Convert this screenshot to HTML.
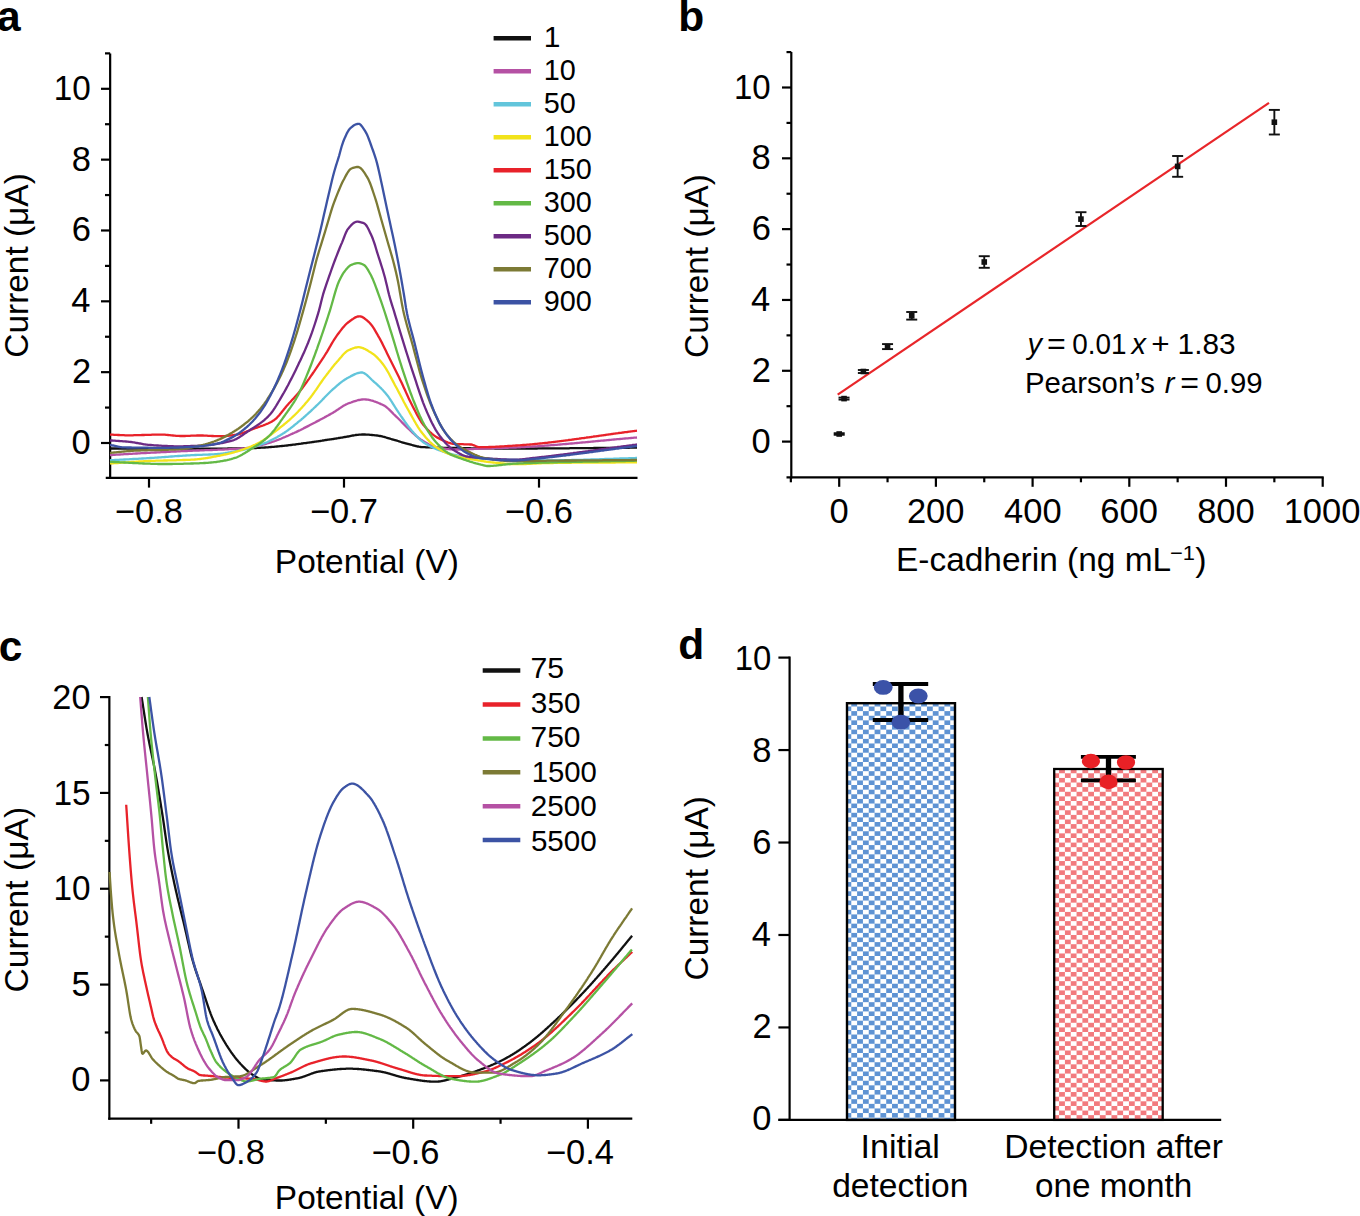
<!DOCTYPE html><html><head><meta charset="utf-8"><style>html,body{margin:0;padding:0;background:#fff;}svg{display:block;}text{font-family:"Liberation Sans", sans-serif;fill:#000;}</style></head><body>
<svg width="1360" height="1216" viewBox="0 0 1360 1216">
<rect width="1360" height="1216" fill="#fff"/>
<text x="-3.01" y="30.80" font-size="42.50" font-weight="bold" font-style="normal">a</text>
<line x1="101.00" y1="443.00" x2="110.15" y2="443.00" stroke="#000" stroke-width="2.20" stroke-linecap="butt"/>
<text x="71.56" y="454.00" font-size="34.50" font-weight="normal" font-style="normal">0</text>
<line x1="101.00" y1="372.16" x2="110.15" y2="372.16" stroke="#000" stroke-width="2.20" stroke-linecap="butt"/>
<text x="71.95" y="383.16" font-size="34.50" font-weight="normal" font-style="normal">2</text>
<line x1="101.00" y1="301.32" x2="110.15" y2="301.32" stroke="#000" stroke-width="2.20" stroke-linecap="butt"/>
<text x="71.22" y="312.32" font-size="34.50" font-weight="normal" font-style="normal">4</text>
<line x1="101.00" y1="230.48" x2="110.15" y2="230.48" stroke="#000" stroke-width="2.20" stroke-linecap="butt"/>
<text x="71.73" y="241.48" font-size="34.50" font-weight="normal" font-style="normal">6</text>
<line x1="101.00" y1="159.64" x2="110.15" y2="159.64" stroke="#000" stroke-width="2.20" stroke-linecap="butt"/>
<text x="71.71" y="170.64" font-size="34.50" font-weight="normal" font-style="normal">8</text>
<line x1="101.00" y1="88.80" x2="110.15" y2="88.80" stroke="#000" stroke-width="2.20" stroke-linecap="butt"/>
<text x="53.66" y="99.80" font-size="34.50" font-weight="normal" font-style="normal" textLength="37.04" lengthAdjust="spacingAndGlyphs">10</text>
<line x1="105.00" y1="407.58" x2="110.15" y2="407.58" stroke="#000" stroke-width="2.20" stroke-linecap="butt"/>
<line x1="105.00" y1="336.74" x2="110.15" y2="336.74" stroke="#000" stroke-width="2.20" stroke-linecap="butt"/>
<line x1="105.00" y1="265.90" x2="110.15" y2="265.90" stroke="#000" stroke-width="2.20" stroke-linecap="butt"/>
<line x1="105.00" y1="195.06" x2="110.15" y2="195.06" stroke="#000" stroke-width="2.20" stroke-linecap="butt"/>
<line x1="105.00" y1="124.22" x2="110.15" y2="124.22" stroke="#000" stroke-width="2.20" stroke-linecap="butt"/>
<line x1="105.00" y1="53.38" x2="110.15" y2="53.38" stroke="#000" stroke-width="2.20" stroke-linecap="butt"/>
<line x1="110.15" y1="53.38" x2="110.15" y2="479.00" stroke="#000" stroke-width="2.20" stroke-linecap="butt"/>
<line x1="105.75" y1="477.90" x2="637.50" y2="477.90" stroke="#000" stroke-width="2.20" stroke-linecap="butt"/>
<line x1="149.00" y1="477.90" x2="149.00" y2="487.60" stroke="#000" stroke-width="2.20" stroke-linecap="butt"/>
<text x="114.85" y="523.30" font-size="34.50" font-weight="normal" font-style="normal">−0.8</text>
<line x1="344.00" y1="477.90" x2="344.00" y2="487.60" stroke="#000" stroke-width="2.20" stroke-linecap="butt"/>
<text x="309.96" y="523.30" font-size="34.50" font-weight="normal" font-style="normal">−0.7</text>
<line x1="539.00" y1="477.90" x2="539.00" y2="487.60" stroke="#000" stroke-width="2.20" stroke-linecap="butt"/>
<text x="504.85" y="523.30" font-size="34.50" font-weight="normal" font-style="normal">−0.6</text>
<text x="274.86" y="572.60" font-size="34.00" font-weight="normal" font-style="normal" textLength="184.02" lengthAdjust="spacingAndGlyphs">Potential (V)</text>
<text transform="translate(27.80 356.00) rotate(-90)" x="-1.70" y="0" font-size="34" textLength="184.47" lengthAdjust="spacingAndGlyphs">Current (μA)</text>
<g fill="none" stroke-width="2.3" stroke-linejoin="round">
<path d="M110.0 448.5 L111.0 448.5 L112.0 448.5 L113.0 448.5 L114.0 448.5 L115.0 448.5 L116.0 448.5 L117.0 448.5 L118.0 448.5 L119.0 448.5 L120.0 448.5 L121.0 448.5 L122.0 448.5 L123.0 448.5 L124.0 448.5 L125.0 448.5 L126.0 448.6 L127.0 448.6 L128.0 448.6 L129.0 448.6 L130.0 448.6 L131.0 448.6 L132.0 448.6 L133.0 448.6 L134.0 448.6 L135.0 448.6 L136.0 448.6 L137.0 448.6 L138.0 448.6 L139.0 448.6 L140.0 448.6 L141.0 448.6 L142.0 448.6 L143.0 448.6 L144.0 448.6 L145.0 448.6 L146.0 448.6 L147.0 448.6 L148.0 448.6 L149.0 448.6 L150.0 448.6 L151.0 448.6 L152.0 448.6 L153.0 448.6 L154.0 448.7 L155.0 448.7 L156.0 448.7 L157.0 448.7 L158.0 448.7 L159.0 448.7 L160.0 448.7 L161.0 448.7 L162.0 448.7 L163.0 448.7 L164.0 448.7 L165.0 448.7 L166.0 448.7 L167.0 448.7 L168.0 448.7 L169.0 448.7 L170.0 448.7 L171.0 448.7 L172.0 448.7 L173.0 448.7 L174.0 448.7 L175.0 448.7 L176.0 448.7 L177.0 448.7 L178.0 448.7 L179.0 448.7 L180.0 448.7 L181.0 448.7 L182.0 448.7 L183.0 448.7 L184.0 448.7 L185.0 448.7 L186.0 448.7 L187.0 448.7 L188.0 448.7 L189.0 448.7 L190.0 448.7 L191.0 448.7 L192.0 448.7 L193.0 448.7 L194.0 448.7 L195.0 448.7 L196.0 448.7 L197.0 448.7 L198.0 448.7 L199.0 448.7 L200.0 448.8 L201.0 448.7 L202.0 448.7 L203.0 448.7 L204.0 448.7 L205.0 448.7 L206.0 448.7 L207.0 448.7 L208.0 448.7 L209.0 448.7 L210.0 448.7 L211.0 448.7 L212.0 448.7 L213.0 448.7 L214.0 448.7 L215.0 448.7 L216.0 448.7 L217.0 448.7 L218.0 448.7 L219.0 448.6 L220.0 448.6 L221.0 448.6 L222.0 448.6 L223.0 448.6 L224.0 448.6 L225.0 448.6 L226.0 448.6 L227.0 448.6 L228.0 448.5 L229.0 448.5 L230.0 448.5 L231.0 448.5 L232.0 448.5 L233.0 448.5 L234.0 448.4 L235.0 448.4 L236.0 448.4 L237.0 448.4 L238.0 448.4 L239.0 448.3 L240.0 448.3 L241.0 448.3 L242.0 448.3 L243.0 448.3 L244.0 448.2 L245.0 448.2 L246.0 448.2 L247.0 448.2 L248.0 448.2 L249.0 448.1 L250.0 448.1 L251.0 448.1 L252.0 448.1 L253.0 448.0 L254.0 448.0 L255.0 448.0 L256.0 448.0 L257.0 447.9 L258.0 447.9 L259.0 447.8 L260.0 447.8 L261.0 447.7 L262.0 447.7 L263.0 447.6 L264.0 447.6 L265.0 447.5 L266.0 447.4 L267.0 447.3 L268.0 447.3 L269.0 447.2 L270.0 447.1 L271.0 447.0 L272.0 446.9 L273.0 446.8 L274.0 446.8 L275.0 446.7 L276.0 446.6 L277.0 446.5 L278.0 446.4 L279.0 446.3 L280.0 446.2 L281.0 446.1 L282.0 446.0 L283.0 445.9 L284.0 445.8 L285.0 445.7 L286.0 445.6 L287.0 445.5 L288.0 445.4 L289.0 445.2 L290.0 445.1 L291.0 445.0 L292.0 444.9 L293.0 444.7 L294.0 444.6 L295.0 444.5 L296.0 444.3 L297.0 444.2 L298.0 444.1 L299.0 443.9 L300.0 443.8 L301.0 443.7 L302.0 443.5 L303.0 443.4 L304.0 443.2 L305.0 443.1 L306.0 443.0 L307.0 442.8 L308.0 442.7 L309.0 442.6 L310.0 442.4 L311.0 442.3 L312.0 442.1 L313.0 442.0 L314.0 441.9 L315.0 441.7 L316.0 441.6 L317.0 441.4 L318.0 441.3 L319.0 441.1 L320.0 441.0 L321.0 440.8 L322.0 440.7 L323.0 440.5 L324.0 440.4 L325.0 440.2 L326.0 440.0 L327.0 439.9 L328.0 439.7 L329.0 439.6 L330.0 439.4 L331.0 439.3 L332.0 439.1 L333.0 439.0 L334.0 438.8 L335.0 438.6 L336.0 438.5 L337.0 438.3 L338.0 438.2 L339.0 438.0 L340.0 437.9 L341.0 437.7 L342.0 437.6 L343.0 437.4 L344.0 437.2 L345.0 437.0 L346.0 436.9 L347.0 436.7 L348.0 436.5 L349.0 436.3 L350.0 436.1 L351.0 435.9 L352.0 435.7 L353.0 435.5 L354.0 435.3 L355.0 435.2 L356.0 435.0 L357.0 434.9 L358.0 434.8 L359.0 434.7 L360.0 434.6 L361.0 434.6 L362.0 434.5 L363.0 434.5 L364.0 434.5 L365.0 434.5 L366.0 434.6 L367.0 434.6 L368.0 434.7 L369.0 434.7 L370.0 434.8 L371.0 434.9 L372.0 435.0 L373.0 435.1 L374.0 435.2 L375.0 435.3 L376.0 435.4 L377.0 435.5 L378.0 435.6 L379.0 435.8 L380.0 436.0 L381.0 436.2 L382.0 436.4 L383.0 436.7 L384.0 436.9 L385.0 437.2 L386.0 437.5 L387.0 437.8 L388.0 438.1 L389.0 438.4 L390.0 438.7 L391.0 439.0 L392.0 439.3 L393.0 439.5 L394.0 439.8 L395.0 440.1 L396.0 440.4 L397.0 440.7 L398.0 441.0 L399.0 441.3 L400.0 441.7 L401.0 442.0 L402.0 442.3 L403.0 442.6 L404.0 442.9 L405.0 443.2 L406.0 443.5 L407.0 443.7 L408.0 444.0 L409.0 444.2 L410.0 444.5 L411.0 444.7 L412.0 445.0 L413.0 445.3 L414.0 445.5 L415.0 445.8 L416.0 446.0 L417.0 446.3 L418.0 446.5 L419.0 446.7 L420.0 446.8 L421.0 447.0 L422.0 447.1 L423.0 447.2 L424.0 447.2 L425.0 447.2 L426.0 447.3 L427.0 447.3 L428.0 447.3 L429.0 447.4 L430.0 447.4 L431.0 447.4 L432.0 447.5 L433.0 447.5 L434.0 447.5 L435.0 447.5 L436.0 447.6 L437.0 447.6 L438.0 447.6 L439.0 447.7 L440.0 447.7 L441.0 447.7 L442.0 447.7 L443.0 447.8 L444.0 447.8 L445.0 447.8 L446.0 447.8 L447.0 447.8 L448.0 447.9 L449.0 447.9 L450.0 447.9 L451.0 447.9 L452.0 447.9 L453.0 448.0 L454.0 448.0 L455.0 448.0 L456.0 448.0 L457.0 448.0 L458.0 448.1 L459.0 448.1 L460.0 448.1 L461.0 448.1 L462.0 448.1 L463.0 448.1 L464.0 448.2 L465.0 448.2 L466.0 448.2 L467.0 448.2 L468.0 448.2 L469.0 448.2 L470.0 448.2 L471.0 448.3 L472.0 448.3 L473.0 448.3 L474.0 448.3 L475.0 448.3 L476.0 448.3 L477.0 448.3 L478.0 448.3 L479.0 448.3 L480.0 448.4 L481.0 448.4 L482.0 448.4 L483.0 448.4 L484.0 448.4 L485.0 448.4 L486.0 448.4 L487.0 448.4 L488.0 448.4 L489.0 448.4 L490.0 448.4 L491.0 448.4 L492.0 448.4 L493.0 448.4 L494.0 448.4 L495.0 448.5 L496.0 448.5 L497.0 448.5 L498.0 448.5 L499.0 448.5 L500.0 448.5 L501.0 448.5 L502.0 448.5 L503.0 448.5 L504.0 448.5 L505.0 448.5 L506.0 448.5 L507.0 448.5 L508.0 448.5 L509.0 448.5 L510.0 448.5 L511.0 448.5 L512.0 448.5 L513.0 448.5 L514.0 448.5 L515.0 448.5 L516.0 448.5 L517.0 448.5 L518.0 448.5 L519.0 448.5 L520.0 448.5 L521.0 448.5 L522.0 448.5 L523.0 448.5 L524.0 448.5 L525.0 448.5 L526.0 448.5 L527.0 448.5 L528.0 448.5 L529.0 448.5 L530.0 448.5 L531.0 448.5 L532.0 448.5 L533.0 448.5 L534.0 448.5 L535.0 448.5 L536.0 448.5 L537.0 448.5 L538.0 448.4 L539.0 448.4 L540.0 448.4 L541.0 448.4 L542.0 448.4 L543.0 448.4 L544.0 448.4 L545.0 448.4 L546.0 448.4 L547.0 448.4 L548.0 448.4 L549.0 448.4 L550.0 448.4 L551.0 448.4 L552.0 448.4 L553.0 448.4 L554.0 448.4 L555.0 448.4 L556.0 448.3 L557.0 448.3 L558.0 448.3 L559.0 448.3 L560.0 448.3 L561.0 448.3 L562.0 448.3 L563.0 448.3 L564.0 448.3 L565.0 448.3 L566.0 448.3 L567.0 448.3 L568.0 448.3 L569.0 448.3 L570.0 448.2 L571.0 448.2 L572.0 448.2 L573.0 448.2 L574.0 448.2 L575.0 448.2 L576.0 448.2 L577.0 448.2 L578.0 448.2 L579.0 448.2 L580.0 448.2 L581.0 448.2 L582.0 448.1 L583.0 448.1 L584.0 448.1 L585.0 448.1 L586.0 448.1 L587.0 448.1 L588.0 448.1 L589.0 448.1 L590.0 448.1 L591.0 448.1 L592.0 448.1 L593.0 448.1 L594.0 448.0 L595.0 448.0 L596.0 448.0 L597.0 448.0 L598.0 448.0 L599.0 448.0 L600.0 448.0 L601.0 448.0 L602.0 448.0 L603.0 448.0 L604.0 448.0 L605.0 448.0 L606.0 447.9 L607.0 447.9 L608.0 447.9 L609.0 447.9 L610.0 447.9 L611.0 447.9 L612.0 447.9 L613.0 447.9 L614.0 447.9 L615.0 447.9 L616.0 447.9 L617.0 447.8 L618.0 447.8 L619.0 447.8 L620.0 447.8 L621.0 447.8 L622.0 447.8 L623.0 447.8 L624.0 447.8 L625.0 447.8 L626.0 447.8 L627.0 447.8 L628.0 447.8 L629.0 447.8 L630.0 447.7 L631.0 447.7 L632.0 447.7 L633.0 447.7 L634.0 447.7 L635.0 447.7 L636.0 447.7 L637.0 447.7" stroke="#111111"/>
<path d="M110.0 455.1 L111.0 455.0 L112.0 455.0 L113.0 454.9 L114.0 454.9 L115.0 454.8 L116.0 454.7 L117.0 454.7 L118.0 454.6 L119.0 454.6 L120.0 454.5 L121.0 454.4 L122.0 454.4 L123.0 454.3 L124.0 454.2 L125.0 454.2 L126.0 454.1 L127.0 454.1 L128.0 454.0 L129.0 453.9 L130.0 453.9 L131.0 453.8 L132.0 453.8 L133.0 453.7 L134.0 453.6 L135.0 453.6 L136.0 453.5 L137.0 453.5 L138.0 453.4 L139.0 453.4 L140.0 453.3 L141.0 453.2 L142.0 453.2 L143.0 453.1 L144.0 453.1 L145.0 453.0 L146.0 453.0 L147.0 452.9 L148.0 452.9 L149.0 452.8 L150.0 452.8 L151.0 452.7 L152.0 452.7 L153.0 452.6 L154.0 452.6 L155.0 452.5 L156.0 452.5 L157.0 452.4 L158.0 452.4 L159.0 452.3 L160.0 452.3 L161.0 452.2 L162.0 452.2 L163.0 452.1 L164.0 452.1 L165.0 452.0 L166.0 452.0 L167.0 451.9 L168.0 451.9 L169.0 451.8 L170.0 451.8 L171.0 451.7 L172.0 451.7 L173.0 451.6 L174.0 451.6 L175.0 451.5 L176.0 451.5 L177.0 451.4 L178.0 451.4 L179.0 451.3 L180.0 451.3 L181.0 451.2 L182.0 451.2 L183.0 451.2 L184.0 451.1 L185.0 451.1 L186.0 451.0 L187.0 451.0 L188.0 450.9 L189.0 450.9 L190.0 450.8 L191.0 450.8 L192.0 450.8 L193.0 450.7 L194.0 450.7 L195.0 450.6 L196.0 450.6 L197.0 450.5 L198.0 450.5 L199.0 450.5 L200.0 450.4 L201.0 450.4 L202.0 450.4 L203.0 450.3 L204.0 450.3 L205.0 450.2 L206.0 450.2 L207.0 450.2 L208.0 450.1 L209.0 450.1 L210.0 450.1 L211.0 450.0 L212.0 450.0 L213.0 449.9 L214.0 449.9 L215.0 449.9 L216.0 449.8 L217.0 449.8 L218.0 449.7 L219.0 449.7 L220.0 449.7 L221.0 449.6 L222.0 449.6 L223.0 449.5 L224.0 449.5 L225.0 449.4 L226.0 449.4 L227.0 449.3 L228.0 449.3 L229.0 449.2 L230.0 449.2 L231.0 449.1 L232.0 449.1 L233.0 449.0 L234.0 449.0 L235.0 448.9 L236.0 448.8 L237.0 448.8 L238.0 448.7 L239.0 448.7 L240.0 448.6 L241.0 448.5 L242.0 448.4 L243.0 448.4 L244.0 448.3 L245.0 448.2 L246.0 448.1 L247.0 448.0 L248.0 447.9 L249.0 447.8 L250.0 447.6 L251.0 447.4 L252.0 447.3 L253.0 447.1 L254.0 446.9 L255.0 446.7 L256.0 446.5 L257.0 446.2 L258.0 446.0 L259.0 445.7 L260.0 445.5 L261.0 445.2 L262.0 444.9 L263.0 444.6 L264.0 444.4 L265.0 444.1 L266.0 443.8 L267.0 443.5 L268.0 443.2 L269.0 442.9 L270.0 442.6 L271.0 442.3 L272.0 442.0 L273.0 441.7 L274.0 441.3 L275.0 441.0 L276.0 440.6 L277.0 440.2 L278.0 439.9 L279.0 439.5 L280.0 439.1 L281.0 438.7 L282.0 438.2 L283.0 437.8 L284.0 437.4 L285.0 437.0 L286.0 436.5 L287.0 436.1 L288.0 435.7 L289.0 435.2 L290.0 434.8 L291.0 434.3 L292.0 433.9 L293.0 433.4 L294.0 433.0 L295.0 432.5 L296.0 432.1 L297.0 431.6 L298.0 431.1 L299.0 430.6 L300.0 430.2 L301.0 429.7 L302.0 429.2 L303.0 428.7 L304.0 428.1 L305.0 427.6 L306.0 427.1 L307.0 426.6 L308.0 426.1 L309.0 425.6 L310.0 425.0 L311.0 424.5 L312.0 424.0 L313.0 423.5 L314.0 423.0 L315.0 422.5 L316.0 421.9 L317.0 421.4 L318.0 420.9 L319.0 420.4 L320.0 419.8 L321.0 419.3 L322.0 418.8 L323.0 418.2 L324.0 417.7 L325.0 417.1 L326.0 416.6 L327.0 416.0 L328.0 415.5 L329.0 414.9 L330.0 414.4 L331.0 413.8 L332.0 413.3 L333.0 412.7 L334.0 412.1 L335.0 411.5 L336.0 410.8 L337.0 410.1 L338.0 409.5 L339.0 408.8 L340.0 408.1 L341.0 407.4 L342.0 406.8 L343.0 406.1 L344.0 405.5 L345.0 405.0 L346.0 404.4 L347.0 404.0 L348.0 403.5 L349.0 403.2 L350.0 402.8 L351.0 402.5 L352.0 402.1 L353.0 401.7 L354.0 401.4 L355.0 401.1 L356.0 400.8 L357.0 400.5 L358.0 400.2 L359.0 400.0 L360.0 399.8 L361.0 399.6 L362.0 399.5 L363.0 399.4 L364.0 399.4 L365.0 399.4 L366.0 399.5 L367.0 399.6 L368.0 399.7 L369.0 399.9 L370.0 400.1 L371.0 400.4 L372.0 400.6 L373.0 400.9 L374.0 401.3 L375.0 401.6 L376.0 402.0 L377.0 402.4 L378.0 402.8 L379.0 403.2 L380.0 403.6 L381.0 404.1 L382.0 404.5 L383.0 405.0 L384.0 405.5 L385.0 406.1 L386.0 406.8 L387.0 407.6 L388.0 408.5 L389.0 409.4 L390.0 410.4 L391.0 411.4 L392.0 412.4 L393.0 413.4 L394.0 414.5 L395.0 415.4 L396.0 416.4 L397.0 417.3 L398.0 418.3 L399.0 419.3 L400.0 420.3 L401.0 421.3 L402.0 422.4 L403.0 423.4 L404.0 424.4 L405.0 425.4 L406.0 426.4 L407.0 427.4 L408.0 428.3 L409.0 429.2 L410.0 430.2 L411.0 431.2 L412.0 432.1 L413.0 433.1 L414.0 434.0 L415.0 434.9 L416.0 435.8 L417.0 436.7 L418.0 437.5 L419.0 438.3 L420.0 439.0 L421.0 439.7 L422.0 440.3 L423.0 440.9 L424.0 441.6 L425.0 442.2 L426.0 442.8 L427.0 443.4 L428.0 443.9 L429.0 444.5 L430.0 445.0 L431.0 445.4 L432.0 445.9 L433.0 446.3 L434.0 446.6 L435.0 446.9 L436.0 447.1 L437.0 447.3 L438.0 447.5 L439.0 447.7 L440.0 447.9 L441.0 448.1 L442.0 448.3 L443.0 448.4 L444.0 448.6 L445.0 448.7 L446.0 448.9 L447.0 449.0 L448.0 449.1 L449.0 449.2 L450.0 449.3 L451.0 449.4 L452.0 449.4 L453.0 449.5 L454.0 449.5 L455.0 449.5 L456.0 449.5 L457.0 449.5 L458.0 449.5 L459.0 449.5 L460.0 449.4 L461.0 449.4 L462.0 449.4 L463.0 449.4 L464.0 449.3 L465.0 449.3 L466.0 449.3 L467.0 449.2 L468.0 449.2 L469.0 449.2 L470.0 449.1 L471.0 449.1 L472.0 449.0 L473.0 449.0 L474.0 448.9 L475.0 448.9 L476.0 448.9 L477.0 448.8 L478.0 448.8 L479.0 448.7 L480.0 448.7 L481.0 448.6 L482.0 448.6 L483.0 448.6 L484.0 448.5 L485.0 448.5 L486.0 448.5 L487.0 448.4 L488.0 448.4 L489.0 448.4 L490.0 448.3 L491.0 448.3 L492.0 448.3 L493.0 448.2 L494.0 448.2 L495.0 448.2 L496.0 448.2 L497.0 448.1 L498.0 448.1 L499.0 448.1 L500.0 448.0 L501.0 448.0 L502.0 448.0 L503.0 447.9 L504.0 447.9 L505.0 447.9 L506.0 447.8 L507.0 447.8 L508.0 447.8 L509.0 447.7 L510.0 447.7 L511.0 447.7 L512.0 447.6 L513.0 447.6 L514.0 447.5 L515.0 447.5 L516.0 447.5 L517.0 447.4 L518.0 447.4 L519.0 447.3 L520.0 447.3 L521.0 447.2 L522.0 447.2 L523.0 447.1 L524.0 447.1 L525.0 447.0 L526.0 446.9 L527.0 446.9 L528.0 446.8 L529.0 446.8 L530.0 446.7 L531.0 446.7 L532.0 446.6 L533.0 446.5 L534.0 446.5 L535.0 446.4 L536.0 446.3 L537.0 446.3 L538.0 446.2 L539.0 446.1 L540.0 446.1 L541.0 446.0 L542.0 445.9 L543.0 445.8 L544.0 445.8 L545.0 445.7 L546.0 445.6 L547.0 445.5 L548.0 445.5 L549.0 445.4 L550.0 445.3 L551.0 445.2 L552.0 445.2 L553.0 445.1 L554.0 445.0 L555.0 444.9 L556.0 444.8 L557.0 444.8 L558.0 444.7 L559.0 444.6 L560.0 444.5 L561.0 444.4 L562.0 444.3 L563.0 444.2 L564.0 444.2 L565.0 444.1 L566.0 444.0 L567.0 443.9 L568.0 443.8 L569.0 443.7 L570.0 443.6 L571.0 443.5 L572.0 443.5 L573.0 443.4 L574.0 443.3 L575.0 443.2 L576.0 443.1 L577.0 443.0 L578.0 442.9 L579.0 442.8 L580.0 442.7 L581.0 442.6 L582.0 442.5 L583.0 442.4 L584.0 442.3 L585.0 442.3 L586.0 442.2 L587.0 442.1 L588.0 442.0 L589.0 441.9 L590.0 441.8 L591.0 441.7 L592.0 441.6 L593.0 441.5 L594.0 441.4 L595.0 441.3 L596.0 441.2 L597.0 441.1 L598.0 441.0 L599.0 440.9 L600.0 440.8 L601.0 440.7 L602.0 440.6 L603.0 440.6 L604.0 440.5 L605.0 440.4 L606.0 440.3 L607.0 440.2 L608.0 440.1 L609.0 440.0 L610.0 439.9 L611.0 439.8 L612.0 439.7 L613.0 439.6 L614.0 439.5 L615.0 439.4 L616.0 439.3 L617.0 439.2 L618.0 439.2 L619.0 439.1 L620.0 439.0 L621.0 438.9 L622.0 438.8 L623.0 438.7 L624.0 438.6 L625.0 438.5 L626.0 438.4 L627.0 438.3 L628.0 438.3 L629.0 438.2 L630.0 438.1 L631.0 438.0 L632.0 437.9 L633.0 437.8 L634.0 437.7 L635.0 437.7 L636.0 437.6 L637.0 437.5" stroke="#b551a4"/>
<path d="M110.0 460.3 L111.0 460.2 L112.0 460.2 L113.0 460.1 L114.0 460.1 L115.0 460.0 L116.0 460.0 L117.0 459.9 L118.0 459.9 L119.0 459.8 L120.0 459.7 L121.0 459.7 L122.0 459.6 L123.0 459.6 L124.0 459.5 L125.0 459.5 L126.0 459.4 L127.0 459.4 L128.0 459.3 L129.0 459.3 L130.0 459.2 L131.0 459.1 L132.0 459.1 L133.0 459.0 L134.0 459.0 L135.0 458.9 L136.0 458.9 L137.0 458.8 L138.0 458.8 L139.0 458.7 L140.0 458.6 L141.0 458.6 L142.0 458.5 L143.0 458.5 L144.0 458.4 L145.0 458.3 L146.0 458.3 L147.0 458.2 L148.0 458.2 L149.0 458.1 L150.0 458.0 L151.0 458.0 L152.0 457.9 L153.0 457.8 L154.0 457.8 L155.0 457.7 L156.0 457.6 L157.0 457.6 L158.0 457.5 L159.0 457.4 L160.0 457.4 L161.0 457.3 L162.0 457.2 L163.0 457.1 L164.0 457.1 L165.0 457.0 L166.0 456.9 L167.0 456.8 L168.0 456.8 L169.0 456.7 L170.0 456.6 L171.0 456.5 L172.0 456.5 L173.0 456.4 L174.0 456.3 L175.0 456.2 L176.0 456.2 L177.0 456.1 L178.0 456.0 L179.0 456.0 L180.0 455.9 L181.0 455.8 L182.0 455.8 L183.0 455.7 L184.0 455.6 L185.0 455.6 L186.0 455.5 L187.0 455.4 L188.0 455.4 L189.0 455.3 L190.0 455.3 L191.0 455.2 L192.0 455.2 L193.0 455.1 L194.0 455.1 L195.0 455.0 L196.0 455.0 L197.0 454.9 L198.0 454.9 L199.0 454.9 L200.0 454.8 L201.0 454.8 L202.0 454.8 L203.0 454.7 L204.0 454.7 L205.0 454.7 L206.0 454.6 L207.0 454.6 L208.0 454.6 L209.0 454.5 L210.0 454.5 L211.0 454.4 L212.0 454.4 L213.0 454.3 L214.0 454.3 L215.0 454.2 L216.0 454.2 L217.0 454.1 L218.0 454.0 L219.0 453.9 L220.0 453.8 L221.0 453.7 L222.0 453.6 L223.0 453.5 L224.0 453.3 L225.0 453.2 L226.0 453.0 L227.0 452.9 L228.0 452.7 L229.0 452.5 L230.0 452.4 L231.0 452.2 L232.0 452.0 L233.0 451.8 L234.0 451.6 L235.0 451.4 L236.0 451.2 L237.0 451.0 L238.0 450.8 L239.0 450.6 L240.0 450.4 L241.0 450.2 L242.0 450.0 L243.0 449.8 L244.0 449.6 L245.0 449.3 L246.0 449.1 L247.0 448.8 L248.0 448.6 L249.0 448.3 L250.0 448.0 L251.0 447.8 L252.0 447.5 L253.0 447.2 L254.0 446.9 L255.0 446.6 L256.0 446.2 L257.0 445.9 L258.0 445.6 L259.0 445.2 L260.0 444.9 L261.0 444.5 L262.0 444.2 L263.0 443.8 L264.0 443.4 L265.0 443.0 L266.0 442.6 L267.0 442.2 L268.0 441.7 L269.0 441.3 L270.0 440.8 L271.0 440.3 L272.0 439.8 L273.0 439.3 L274.0 438.8 L275.0 438.3 L276.0 437.7 L277.0 437.2 L278.0 436.6 L279.0 436.0 L280.0 435.4 L281.0 434.8 L282.0 434.2 L283.0 433.6 L284.0 433.0 L285.0 432.3 L286.0 431.6 L287.0 430.9 L288.0 430.2 L289.0 429.4 L290.0 428.7 L291.0 427.9 L292.0 427.1 L293.0 426.3 L294.0 425.5 L295.0 424.7 L296.0 423.9 L297.0 423.1 L298.0 422.2 L299.0 421.4 L300.0 420.6 L301.0 419.8 L302.0 418.9 L303.0 418.1 L304.0 417.2 L305.0 416.3 L306.0 415.4 L307.0 414.5 L308.0 413.6 L309.0 412.7 L310.0 411.8 L311.0 410.9 L312.0 409.9 L313.0 409.0 L314.0 408.0 L315.0 407.1 L316.0 406.1 L317.0 405.2 L318.0 404.2 L319.0 403.2 L320.0 402.2 L321.0 401.2 L322.0 400.2 L323.0 399.1 L324.0 398.1 L325.0 397.0 L326.0 396.0 L327.0 395.0 L328.0 394.0 L329.0 393.0 L330.0 392.0 L331.0 391.0 L332.0 390.1 L333.0 389.2 L334.0 388.3 L335.0 387.5 L336.0 386.6 L337.0 385.7 L338.0 384.8 L339.0 384.0 L340.0 383.2 L341.0 382.4 L342.0 381.6 L343.0 380.9 L344.0 380.2 L345.0 379.5 L346.0 378.9 L347.0 378.3 L348.0 377.8 L349.0 377.2 L350.0 376.7 L351.0 376.1 L352.0 375.6 L353.0 375.1 L354.0 374.6 L355.0 374.1 L356.0 373.7 L357.0 373.3 L358.0 373.0 L359.0 372.8 L360.0 372.6 L361.0 372.5 L362.0 372.5 L363.0 372.7 L364.0 373.1 L365.0 373.7 L366.0 374.4 L367.0 375.2 L368.0 376.1 L369.0 377.0 L370.0 378.0 L371.0 379.0 L372.0 380.0 L373.0 380.9 L374.0 381.8 L375.0 382.7 L376.0 383.5 L377.0 384.4 L378.0 385.4 L379.0 386.3 L380.0 387.3 L381.0 388.2 L382.0 389.3 L383.0 390.3 L384.0 391.4 L385.0 392.5 L386.0 393.7 L387.0 394.9 L388.0 396.2 L389.0 397.7 L390.0 399.1 L391.0 400.7 L392.0 402.2 L393.0 403.8 L394.0 405.4 L395.0 407.0 L396.0 408.6 L397.0 410.2 L398.0 411.7 L399.0 413.2 L400.0 414.6 L401.0 416.1 L402.0 417.5 L403.0 419.0 L404.0 420.4 L405.0 421.8 L406.0 423.2 L407.0 424.6 L408.0 426.0 L409.0 427.3 L410.0 428.5 L411.0 429.7 L412.0 430.9 L413.0 432.0 L414.0 433.2 L415.0 434.3 L416.0 435.4 L417.0 436.5 L418.0 437.5 L419.0 438.5 L420.0 439.5 L421.0 440.4 L422.0 441.2 L423.0 442.0 L424.0 442.7 L425.0 443.3 L426.0 443.9 L427.0 444.5 L428.0 445.1 L429.0 445.7 L430.0 446.2 L431.0 446.7 L432.0 447.2 L433.0 447.7 L434.0 448.1 L435.0 448.5 L436.0 449.0 L437.0 449.4 L438.0 449.8 L439.0 450.1 L440.0 450.5 L441.0 450.9 L442.0 451.2 L443.0 451.6 L444.0 451.9 L445.0 452.3 L446.0 452.6 L447.0 452.9 L448.0 453.2 L449.0 453.5 L450.0 453.8 L451.0 454.0 L452.0 454.3 L453.0 454.5 L454.0 454.8 L455.0 455.0 L456.0 455.2 L457.0 455.4 L458.0 455.6 L459.0 455.9 L460.0 456.1 L461.0 456.3 L462.0 456.5 L463.0 456.6 L464.0 456.8 L465.0 457.0 L466.0 457.2 L467.0 457.3 L468.0 457.5 L469.0 457.6 L470.0 457.7 L471.0 457.9 L472.0 458.0 L473.0 458.0 L474.0 458.1 L475.0 458.2 L476.0 458.2 L477.0 458.3 L478.0 458.4 L479.0 458.4 L480.0 458.5 L481.0 458.5 L482.0 458.6 L483.0 458.6 L484.0 458.7 L485.0 458.7 L486.0 458.8 L487.0 458.8 L488.0 458.9 L489.0 458.9 L490.0 459.0 L491.0 459.0 L492.0 459.0 L493.0 459.1 L494.0 459.1 L495.0 459.2 L496.0 459.2 L497.0 459.2 L498.0 459.3 L499.0 459.3 L500.0 459.3 L501.0 459.3 L502.0 459.4 L503.0 459.4 L504.0 459.4 L505.0 459.5 L506.0 459.5 L507.0 459.5 L508.0 459.5 L509.0 459.6 L510.0 459.6 L511.0 459.6 L512.0 459.6 L513.0 459.7 L514.0 459.7 L515.0 459.7 L516.0 459.7 L517.0 459.7 L518.0 459.8 L519.0 459.8 L520.0 459.8 L521.0 459.8 L522.0 459.9 L523.0 459.9 L524.0 459.9 L525.0 459.9 L526.0 460.0 L527.0 460.0 L528.0 460.0 L529.0 460.0 L530.0 460.1 L531.0 460.1 L532.0 460.1 L533.0 460.1 L534.0 460.1 L535.0 460.2 L536.0 460.2 L537.0 460.2 L538.0 460.2 L539.0 460.2 L540.0 460.2 L541.0 460.2 L542.0 460.3 L543.0 460.3 L544.0 460.3 L545.0 460.3 L546.0 460.3 L547.0 460.3 L548.0 460.3 L549.0 460.3 L550.0 460.3 L551.0 460.3 L552.0 460.3 L553.0 460.3 L554.0 460.3 L555.0 460.3 L556.0 460.3 L557.0 460.3 L558.0 460.3 L559.0 460.3 L560.0 460.2 L561.0 460.2 L562.0 460.2 L563.0 460.2 L564.0 460.2 L565.0 460.2 L566.0 460.2 L567.0 460.1 L568.0 460.1 L569.0 460.1 L570.0 460.1 L571.0 460.1 L572.0 460.0 L573.0 460.0 L574.0 460.0 L575.0 460.0 L576.0 460.0 L577.0 459.9 L578.0 459.9 L579.0 459.9 L580.0 459.8 L581.0 459.8 L582.0 459.8 L583.0 459.8 L584.0 459.7 L585.0 459.7 L586.0 459.7 L587.0 459.6 L588.0 459.6 L589.0 459.6 L590.0 459.6 L591.0 459.5 L592.0 459.5 L593.0 459.5 L594.0 459.4 L595.0 459.4 L596.0 459.4 L597.0 459.3 L598.0 459.3 L599.0 459.3 L600.0 459.2 L601.0 459.2 L602.0 459.1 L603.0 459.1 L604.0 459.1 L605.0 459.0 L606.0 459.0 L607.0 459.0 L608.0 458.9 L609.0 458.9 L610.0 458.9 L611.0 458.8 L612.0 458.8 L613.0 458.8 L614.0 458.7 L615.0 458.7 L616.0 458.7 L617.0 458.6 L618.0 458.6 L619.0 458.6 L620.0 458.5 L621.0 458.5 L622.0 458.5 L623.0 458.4 L624.0 458.4 L625.0 458.4 L626.0 458.3 L627.0 458.3 L628.0 458.3 L629.0 458.2 L630.0 458.2 L631.0 458.2 L632.0 458.1 L633.0 458.1 L634.0 458.1 L635.0 458.1 L636.0 458.0 L637.0 458.0" stroke="#62c5db"/>
<path d="M110.0 463.5 L111.0 463.4 L112.0 463.4 L113.0 463.3 L114.0 463.2 L115.0 463.2 L116.0 463.1 L117.0 463.0 L118.0 463.0 L119.0 462.9 L120.0 462.8 L121.0 462.7 L122.0 462.7 L123.0 462.6 L124.0 462.5 L125.0 462.5 L126.0 462.4 L127.0 462.3 L128.0 462.3 L129.0 462.2 L130.0 462.1 L131.0 462.0 L132.0 462.0 L133.0 461.9 L134.0 461.8 L135.0 461.8 L136.0 461.7 L137.0 461.7 L138.0 461.6 L139.0 461.5 L140.0 461.5 L141.0 461.4 L142.0 461.4 L143.0 461.3 L144.0 461.2 L145.0 461.2 L146.0 461.1 L147.0 461.1 L148.0 461.0 L149.0 461.0 L150.0 461.0 L151.0 460.9 L152.0 460.9 L153.0 460.8 L154.0 460.8 L155.0 460.8 L156.0 460.7 L157.0 460.7 L158.0 460.7 L159.0 460.7 L160.0 460.6 L161.0 460.6 L162.0 460.6 L163.0 460.6 L164.0 460.5 L165.0 460.5 L166.0 460.5 L167.0 460.5 L168.0 460.4 L169.0 460.4 L170.0 460.4 L171.0 460.4 L172.0 460.3 L173.0 460.3 L174.0 460.3 L175.0 460.3 L176.0 460.3 L177.0 460.2 L178.0 460.2 L179.0 460.2 L180.0 460.1 L181.0 460.1 L182.0 460.1 L183.0 460.0 L184.0 460.0 L185.0 460.0 L186.0 459.9 L187.0 459.9 L188.0 459.9 L189.0 459.8 L190.0 459.8 L191.0 459.7 L192.0 459.7 L193.0 459.6 L194.0 459.6 L195.0 459.5 L196.0 459.4 L197.0 459.3 L198.0 459.2 L199.0 459.1 L200.0 459.0 L201.0 458.9 L202.0 458.7 L203.0 458.6 L204.0 458.4 L205.0 458.3 L206.0 458.1 L207.0 458.0 L208.0 457.8 L209.0 457.6 L210.0 457.5 L211.0 457.3 L212.0 457.1 L213.0 456.9 L214.0 456.7 L215.0 456.5 L216.0 456.3 L217.0 456.1 L218.0 455.9 L219.0 455.8 L220.0 455.6 L221.0 455.4 L222.0 455.2 L223.0 455.0 L224.0 454.7 L225.0 454.5 L226.0 454.3 L227.0 454.1 L228.0 453.8 L229.0 453.6 L230.0 453.3 L231.0 453.1 L232.0 452.8 L233.0 452.5 L234.0 452.3 L235.0 452.0 L236.0 451.7 L237.0 451.4 L238.0 451.1 L239.0 450.8 L240.0 450.5 L241.0 450.2 L242.0 449.8 L243.0 449.5 L244.0 449.2 L245.0 448.8 L246.0 448.4 L247.0 448.1 L248.0 447.7 L249.0 447.3 L250.0 446.9 L251.0 446.5 L252.0 446.0 L253.0 445.6 L254.0 445.1 L255.0 444.7 L256.0 444.2 L257.0 443.7 L258.0 443.2 L259.0 442.7 L260.0 442.2 L261.0 441.6 L262.0 441.0 L263.0 440.4 L264.0 439.7 L265.0 439.1 L266.0 438.4 L267.0 437.7 L268.0 436.9 L269.0 436.2 L270.0 435.4 L271.0 434.7 L272.0 433.9 L273.0 433.1 L274.0 432.4 L275.0 431.6 L276.0 430.8 L277.0 430.1 L278.0 429.3 L279.0 428.5 L280.0 427.7 L281.0 426.9 L282.0 426.1 L283.0 425.3 L284.0 424.5 L285.0 423.7 L286.0 422.8 L287.0 422.0 L288.0 421.1 L289.0 420.3 L290.0 419.4 L291.0 418.5 L292.0 417.5 L293.0 416.6 L294.0 415.7 L295.0 414.7 L296.0 413.7 L297.0 412.7 L298.0 411.7 L299.0 410.6 L300.0 409.6 L301.0 408.5 L302.0 407.4 L303.0 406.3 L304.0 405.2 L305.0 404.0 L306.0 402.8 L307.0 401.7 L308.0 400.5 L309.0 399.2 L310.0 398.0 L311.0 396.7 L312.0 395.4 L313.0 394.0 L314.0 392.6 L315.0 391.2 L316.0 389.8 L317.0 388.3 L318.0 386.8 L319.0 385.4 L320.0 383.9 L321.0 382.5 L322.0 381.0 L323.0 379.6 L324.0 378.2 L325.0 376.9 L326.0 375.6 L327.0 374.3 L328.0 373.0 L329.0 371.6 L330.0 370.4 L331.0 369.1 L332.0 367.8 L333.0 366.6 L334.0 365.3 L335.0 364.1 L336.0 363.0 L337.0 361.8 L338.0 360.7 L339.0 359.5 L340.0 358.3 L341.0 357.2 L342.0 356.0 L343.0 354.8 L344.0 353.8 L345.0 352.8 L346.0 351.9 L347.0 351.1 L348.0 350.5 L349.0 350.0 L350.0 349.6 L351.0 349.1 L352.0 348.7 L353.0 348.3 L354.0 348.0 L355.0 347.7 L356.0 347.5 L357.0 347.3 L358.0 347.2 L359.0 347.2 L360.0 347.3 L361.0 347.5 L362.0 347.8 L363.0 348.1 L364.0 348.6 L365.0 349.0 L366.0 349.6 L367.0 350.1 L368.0 350.7 L369.0 351.4 L370.0 352.0 L371.0 352.6 L372.0 353.3 L373.0 353.9 L374.0 354.7 L375.0 355.5 L376.0 356.4 L377.0 357.4 L378.0 358.4 L379.0 359.5 L380.0 360.6 L381.0 361.8 L382.0 363.0 L383.0 364.3 L384.0 365.6 L385.0 367.1 L386.0 368.6 L387.0 370.3 L388.0 372.0 L389.0 373.8 L390.0 375.7 L391.0 377.6 L392.0 379.5 L393.0 381.4 L394.0 383.3 L395.0 385.2 L396.0 387.0 L397.0 388.8 L398.0 390.7 L399.0 392.6 L400.0 394.5 L401.0 396.4 L402.0 398.3 L403.0 400.3 L404.0 402.2 L405.0 404.0 L406.0 405.9 L407.0 407.7 L408.0 409.5 L409.0 411.3 L410.0 413.1 L411.0 414.9 L412.0 416.7 L413.0 418.5 L414.0 420.3 L415.0 422.0 L416.0 423.8 L417.0 425.4 L418.0 427.1 L419.0 428.6 L420.0 430.1 L421.0 431.5 L422.0 432.8 L423.0 434.1 L424.0 435.3 L425.0 436.5 L426.0 437.7 L427.0 438.8 L428.0 439.9 L429.0 440.9 L430.0 442.0 L431.0 442.9 L432.0 443.8 L433.0 444.7 L434.0 445.5 L435.0 446.3 L436.0 447.0 L437.0 447.7 L438.0 448.3 L439.0 449.0 L440.0 449.6 L441.0 450.2 L442.0 450.7 L443.0 451.3 L444.0 451.8 L445.0 452.3 L446.0 452.7 L447.0 453.2 L448.0 453.6 L449.0 454.0 L450.0 454.4 L451.0 454.7 L452.0 455.0 L453.0 455.3 L454.0 455.6 L455.0 455.9 L456.0 456.2 L457.0 456.4 L458.0 456.7 L459.0 456.9 L460.0 457.1 L461.0 457.3 L462.0 457.6 L463.0 457.8 L464.0 458.0 L465.0 458.2 L466.0 458.3 L467.0 458.5 L468.0 458.7 L469.0 458.9 L470.0 459.1 L471.0 459.2 L472.0 459.4 L473.0 459.6 L474.0 459.7 L475.0 459.9 L476.0 460.1 L477.0 460.2 L478.0 460.4 L479.0 460.6 L480.0 460.7 L481.0 460.9 L482.0 461.1 L483.0 461.2 L484.0 461.4 L485.0 461.5 L486.0 461.6 L487.0 461.8 L488.0 461.9 L489.0 462.1 L490.0 462.2 L491.0 462.3 L492.0 462.4 L493.0 462.5 L494.0 462.6 L495.0 462.7 L496.0 462.8 L497.0 462.9 L498.0 463.0 L499.0 463.1 L500.0 463.2 L501.0 463.3 L502.0 463.4 L503.0 463.5 L504.0 463.6 L505.0 463.7 L506.0 463.8 L507.0 463.9 L508.0 463.9 L509.0 464.0 L510.0 464.1 L511.0 464.1 L512.0 464.1 L513.0 464.2 L514.0 464.2 L515.0 464.2 L516.0 464.2 L517.0 464.2 L518.0 464.2 L519.0 464.2 L520.0 464.1 L521.0 464.1 L522.0 464.1 L523.0 464.1 L524.0 464.0 L525.0 464.0 L526.0 464.0 L527.0 463.9 L528.0 463.9 L529.0 463.8 L530.0 463.8 L531.0 463.7 L532.0 463.7 L533.0 463.6 L534.0 463.6 L535.0 463.5 L536.0 463.5 L537.0 463.4 L538.0 463.4 L539.0 463.4 L540.0 463.3 L541.0 463.3 L542.0 463.2 L543.0 463.2 L544.0 463.2 L545.0 463.1 L546.0 463.1 L547.0 463.1 L548.0 463.0 L549.0 463.0 L550.0 463.0 L551.0 463.0 L552.0 463.0 L553.0 463.0 L554.0 462.9 L555.0 462.9 L556.0 462.9 L557.0 462.9 L558.0 462.9 L559.0 462.9 L560.0 462.9 L561.0 462.9 L562.0 462.8 L563.0 462.8 L564.0 462.8 L565.0 462.8 L566.0 462.8 L567.0 462.8 L568.0 462.8 L569.0 462.8 L570.0 462.8 L571.0 462.8 L572.0 462.7 L573.0 462.7 L574.0 462.7 L575.0 462.7 L576.0 462.7 L577.0 462.7 L578.0 462.7 L579.0 462.7 L580.0 462.7 L581.0 462.7 L582.0 462.7 L583.0 462.7 L584.0 462.6 L585.0 462.6 L586.0 462.6 L587.0 462.6 L588.0 462.6 L589.0 462.6 L590.0 462.6 L591.0 462.6 L592.0 462.6 L593.0 462.6 L594.0 462.6 L595.0 462.6 L596.0 462.6 L597.0 462.6 L598.0 462.6 L599.0 462.5 L600.0 462.5 L601.0 462.5 L602.0 462.5 L603.0 462.5 L604.0 462.5 L605.0 462.5 L606.0 462.5 L607.0 462.5 L608.0 462.5 L609.0 462.5 L610.0 462.5 L611.0 462.5 L612.0 462.5 L613.0 462.5 L614.0 462.5 L615.0 462.5 L616.0 462.4 L617.0 462.4 L618.0 462.4 L619.0 462.4 L620.0 462.4 L621.0 462.4 L622.0 462.4 L623.0 462.4 L624.0 462.4 L625.0 462.4 L626.0 462.4 L627.0 462.4 L628.0 462.4 L629.0 462.4 L630.0 462.4 L631.0 462.3 L632.0 462.3 L633.0 462.3 L634.0 462.3 L635.0 462.3 L636.0 462.3 L637.0 462.3" stroke="#f2e31b"/>
<path d="M110.0 434.6 L111.0 434.6 L112.0 434.7 L113.0 434.7 L114.0 434.8 L115.0 434.8 L116.0 434.9 L117.0 434.9 L118.0 435.0 L119.0 435.0 L120.0 435.1 L121.0 435.1 L122.0 435.2 L123.0 435.2 L124.0 435.2 L125.0 435.3 L126.0 435.3 L127.0 435.3 L128.0 435.3 L129.0 435.3 L130.0 435.3 L131.0 435.3 L132.0 435.3 L133.0 435.3 L134.0 435.2 L135.0 435.2 L136.0 435.2 L137.0 435.2 L138.0 435.2 L139.0 435.1 L140.0 435.1 L141.0 435.1 L142.0 435.0 L143.0 435.0 L144.0 435.0 L145.0 434.9 L146.0 434.9 L147.0 434.9 L148.0 434.8 L149.0 434.8 L150.0 434.8 L151.0 434.8 L152.0 434.7 L153.0 434.7 L154.0 434.7 L155.0 434.7 L156.0 434.6 L157.0 434.6 L158.0 434.6 L159.0 434.6 L160.0 434.6 L161.0 434.6 L162.0 434.6 L163.0 434.6 L164.0 434.7 L165.0 434.7 L166.0 434.8 L167.0 434.9 L168.0 435.0 L169.0 435.1 L170.0 435.2 L171.0 435.3 L172.0 435.4 L173.0 435.5 L174.0 435.6 L175.0 435.7 L176.0 435.8 L177.0 435.8 L178.0 435.9 L179.0 435.9 L180.0 436.0 L181.0 436.0 L182.0 436.0 L183.0 436.0 L184.0 436.0 L185.0 436.0 L186.0 435.9 L187.0 435.9 L188.0 435.9 L189.0 435.8 L190.0 435.8 L191.0 435.7 L192.0 435.7 L193.0 435.7 L194.0 435.6 L195.0 435.6 L196.0 435.6 L197.0 435.5 L198.0 435.5 L199.0 435.5 L200.0 435.5 L201.0 435.5 L202.0 435.5 L203.0 435.5 L204.0 435.6 L205.0 435.6 L206.0 435.7 L207.0 435.7 L208.0 435.8 L209.0 435.8 L210.0 435.9 L211.0 435.9 L212.0 436.0 L213.0 436.0 L214.0 436.1 L215.0 436.1 L216.0 436.2 L217.0 436.2 L218.0 436.2 L219.0 436.2 L220.0 436.2 L221.0 436.2 L222.0 436.2 L223.0 436.2 L224.0 436.1 L225.0 436.1 L226.0 436.0 L227.0 435.9 L228.0 435.8 L229.0 435.7 L230.0 435.5 L231.0 435.4 L232.0 435.3 L233.0 435.1 L234.0 435.0 L235.0 434.8 L236.0 434.7 L237.0 434.5 L238.0 434.3 L239.0 434.1 L240.0 433.8 L241.0 433.5 L242.0 433.2 L243.0 432.9 L244.0 432.5 L245.0 432.2 L246.0 431.8 L247.0 431.4 L248.0 431.0 L249.0 430.6 L250.0 430.2 L251.0 429.8 L252.0 429.4 L253.0 429.0 L254.0 428.7 L255.0 428.3 L256.0 427.9 L257.0 427.6 L258.0 427.2 L259.0 426.9 L260.0 426.5 L261.0 426.2 L262.0 425.8 L263.0 425.5 L264.0 425.1 L265.0 424.7 L266.0 424.3 L267.0 423.9 L268.0 423.5 L269.0 423.0 L270.0 422.5 L271.0 422.0 L272.0 421.4 L273.0 420.8 L274.0 420.2 L275.0 419.4 L276.0 418.6 L277.0 417.6 L278.0 416.5 L279.0 415.4 L280.0 414.2 L281.0 413.0 L282.0 411.7 L283.0 410.5 L284.0 409.2 L285.0 408.0 L286.0 406.7 L287.0 405.6 L288.0 404.4 L289.0 403.3 L290.0 402.3 L291.0 401.2 L292.0 400.1 L293.0 399.0 L294.0 397.9 L295.0 396.8 L296.0 395.7 L297.0 394.6 L298.0 393.4 L299.0 392.2 L300.0 391.0 L301.0 389.7 L302.0 388.5 L303.0 387.1 L304.0 385.8 L305.0 384.4 L306.0 383.0 L307.0 381.6 L308.0 380.2 L309.0 378.8 L310.0 377.3 L311.0 375.9 L312.0 374.5 L313.0 373.0 L314.0 371.6 L315.0 370.1 L316.0 368.7 L317.0 367.2 L318.0 365.7 L319.0 364.2 L320.0 362.7 L321.0 361.2 L322.0 359.6 L323.0 358.1 L324.0 356.6 L325.0 355.0 L326.0 353.4 L327.0 351.8 L328.0 350.1 L329.0 348.4 L330.0 346.7 L331.0 344.9 L332.0 343.2 L333.0 341.5 L334.0 339.9 L335.0 338.3 L336.0 336.8 L337.0 335.4 L338.0 334.0 L339.0 332.7 L340.0 331.4 L341.0 330.1 L342.0 328.8 L343.0 327.6 L344.0 326.4 L345.0 325.3 L346.0 324.3 L347.0 323.3 L348.0 322.5 L349.0 321.8 L350.0 321.0 L351.0 320.3 L352.0 319.5 L353.0 318.9 L354.0 318.2 L355.0 317.6 L356.0 317.1 L357.0 316.7 L358.0 316.5 L359.0 316.3 L360.0 316.3 L361.0 316.5 L362.0 316.9 L363.0 317.4 L364.0 318.0 L365.0 318.8 L366.0 319.6 L367.0 320.4 L368.0 321.3 L369.0 322.2 L370.0 323.2 L371.0 324.4 L372.0 325.7 L373.0 327.2 L374.0 328.7 L375.0 330.4 L376.0 332.1 L377.0 333.8 L378.0 335.6 L379.0 337.3 L380.0 339.1 L381.0 341.0 L382.0 342.9 L383.0 344.9 L384.0 347.0 L385.0 349.0 L386.0 351.1 L387.0 353.2 L388.0 355.3 L389.0 357.3 L390.0 359.3 L391.0 361.3 L392.0 363.3 L393.0 365.3 L394.0 367.3 L395.0 369.3 L396.0 371.3 L397.0 373.3 L398.0 375.3 L399.0 377.3 L400.0 379.4 L401.0 381.5 L402.0 383.6 L403.0 385.8 L404.0 387.9 L405.0 390.1 L406.0 392.4 L407.0 394.6 L408.0 396.7 L409.0 398.9 L410.0 401.0 L411.0 403.1 L412.0 405.1 L413.0 407.0 L414.0 408.9 L415.0 410.8 L416.0 412.7 L417.0 414.6 L418.0 416.4 L419.0 418.2 L420.0 419.9 L421.0 421.5 L422.0 423.0 L423.0 424.4 L424.0 425.6 L425.0 426.8 L426.0 427.9 L427.0 429.0 L428.0 430.0 L429.0 431.0 L430.0 432.0 L431.0 432.9 L432.0 433.8 L433.0 434.6 L434.0 435.4 L435.0 436.1 L436.0 436.8 L437.0 437.4 L438.0 437.9 L439.0 438.4 L440.0 438.9 L441.0 439.4 L442.0 439.9 L443.0 440.4 L444.0 440.9 L445.0 441.3 L446.0 441.7 L447.0 442.1 L448.0 442.5 L449.0 442.8 L450.0 443.1 L451.0 443.4 L452.0 443.6 L453.0 443.8 L454.0 443.9 L455.0 444.0 L456.0 444.1 L457.0 444.1 L458.0 444.1 L459.0 444.2 L460.0 444.2 L461.0 444.2 L462.0 444.2 L463.0 444.2 L464.0 444.3 L465.0 444.3 L466.0 444.3 L467.0 444.3 L468.0 444.4 L469.0 444.4 L470.0 444.5 L471.0 444.5 L472.0 444.7 L473.0 445.0 L474.0 445.4 L475.0 445.8 L476.0 446.2 L477.0 446.6 L478.0 446.9 L479.0 447.1 L480.0 447.2 L481.0 447.2 L482.0 447.2 L483.0 447.2 L484.0 447.2 L485.0 447.1 L486.0 447.1 L487.0 447.1 L488.0 447.1 L489.0 447.0 L490.0 447.0 L491.0 447.0 L492.0 446.9 L493.0 446.9 L494.0 446.8 L495.0 446.8 L496.0 446.7 L497.0 446.7 L498.0 446.6 L499.0 446.6 L500.0 446.5 L501.0 446.5 L502.0 446.4 L503.0 446.4 L504.0 446.3 L505.0 446.2 L506.0 446.2 L507.0 446.1 L508.0 446.0 L509.0 446.0 L510.0 445.9 L511.0 445.9 L512.0 445.8 L513.0 445.7 L514.0 445.7 L515.0 445.6 L516.0 445.5 L517.0 445.5 L518.0 445.4 L519.0 445.3 L520.0 445.3 L521.0 445.2 L522.0 445.1 L523.0 445.0 L524.0 445.0 L525.0 444.9 L526.0 444.8 L527.0 444.7 L528.0 444.6 L529.0 444.6 L530.0 444.5 L531.0 444.4 L532.0 444.3 L533.0 444.2 L534.0 444.1 L535.0 444.0 L536.0 443.9 L537.0 443.8 L538.0 443.7 L539.0 443.6 L540.0 443.5 L541.0 443.4 L542.0 443.3 L543.0 443.2 L544.0 443.1 L545.0 443.0 L546.0 442.9 L547.0 442.8 L548.0 442.6 L549.0 442.5 L550.0 442.4 L551.0 442.3 L552.0 442.2 L553.0 442.1 L554.0 441.9 L555.0 441.8 L556.0 441.7 L557.0 441.6 L558.0 441.4 L559.0 441.3 L560.0 441.2 L561.0 441.1 L562.0 440.9 L563.0 440.8 L564.0 440.7 L565.0 440.6 L566.0 440.4 L567.0 440.3 L568.0 440.2 L569.0 440.0 L570.0 439.9 L571.0 439.8 L572.0 439.6 L573.0 439.5 L574.0 439.4 L575.0 439.2 L576.0 439.1 L577.0 438.9 L578.0 438.8 L579.0 438.7 L580.0 438.5 L581.0 438.4 L582.0 438.2 L583.0 438.1 L584.0 438.0 L585.0 437.8 L586.0 437.7 L587.0 437.5 L588.0 437.4 L589.0 437.3 L590.0 437.1 L591.0 437.0 L592.0 436.8 L593.0 436.7 L594.0 436.5 L595.0 436.4 L596.0 436.3 L597.0 436.1 L598.0 436.0 L599.0 435.8 L600.0 435.7 L601.0 435.6 L602.0 435.4 L603.0 435.3 L604.0 435.1 L605.0 435.0 L606.0 434.8 L607.0 434.7 L608.0 434.6 L609.0 434.4 L610.0 434.3 L611.0 434.1 L612.0 434.0 L613.0 433.9 L614.0 433.7 L615.0 433.6 L616.0 433.4 L617.0 433.3 L618.0 433.2 L619.0 433.0 L620.0 432.9 L621.0 432.8 L622.0 432.6 L623.0 432.5 L624.0 432.4 L625.0 432.2 L626.0 432.1 L627.0 432.0 L628.0 431.8 L629.0 431.7 L630.0 431.6 L631.0 431.4 L632.0 431.3 L633.0 431.2 L634.0 431.1 L635.0 430.9 L636.0 430.8 L637.0 430.7" stroke="#e8222a"/>
<path d="M110.0 461.8 L111.0 461.8 L112.0 461.9 L113.0 461.9 L114.0 462.0 L115.0 462.0 L116.0 462.1 L117.0 462.1 L118.0 462.2 L119.0 462.2 L120.0 462.3 L121.0 462.3 L122.0 462.4 L123.0 462.4 L124.0 462.5 L125.0 462.5 L126.0 462.6 L127.0 462.6 L128.0 462.7 L129.0 462.8 L130.0 462.8 L131.0 462.9 L132.0 462.9 L133.0 463.0 L134.0 463.0 L135.0 463.1 L136.0 463.1 L137.0 463.2 L138.0 463.2 L139.0 463.3 L140.0 463.3 L141.0 463.4 L142.0 463.4 L143.0 463.5 L144.0 463.5 L145.0 463.6 L146.0 463.6 L147.0 463.6 L148.0 463.7 L149.0 463.7 L150.0 463.7 L151.0 463.8 L152.0 463.8 L153.0 463.8 L154.0 463.9 L155.0 463.9 L156.0 463.9 L157.0 463.9 L158.0 464.0 L159.0 464.0 L160.0 464.0 L161.0 464.0 L162.0 464.0 L163.0 464.0 L164.0 464.0 L165.0 464.0 L166.0 464.0 L167.0 464.0 L168.0 464.0 L169.0 464.0 L170.0 464.0 L171.0 464.0 L172.0 464.0 L173.0 463.9 L174.0 463.9 L175.0 463.9 L176.0 463.9 L177.0 463.9 L178.0 463.9 L179.0 463.8 L180.0 463.8 L181.0 463.8 L182.0 463.8 L183.0 463.8 L184.0 463.7 L185.0 463.7 L186.0 463.7 L187.0 463.6 L188.0 463.6 L189.0 463.6 L190.0 463.6 L191.0 463.5 L192.0 463.5 L193.0 463.5 L194.0 463.4 L195.0 463.4 L196.0 463.4 L197.0 463.3 L198.0 463.3 L199.0 463.3 L200.0 463.2 L201.0 463.2 L202.0 463.1 L203.0 463.1 L204.0 463.0 L205.0 463.0 L206.0 462.9 L207.0 462.8 L208.0 462.8 L209.0 462.7 L210.0 462.6 L211.0 462.5 L212.0 462.4 L213.0 462.3 L214.0 462.2 L215.0 462.1 L216.0 462.0 L217.0 461.8 L218.0 461.7 L219.0 461.6 L220.0 461.4 L221.0 461.2 L222.0 461.1 L223.0 460.9 L224.0 460.7 L225.0 460.5 L226.0 460.3 L227.0 460.1 L228.0 459.8 L229.0 459.6 L230.0 459.3 L231.0 459.1 L232.0 458.8 L233.0 458.5 L234.0 458.2 L235.0 457.9 L236.0 457.6 L237.0 457.2 L238.0 456.7 L239.0 456.3 L240.0 455.8 L241.0 455.2 L242.0 454.7 L243.0 454.1 L244.0 453.5 L245.0 452.9 L246.0 452.3 L247.0 451.7 L248.0 451.0 L249.0 450.4 L250.0 449.8 L251.0 449.1 L252.0 448.5 L253.0 447.9 L254.0 447.2 L255.0 446.6 L256.0 446.0 L257.0 445.3 L258.0 444.7 L259.0 444.0 L260.0 443.3 L261.0 442.6 L262.0 441.9 L263.0 441.1 L264.0 440.3 L265.0 439.5 L266.0 438.7 L267.0 437.8 L268.0 436.9 L269.0 436.0 L270.0 435.0 L271.0 433.9 L272.0 432.8 L273.0 431.6 L274.0 430.4 L275.0 429.1 L276.0 427.7 L277.0 426.4 L278.0 425.0 L279.0 423.6 L280.0 422.2 L281.0 420.7 L282.0 419.3 L283.0 417.9 L284.0 416.5 L285.0 415.1 L286.0 413.7 L287.0 412.3 L288.0 410.9 L289.0 409.5 L290.0 408.1 L291.0 406.7 L292.0 405.2 L293.0 403.7 L294.0 402.1 L295.0 400.5 L296.0 398.8 L297.0 397.0 L298.0 395.2 L299.0 393.2 L300.0 391.1 L301.0 389.0 L302.0 386.8 L303.0 384.5 L304.0 382.2 L305.0 379.8 L306.0 377.4 L307.0 374.9 L308.0 372.5 L309.0 370.0 L310.0 367.5 L311.0 365.0 L312.0 362.4 L313.0 359.7 L314.0 357.0 L315.0 354.3 L316.0 351.5 L317.0 348.8 L318.0 345.9 L319.0 343.1 L320.0 340.3 L321.0 337.4 L322.0 334.5 L323.0 331.6 L324.0 328.6 L325.0 325.6 L326.0 322.6 L327.0 319.6 L328.0 316.5 L329.0 313.4 L330.0 310.3 L331.0 307.0 L332.0 303.5 L333.0 300.0 L334.0 296.4 L335.0 292.9 L336.0 289.6 L337.0 286.5 L338.0 283.7 L339.0 281.3 L340.0 279.2 L341.0 277.2 L342.0 275.4 L343.0 273.7 L344.0 272.2 L345.0 270.9 L346.0 269.6 L347.0 268.4 L348.0 267.3 L349.0 266.4 L350.0 265.6 L351.0 265.0 L352.0 264.6 L353.0 264.2 L354.0 263.8 L355.0 263.5 L356.0 263.3 L357.0 263.2 L358.0 263.1 L359.0 263.2 L360.0 263.4 L361.0 263.7 L362.0 264.0 L363.0 264.5 L364.0 265.0 L365.0 265.7 L366.0 266.9 L367.0 268.3 L368.0 269.9 L369.0 271.7 L370.0 273.5 L371.0 275.3 L372.0 277.4 L373.0 279.6 L374.0 282.1 L375.0 284.6 L376.0 287.3 L377.0 290.0 L378.0 292.8 L379.0 295.6 L380.0 298.3 L381.0 301.1 L382.0 304.0 L383.0 307.0 L384.0 310.0 L385.0 313.0 L386.0 316.1 L387.0 319.3 L388.0 322.4 L389.0 325.6 L390.0 328.8 L391.0 331.9 L392.0 335.1 L393.0 338.4 L394.0 341.7 L395.0 345.0 L396.0 348.3 L397.0 351.7 L398.0 355.0 L399.0 358.3 L400.0 361.5 L401.0 364.7 L402.0 367.8 L403.0 370.9 L404.0 373.9 L405.0 376.9 L406.0 379.9 L407.0 382.8 L408.0 385.7 L409.0 388.5 L410.0 391.3 L411.0 394.0 L412.0 396.7 L413.0 399.3 L414.0 401.8 L415.0 404.3 L416.0 406.8 L417.0 409.2 L418.0 411.6 L419.0 413.9 L420.0 416.2 L421.0 418.3 L422.0 420.4 L423.0 422.4 L424.0 424.2 L425.0 426.0 L426.0 427.7 L427.0 429.4 L428.0 431.1 L429.0 432.7 L430.0 434.2 L431.0 435.7 L432.0 437.2 L433.0 438.5 L434.0 439.8 L435.0 441.1 L436.0 442.2 L437.0 443.3 L438.0 444.4 L439.0 445.4 L440.0 446.4 L441.0 447.4 L442.0 448.3 L443.0 449.2 L444.0 450.1 L445.0 450.9 L446.0 451.6 L447.0 452.3 L448.0 453.0 L449.0 453.5 L450.0 454.1 L451.0 454.6 L452.0 455.1 L453.0 455.5 L454.0 455.9 L455.0 456.4 L456.0 456.7 L457.0 457.1 L458.0 457.5 L459.0 457.9 L460.0 458.2 L461.0 458.5 L462.0 458.9 L463.0 459.2 L464.0 459.6 L465.0 459.9 L466.0 460.2 L467.0 460.6 L468.0 460.9 L469.0 461.2 L470.0 461.6 L471.0 461.9 L472.0 462.2 L473.0 462.5 L474.0 462.8 L475.0 463.1 L476.0 463.4 L477.0 463.6 L478.0 463.9 L479.0 464.2 L480.0 464.4 L481.0 464.7 L482.0 464.9 L483.0 465.2 L484.0 465.5 L485.0 465.7 L486.0 465.9 L487.0 466.0 L488.0 466.0 L489.0 466.0 L490.0 466.0 L491.0 465.9 L492.0 465.9 L493.0 465.8 L494.0 465.7 L495.0 465.6 L496.0 465.6 L497.0 465.4 L498.0 465.3 L499.0 465.2 L500.0 465.1 L501.0 465.0 L502.0 464.9 L503.0 464.7 L504.0 464.6 L505.0 464.5 L506.0 464.4 L507.0 464.3 L508.0 464.2 L509.0 464.1 L510.0 464.0 L511.0 463.9 L512.0 463.8 L513.0 463.7 L514.0 463.6 L515.0 463.6 L516.0 463.6 L517.0 463.5 L518.0 463.5 L519.0 463.4 L520.0 463.4 L521.0 463.4 L522.0 463.3 L523.0 463.3 L524.0 463.2 L525.0 463.2 L526.0 463.2 L527.0 463.1 L528.0 463.1 L529.0 463.1 L530.0 463.0 L531.0 463.0 L532.0 463.0 L533.0 462.9 L534.0 462.9 L535.0 462.9 L536.0 462.8 L537.0 462.8 L538.0 462.8 L539.0 462.7 L540.0 462.7 L541.0 462.7 L542.0 462.6 L543.0 462.6 L544.0 462.6 L545.0 462.6 L546.0 462.5 L547.0 462.5 L548.0 462.5 L549.0 462.5 L550.0 462.4 L551.0 462.4 L552.0 462.4 L553.0 462.4 L554.0 462.3 L555.0 462.3 L556.0 462.3 L557.0 462.3 L558.0 462.2 L559.0 462.2 L560.0 462.2 L561.0 462.2 L562.0 462.1 L563.0 462.1 L564.0 462.1 L565.0 462.1 L566.0 462.1 L567.0 462.0 L568.0 462.0 L569.0 462.0 L570.0 462.0 L571.0 462.0 L572.0 461.9 L573.0 461.9 L574.0 461.9 L575.0 461.9 L576.0 461.9 L577.0 461.8 L578.0 461.8 L579.0 461.8 L580.0 461.8 L581.0 461.8 L582.0 461.8 L583.0 461.7 L584.0 461.7 L585.0 461.7 L586.0 461.7 L587.0 461.7 L588.0 461.6 L589.0 461.6 L590.0 461.6 L591.0 461.6 L592.0 461.6 L593.0 461.6 L594.0 461.5 L595.0 461.5 L596.0 461.5 L597.0 461.5 L598.0 461.5 L599.0 461.4 L600.0 461.4 L601.0 461.4 L602.0 461.4 L603.0 461.4 L604.0 461.4 L605.0 461.3 L606.0 461.3 L607.0 461.3 L608.0 461.3 L609.0 461.3 L610.0 461.3 L611.0 461.2 L612.0 461.2 L613.0 461.2 L614.0 461.2 L615.0 461.2 L616.0 461.1 L617.0 461.1 L618.0 461.1 L619.0 461.1 L620.0 461.1 L621.0 461.0 L622.0 461.0 L623.0 461.0 L624.0 461.0 L625.0 461.0 L626.0 460.9 L627.0 460.9 L628.0 460.9 L629.0 460.9 L630.0 460.9 L631.0 460.8 L632.0 460.8 L633.0 460.8 L634.0 460.8 L635.0 460.7 L636.0 460.7 L637.0 460.7" stroke="#63b946"/>
<path d="M110.0 440.4 L111.0 440.5 L112.0 440.5 L113.0 440.6 L114.0 440.7 L115.0 440.7 L116.0 440.8 L117.0 440.9 L118.0 440.9 L119.0 441.0 L120.0 441.1 L121.0 441.2 L122.0 441.2 L123.0 441.3 L124.0 441.4 L125.0 441.4 L126.0 441.5 L127.0 441.6 L128.0 441.7 L129.0 441.8 L130.0 441.9 L131.0 442.0 L132.0 442.1 L133.0 442.3 L134.0 442.4 L135.0 442.6 L136.0 442.8 L137.0 443.0 L138.0 443.2 L139.0 443.4 L140.0 443.5 L141.0 443.7 L142.0 443.9 L143.0 444.1 L144.0 444.3 L145.0 444.4 L146.0 444.6 L147.0 444.7 L148.0 444.8 L149.0 444.9 L150.0 445.0 L151.0 445.0 L152.0 445.1 L153.0 445.2 L154.0 445.3 L155.0 445.3 L156.0 445.4 L157.0 445.5 L158.0 445.5 L159.0 445.6 L160.0 445.7 L161.0 445.7 L162.0 445.8 L163.0 445.8 L164.0 445.9 L165.0 445.9 L166.0 446.0 L167.0 446.0 L168.0 446.1 L169.0 446.1 L170.0 446.1 L171.0 446.2 L172.0 446.2 L173.0 446.2 L174.0 446.3 L175.0 446.3 L176.0 446.3 L177.0 446.3 L178.0 446.3 L179.0 446.3 L180.0 446.3 L181.0 446.3 L182.0 446.3 L183.0 446.3 L184.0 446.2 L185.0 446.2 L186.0 446.2 L187.0 446.2 L188.0 446.1 L189.0 446.1 L190.0 446.1 L191.0 446.0 L192.0 446.0 L193.0 446.0 L194.0 445.9 L195.0 445.9 L196.0 445.8 L197.0 445.8 L198.0 445.7 L199.0 445.7 L200.0 445.6 L201.0 445.6 L202.0 445.5 L203.0 445.5 L204.0 445.4 L205.0 445.3 L206.0 445.2 L207.0 445.1 L208.0 445.0 L209.0 444.9 L210.0 444.8 L211.0 444.7 L212.0 444.6 L213.0 444.5 L214.0 444.3 L215.0 444.2 L216.0 444.0 L217.0 443.9 L218.0 443.7 L219.0 443.5 L220.0 443.3 L221.0 443.2 L222.0 443.0 L223.0 442.8 L224.0 442.6 L225.0 442.4 L226.0 442.1 L227.0 441.9 L228.0 441.7 L229.0 441.5 L230.0 441.2 L231.0 441.0 L232.0 440.7 L233.0 440.4 L234.0 440.0 L235.0 439.5 L236.0 439.1 L237.0 438.6 L238.0 438.0 L239.0 437.4 L240.0 436.8 L241.0 436.1 L242.0 435.5 L243.0 434.8 L244.0 434.1 L245.0 433.4 L246.0 432.7 L247.0 432.0 L248.0 431.3 L249.0 430.7 L250.0 430.0 L251.0 429.3 L252.0 428.7 L253.0 428.1 L254.0 427.4 L255.0 426.8 L256.0 426.1 L257.0 425.4 L258.0 424.8 L259.0 424.1 L260.0 423.4 L261.0 422.6 L262.0 421.9 L263.0 421.1 L264.0 420.3 L265.0 419.4 L266.0 418.5 L267.0 417.6 L268.0 416.7 L269.0 415.6 L270.0 414.5 L271.0 413.3 L272.0 412.0 L273.0 410.6 L274.0 409.1 L275.0 407.6 L276.0 406.0 L277.0 404.3 L278.0 402.7 L279.0 401.0 L280.0 399.3 L281.0 397.6 L282.0 395.9 L283.0 394.2 L284.0 392.5 L285.0 390.7 L286.0 388.9 L287.0 387.0 L288.0 385.2 L289.0 383.3 L290.0 381.3 L291.0 379.4 L292.0 377.4 L293.0 375.4 L294.0 373.4 L295.0 371.4 L296.0 369.4 L297.0 367.3 L298.0 365.2 L299.0 363.1 L300.0 361.1 L301.0 358.9 L302.0 356.8 L303.0 354.6 L304.0 352.4 L305.0 350.1 L306.0 347.8 L307.0 345.4 L308.0 343.0 L309.0 340.4 L310.0 337.8 L311.0 335.1 L312.0 332.4 L313.0 329.5 L314.0 326.5 L315.0 323.5 L316.0 320.4 L317.0 317.1 L318.0 313.8 L319.0 310.4 L320.0 306.6 L321.0 302.5 L322.0 298.5 L323.0 294.7 L324.0 291.4 L325.0 288.3 L326.0 285.3 L327.0 282.4 L328.0 279.6 L329.0 276.7 L330.0 273.9 L331.0 271.0 L332.0 268.2 L333.0 265.4 L334.0 262.7 L335.0 260.0 L336.0 257.4 L337.0 254.8 L338.0 252.3 L339.0 249.8 L340.0 247.3 L341.0 244.9 L342.0 242.6 L343.0 240.1 L344.0 237.5 L345.0 234.9 L346.0 232.5 L347.0 230.4 L348.0 228.9 L349.0 227.7 L350.0 226.5 L351.0 225.4 L352.0 224.4 L353.0 223.5 L354.0 222.8 L355.0 222.2 L356.0 221.8 L357.0 221.7 L358.0 221.7 L359.0 221.9 L360.0 222.0 L361.0 222.3 L362.0 222.6 L363.0 222.9 L364.0 223.3 L365.0 223.9 L366.0 225.0 L367.0 226.5 L368.0 228.3 L369.0 230.3 L370.0 232.4 L371.0 234.6 L372.0 236.8 L373.0 239.3 L374.0 242.1 L375.0 245.2 L376.0 248.5 L377.0 251.8 L378.0 255.0 L379.0 258.1 L380.0 261.2 L381.0 264.3 L382.0 267.5 L383.0 270.7 L384.0 274.2 L385.0 277.8 L386.0 281.9 L387.0 286.1 L388.0 290.4 L389.0 294.5 L390.0 298.2 L391.0 301.6 L392.0 304.9 L393.0 308.0 L394.0 311.2 L395.0 314.6 L396.0 317.9 L397.0 321.2 L398.0 324.6 L399.0 328.0 L400.0 331.3 L401.0 334.6 L402.0 337.9 L403.0 341.2 L404.0 344.4 L405.0 347.6 L406.0 350.8 L407.0 354.0 L408.0 357.2 L409.0 360.3 L410.0 363.5 L411.0 366.6 L412.0 369.6 L413.0 372.7 L414.0 375.7 L415.0 378.7 L416.0 381.7 L417.0 384.8 L418.0 387.8 L419.0 390.8 L420.0 393.8 L421.0 396.7 L422.0 399.5 L423.0 402.3 L424.0 404.9 L425.0 407.4 L426.0 409.7 L427.0 412.1 L428.0 414.4 L429.0 416.6 L430.0 418.8 L431.0 420.9 L432.0 423.0 L433.0 424.9 L434.0 426.8 L435.0 428.6 L436.0 430.3 L437.0 431.9 L438.0 433.4 L439.0 434.8 L440.0 436.2 L441.0 437.5 L442.0 438.8 L443.0 440.0 L444.0 441.2 L445.0 442.4 L446.0 443.5 L447.0 444.5 L448.0 445.5 L449.0 446.4 L450.0 447.3 L451.0 448.1 L452.0 448.8 L453.0 449.5 L454.0 450.2 L455.0 450.9 L456.0 451.5 L457.0 452.1 L458.0 452.8 L459.0 453.3 L460.0 453.9 L461.0 454.4 L462.0 454.9 L463.0 455.3 L464.0 455.7 L465.0 456.0 L466.0 456.3 L467.0 456.5 L468.0 456.7 L469.0 456.8 L470.0 457.0 L471.0 457.1 L472.0 457.2 L473.0 457.3 L474.0 457.4 L475.0 457.5 L476.0 457.6 L477.0 457.7 L478.0 457.7 L479.0 457.8 L480.0 457.9 L481.0 458.0 L482.0 458.0 L483.0 458.1 L484.0 458.2 L485.0 458.2 L486.0 458.3 L487.0 458.4 L488.0 458.4 L489.0 458.5 L490.0 458.6 L491.0 458.7 L492.0 458.7 L493.0 458.8 L494.0 458.9 L495.0 458.9 L496.0 459.0 L497.0 459.0 L498.0 459.1 L499.0 459.2 L500.0 459.2 L501.0 459.3 L502.0 459.3 L503.0 459.4 L504.0 459.4 L505.0 459.5 L506.0 459.5 L507.0 459.6 L508.0 459.6 L509.0 459.6 L510.0 459.6 L511.0 459.7 L512.0 459.7 L513.0 459.7 L514.0 459.7 L515.0 459.7 L516.0 459.7 L517.0 459.7 L518.0 459.6 L519.0 459.6 L520.0 459.5 L521.0 459.4 L522.0 459.3 L523.0 459.2 L524.0 459.1 L525.0 459.0 L526.0 458.8 L527.0 458.7 L528.0 458.6 L529.0 458.5 L530.0 458.3 L531.0 458.2 L532.0 458.1 L533.0 458.0 L534.0 457.9 L535.0 457.8 L536.0 457.7 L537.0 457.6 L538.0 457.5 L539.0 457.4 L540.0 457.2 L541.0 457.1 L542.0 457.0 L543.0 456.9 L544.0 456.8 L545.0 456.7 L546.0 456.6 L547.0 456.4 L548.0 456.3 L549.0 456.2 L550.0 456.1 L551.0 456.0 L552.0 455.8 L553.0 455.7 L554.0 455.6 L555.0 455.5 L556.0 455.4 L557.0 455.2 L558.0 455.1 L559.0 455.0 L560.0 454.9 L561.0 454.7 L562.0 454.6 L563.0 454.5 L564.0 454.3 L565.0 454.2 L566.0 454.1 L567.0 454.0 L568.0 453.8 L569.0 453.7 L570.0 453.6 L571.0 453.4 L572.0 453.3 L573.0 453.2 L574.0 453.0 L575.0 452.9 L576.0 452.8 L577.0 452.6 L578.0 452.5 L579.0 452.4 L580.0 452.2 L581.0 452.1 L582.0 452.0 L583.0 451.8 L584.0 451.7 L585.0 451.6 L586.0 451.4 L587.0 451.3 L588.0 451.2 L589.0 451.0 L590.0 450.9 L591.0 450.7 L592.0 450.6 L593.0 450.5 L594.0 450.3 L595.0 450.2 L596.0 450.1 L597.0 449.9 L598.0 449.8 L599.0 449.6 L600.0 449.5 L601.0 449.4 L602.0 449.2 L603.0 449.1 L604.0 449.0 L605.0 448.8 L606.0 448.7 L607.0 448.5 L608.0 448.4 L609.0 448.3 L610.0 448.1 L611.0 448.0 L612.0 447.9 L613.0 447.7 L614.0 447.6 L615.0 447.4 L616.0 447.3 L617.0 447.2 L618.0 447.0 L619.0 446.9 L620.0 446.8 L621.0 446.6 L622.0 446.5 L623.0 446.4 L624.0 446.2 L625.0 446.1 L626.0 446.0 L627.0 445.8 L628.0 445.7 L629.0 445.6 L630.0 445.4 L631.0 445.3 L632.0 445.2 L633.0 445.0 L634.0 444.9 L635.0 444.8 L636.0 444.6 L637.0 444.5" stroke="#6c2a84"/>
<path d="M110.0 452.9 L111.0 452.8 L112.0 452.7 L113.0 452.6 L114.0 452.5 L115.0 452.4 L116.0 452.3 L117.0 452.2 L118.0 452.1 L119.0 452.0 L120.0 451.9 L121.0 451.8 L122.0 451.7 L123.0 451.6 L124.0 451.5 L125.0 451.4 L126.0 451.3 L127.0 451.2 L128.0 451.1 L129.0 451.1 L130.0 451.0 L131.0 450.9 L132.0 450.8 L133.0 450.8 L134.0 450.7 L135.0 450.7 L136.0 450.6 L137.0 450.6 L138.0 450.5 L139.0 450.5 L140.0 450.5 L141.0 450.4 L142.0 450.4 L143.0 450.4 L144.0 450.3 L145.0 450.3 L146.0 450.3 L147.0 450.3 L148.0 450.2 L149.0 450.2 L150.0 450.2 L151.0 450.2 L152.0 450.1 L153.0 450.1 L154.0 450.1 L155.0 450.1 L156.0 450.1 L157.0 450.0 L158.0 450.0 L159.0 450.0 L160.0 450.0 L161.0 450.0 L162.0 449.9 L163.0 449.9 L164.0 449.9 L165.0 449.9 L166.0 449.8 L167.0 449.8 L168.0 449.8 L169.0 449.7 L170.0 449.7 L171.0 449.7 L172.0 449.6 L173.0 449.6 L174.0 449.5 L175.0 449.5 L176.0 449.4 L177.0 449.4 L178.0 449.3 L179.0 449.3 L180.0 449.2 L181.0 449.1 L182.0 449.0 L183.0 448.9 L184.0 448.8 L185.0 448.6 L186.0 448.5 L187.0 448.3 L188.0 448.1 L189.0 447.9 L190.0 447.7 L191.0 447.6 L192.0 447.3 L193.0 447.1 L194.0 446.9 L195.0 446.7 L196.0 446.5 L197.0 446.3 L198.0 446.0 L199.0 445.8 L200.0 445.6 L201.0 445.4 L202.0 445.1 L203.0 444.9 L204.0 444.6 L205.0 444.4 L206.0 444.1 L207.0 443.8 L208.0 443.5 L209.0 443.2 L210.0 442.9 L211.0 442.5 L212.0 442.2 L213.0 441.8 L214.0 441.5 L215.0 441.1 L216.0 440.7 L217.0 440.4 L218.0 439.9 L219.0 439.5 L220.0 439.1 L221.0 438.6 L222.0 438.1 L223.0 437.6 L224.0 437.1 L225.0 436.6 L226.0 436.1 L227.0 435.5 L228.0 435.0 L229.0 434.4 L230.0 433.8 L231.0 433.2 L232.0 432.7 L233.0 432.1 L234.0 431.5 L235.0 430.8 L236.0 430.2 L237.0 429.5 L238.0 428.9 L239.0 428.2 L240.0 427.5 L241.0 426.8 L242.0 426.0 L243.0 425.3 L244.0 424.5 L245.0 423.7 L246.0 422.9 L247.0 422.1 L248.0 421.3 L249.0 420.4 L250.0 419.5 L251.0 418.6 L252.0 417.7 L253.0 416.7 L254.0 415.7 L255.0 414.7 L256.0 413.7 L257.0 412.6 L258.0 411.5 L259.0 410.3 L260.0 409.2 L261.0 408.0 L262.0 406.7 L263.0 405.4 L264.0 404.1 L265.0 402.7 L266.0 401.3 L267.0 399.8 L268.0 398.2 L269.0 396.7 L270.0 395.1 L271.0 393.4 L272.0 391.8 L273.0 390.1 L274.0 388.4 L275.0 386.6 L276.0 384.8 L277.0 382.9 L278.0 381.0 L279.0 379.0 L280.0 377.0 L281.0 375.0 L282.0 372.8 L283.0 370.7 L284.0 368.4 L285.0 366.1 L286.0 363.7 L287.0 361.2 L288.0 358.6 L289.0 356.0 L290.0 353.3 L291.0 350.5 L292.0 347.6 L293.0 344.7 L294.0 341.8 L295.0 338.7 L296.0 335.5 L297.0 332.3 L298.0 329.0 L299.0 325.6 L300.0 322.1 L301.0 318.7 L302.0 315.1 L303.0 311.6 L304.0 308.0 L305.0 304.4 L306.0 300.7 L307.0 297.0 L308.0 293.2 L309.0 289.4 L310.0 285.6 L311.0 281.7 L312.0 277.8 L313.0 273.8 L314.0 269.8 L315.0 265.7 L316.0 261.8 L317.0 258.0 L318.0 254.6 L319.0 251.2 L320.0 248.0 L321.0 244.8 L322.0 241.7 L323.0 238.4 L324.0 235.1 L325.0 231.8 L326.0 228.5 L327.0 225.2 L328.0 221.8 L329.0 218.4 L330.0 215.0 L331.0 211.6 L332.0 208.4 L333.0 205.4 L334.0 202.6 L335.0 200.0 L336.0 197.4 L337.0 194.9 L338.0 192.4 L339.0 190.0 L340.0 187.6 L341.0 185.2 L342.0 183.1 L343.0 181.0 L344.0 179.2 L345.0 177.3 L346.0 175.4 L347.0 173.6 L348.0 172.0 L349.0 170.6 L350.0 169.4 L351.0 168.7 L352.0 168.3 L353.0 167.9 L354.0 167.6 L355.0 167.4 L356.0 167.2 L357.0 167.0 L358.0 167.0 L359.0 167.2 L360.0 167.7 L361.0 168.5 L362.0 169.6 L363.0 170.8 L364.0 172.2 L365.0 173.7 L366.0 175.3 L367.0 176.9 L368.0 178.6 L369.0 180.7 L370.0 183.0 L371.0 185.7 L372.0 188.5 L373.0 191.5 L374.0 194.5 L375.0 197.5 L376.0 200.7 L377.0 204.0 L378.0 207.6 L379.0 211.3 L380.0 214.9 L381.0 218.5 L382.0 222.0 L383.0 225.5 L384.0 229.0 L385.0 232.5 L386.0 236.0 L387.0 239.5 L388.0 243.0 L389.0 246.4 L390.0 249.8 L391.0 253.2 L392.0 256.6 L393.0 260.3 L394.0 264.1 L395.0 268.1 L396.0 272.2 L397.0 276.7 L398.0 281.5 L399.0 286.9 L400.0 292.7 L401.0 298.6 L402.0 304.2 L403.0 309.4 L404.0 313.9 L405.0 318.0 L406.0 321.8 L407.0 325.5 L408.0 329.0 L409.0 332.4 L410.0 335.8 L411.0 339.2 L412.0 342.7 L413.0 346.3 L414.0 350.1 L415.0 353.9 L416.0 357.7 L417.0 361.5 L418.0 365.3 L419.0 369.0 L420.0 372.6 L421.0 376.1 L422.0 379.4 L423.0 382.5 L424.0 385.5 L425.0 388.5 L426.0 391.4 L427.0 394.3 L428.0 397.0 L429.0 399.7 L430.0 402.3 L431.0 404.8 L432.0 407.2 L433.0 409.5 L434.0 411.7 L435.0 413.9 L436.0 416.0 L437.0 418.1 L438.0 420.2 L439.0 422.2 L440.0 424.1 L441.0 425.9 L442.0 427.7 L443.0 429.3 L444.0 430.9 L445.0 432.3 L446.0 433.6 L447.0 434.9 L448.0 436.1 L449.0 437.2 L450.0 438.3 L451.0 439.4 L452.0 440.4 L453.0 441.4 L454.0 442.3 L455.0 443.2 L456.0 444.0 L457.0 444.8 L458.0 445.5 L459.0 446.2 L460.0 446.9 L461.0 447.6 L462.0 448.2 L463.0 448.8 L464.0 449.3 L465.0 449.9 L466.0 450.4 L467.0 450.9 L468.0 451.4 L469.0 451.9 L470.0 452.4 L471.0 452.9 L472.0 453.3 L473.0 453.8 L474.0 454.2 L475.0 454.7 L476.0 455.1 L477.0 455.6 L478.0 456.0 L479.0 456.4 L480.0 456.8 L481.0 457.1 L482.0 457.4 L483.0 457.7 L484.0 458.0 L485.0 458.2 L486.0 458.3 L487.0 458.5 L488.0 458.7 L489.0 458.8 L490.0 459.0 L491.0 459.2 L492.0 459.3 L493.0 459.5 L494.0 459.6 L495.0 459.7 L496.0 459.9 L497.0 460.0 L498.0 460.1 L499.0 460.2 L500.0 460.4 L501.0 460.5 L502.0 460.6 L503.0 460.7 L504.0 460.8 L505.0 460.8 L506.0 460.9 L507.0 461.0 L508.0 461.0 L509.0 461.1 L510.0 461.1 L511.0 461.2 L512.0 461.2 L513.0 461.2 L514.0 461.2 L515.0 461.2 L516.0 461.2 L517.0 461.2 L518.0 461.2 L519.0 461.2 L520.0 461.2 L521.0 461.2 L522.0 461.2 L523.0 461.2 L524.0 461.2 L525.0 461.2 L526.0 461.1 L527.0 461.1 L528.0 461.1 L529.0 461.1 L530.0 461.1 L531.0 461.1 L532.0 461.0 L533.0 461.0 L534.0 461.0 L535.0 461.0 L536.0 460.9 L537.0 460.9 L538.0 460.9 L539.0 460.9 L540.0 460.9 L541.0 460.8 L542.0 460.8 L543.0 460.8 L544.0 460.8 L545.0 460.8 L546.0 460.8 L547.0 460.7 L548.0 460.7 L549.0 460.7 L550.0 460.7 L551.0 460.7 L552.0 460.7 L553.0 460.7 L554.0 460.7 L555.0 460.6 L556.0 460.6 L557.0 460.6 L558.0 460.6 L559.0 460.6 L560.0 460.6 L561.0 460.6 L562.0 460.6 L563.0 460.6 L564.0 460.6 L565.0 460.5 L566.0 460.5 L567.0 460.5 L568.0 460.5 L569.0 460.5 L570.0 460.5 L571.0 460.5 L572.0 460.5 L573.0 460.5 L574.0 460.5 L575.0 460.5 L576.0 460.5 L577.0 460.4 L578.0 460.4 L579.0 460.4 L580.0 460.4 L581.0 460.4 L582.0 460.4 L583.0 460.4 L584.0 460.4 L585.0 460.4 L586.0 460.4 L587.0 460.4 L588.0 460.4 L589.0 460.3 L590.0 460.3 L591.0 460.3 L592.0 460.3 L593.0 460.3 L594.0 460.3 L595.0 460.3 L596.0 460.3 L597.0 460.3 L598.0 460.3 L599.0 460.3 L600.0 460.3 L601.0 460.3 L602.0 460.3 L603.0 460.2 L604.0 460.2 L605.0 460.2 L606.0 460.2 L607.0 460.2 L608.0 460.2 L609.0 460.2 L610.0 460.2 L611.0 460.2 L612.0 460.2 L613.0 460.2 L614.0 460.2 L615.0 460.2 L616.0 460.2 L617.0 460.1 L618.0 460.1 L619.0 460.1 L620.0 460.1 L621.0 460.1 L622.0 460.1 L623.0 460.1 L624.0 460.1 L625.0 460.1 L626.0 460.1 L627.0 460.1 L628.0 460.1 L629.0 460.1 L630.0 460.1 L631.0 460.0 L632.0 460.0 L633.0 460.0 L634.0 460.0 L635.0 460.0 L636.0 460.0 L637.0 460.0" stroke="#7c7a35"/>
<path d="M110.0 444.9 L111.0 445.1 L112.0 445.3 L113.0 445.5 L114.0 445.7 L115.0 446.0 L116.0 446.2 L117.0 446.4 L118.0 446.6 L119.0 446.8 L120.0 447.0 L121.0 447.1 L122.0 447.3 L123.0 447.3 L124.0 447.4 L125.0 447.4 L126.0 447.4 L127.0 447.5 L128.0 447.5 L129.0 447.5 L130.0 447.5 L131.0 447.5 L132.0 447.6 L133.0 447.6 L134.0 447.6 L135.0 447.6 L136.0 447.6 L137.0 447.6 L138.0 447.6 L139.0 447.7 L140.0 447.7 L141.0 447.7 L142.0 447.7 L143.0 447.7 L144.0 447.7 L145.0 447.7 L146.0 447.7 L147.0 447.7 L148.0 447.7 L149.0 447.8 L150.0 447.8 L151.0 447.8 L152.0 447.8 L153.0 447.8 L154.0 447.8 L155.0 447.8 L156.0 447.8 L157.0 447.8 L158.0 447.8 L159.0 447.8 L160.0 447.8 L161.0 447.8 L162.0 447.8 L163.0 447.8 L164.0 447.8 L165.0 447.8 L166.0 447.8 L167.0 447.8 L168.0 447.8 L169.0 447.8 L170.0 447.7 L171.0 447.7 L172.0 447.7 L173.0 447.7 L174.0 447.6 L175.0 447.6 L176.0 447.6 L177.0 447.6 L178.0 447.5 L179.0 447.5 L180.0 447.4 L181.0 447.4 L182.0 447.4 L183.0 447.3 L184.0 447.3 L185.0 447.2 L186.0 447.2 L187.0 447.1 L188.0 447.1 L189.0 447.0 L190.0 447.0 L191.0 446.9 L192.0 446.9 L193.0 446.8 L194.0 446.8 L195.0 446.7 L196.0 446.6 L197.0 446.5 L198.0 446.5 L199.0 446.4 L200.0 446.3 L201.0 446.2 L202.0 446.1 L203.0 446.0 L204.0 445.8 L205.0 445.7 L206.0 445.6 L207.0 445.4 L208.0 445.3 L209.0 445.2 L210.0 445.0 L211.0 444.8 L212.0 444.7 L213.0 444.5 L214.0 444.3 L215.0 444.1 L216.0 443.9 L217.0 443.7 L218.0 443.4 L219.0 443.1 L220.0 442.8 L221.0 442.5 L222.0 442.1 L223.0 441.7 L224.0 441.3 L225.0 440.8 L226.0 440.4 L227.0 439.9 L228.0 439.4 L229.0 438.9 L230.0 438.4 L231.0 437.9 L232.0 437.4 L233.0 436.9 L234.0 436.3 L235.0 435.7 L236.0 435.1 L237.0 434.5 L238.0 433.8 L239.0 433.1 L240.0 432.4 L241.0 431.7 L242.0 430.9 L243.0 430.1 L244.0 429.3 L245.0 428.5 L246.0 427.7 L247.0 426.8 L248.0 425.9 L249.0 425.0 L250.0 424.0 L251.0 423.0 L252.0 422.0 L253.0 420.9 L254.0 419.8 L255.0 418.7 L256.0 417.5 L257.0 416.3 L258.0 415.1 L259.0 413.8 L260.0 412.5 L261.0 411.1 L262.0 409.7 L263.0 408.2 L264.0 406.7 L265.0 405.1 L266.0 403.4 L267.0 401.6 L268.0 399.9 L269.0 398.0 L270.0 396.2 L271.0 394.2 L272.0 392.3 L273.0 390.3 L274.0 388.2 L275.0 386.1 L276.0 383.9 L277.0 381.7 L278.0 379.4 L279.0 377.0 L280.0 374.6 L281.0 372.1 L282.0 369.6 L283.0 367.0 L284.0 364.3 L285.0 361.5 L286.0 358.7 L287.0 355.7 L288.0 352.7 L289.0 349.6 L290.0 346.5 L291.0 343.3 L292.0 340.1 L293.0 336.7 L294.0 333.3 L295.0 329.8 L296.0 326.2 L297.0 322.5 L298.0 318.8 L299.0 315.0 L300.0 311.2 L301.0 307.4 L302.0 303.5 L303.0 299.4 L304.0 295.4 L305.0 291.3 L306.0 287.2 L307.0 283.2 L308.0 279.2 L309.0 275.3 L310.0 271.3 L311.0 267.4 L312.0 263.5 L313.0 259.6 L314.0 255.7 L315.0 251.8 L316.0 247.8 L317.0 243.9 L318.0 240.0 L319.0 236.0 L320.0 231.9 L321.0 227.7 L322.0 223.4 L323.0 219.0 L324.0 214.6 L325.0 210.3 L326.0 205.9 L327.0 201.6 L328.0 197.2 L329.0 192.9 L330.0 188.7 L331.0 184.5 L332.0 180.3 L333.0 176.3 L334.0 172.5 L335.0 169.0 L336.0 165.7 L337.0 162.5 L338.0 159.3 L339.0 156.1 L340.0 152.5 L341.0 148.8 L342.0 145.3 L343.0 142.3 L344.0 139.8 L345.0 137.4 L346.0 135.2 L347.0 133.1 L348.0 131.3 L349.0 129.7 L350.0 128.5 L351.0 127.6 L352.0 126.8 L353.0 126.0 L354.0 125.3 L355.0 124.8 L356.0 124.3 L357.0 124.0 L358.0 123.8 L359.0 123.8 L360.0 124.3 L361.0 125.2 L362.0 126.4 L363.0 127.8 L364.0 129.3 L365.0 130.9 L366.0 132.6 L367.0 134.5 L368.0 136.9 L369.0 139.5 L370.0 142.2 L371.0 145.0 L372.0 147.8 L373.0 150.5 L374.0 153.3 L375.0 156.3 L376.0 159.5 L377.0 163.1 L378.0 167.1 L379.0 171.5 L380.0 176.1 L381.0 180.8 L382.0 185.3 L383.0 190.0 L384.0 194.8 L385.0 199.5 L386.0 204.2 L387.0 208.9 L388.0 213.5 L389.0 218.2 L390.0 222.8 L391.0 227.5 L392.0 232.0 L393.0 236.6 L394.0 241.3 L395.0 246.0 L396.0 251.0 L397.0 256.1 L398.0 261.3 L399.0 266.6 L400.0 272.0 L401.0 277.5 L402.0 283.2 L403.0 289.1 L404.0 295.0 L405.0 301.4 L406.0 307.9 L407.0 313.2 L408.0 317.9 L409.0 322.1 L410.0 326.0 L411.0 329.8 L412.0 333.4 L413.0 337.1 L414.0 340.9 L415.0 344.9 L416.0 349.0 L417.0 353.1 L418.0 357.2 L419.0 361.3 L420.0 365.3 L421.0 369.3 L422.0 373.0 L423.0 376.7 L424.0 380.3 L425.0 383.9 L426.0 387.5 L427.0 390.9 L428.0 394.3 L429.0 397.5 L430.0 400.5 L431.0 403.4 L432.0 406.0 L433.0 408.6 L434.0 411.1 L435.0 413.5 L436.0 415.8 L437.0 418.0 L438.0 420.1 L439.0 422.2 L440.0 424.1 L441.0 425.9 L442.0 427.6 L443.0 429.2 L444.0 430.7 L445.0 432.2 L446.0 433.6 L447.0 435.0 L448.0 436.3 L449.0 437.5 L450.0 438.7 L451.0 439.9 L452.0 441.0 L453.0 442.0 L454.0 443.0 L455.0 444.0 L456.0 444.9 L457.0 445.8 L458.0 446.7 L459.0 447.6 L460.0 448.4 L461.0 449.2 L462.0 449.9 L463.0 450.7 L464.0 451.4 L465.0 452.0 L466.0 452.6 L467.0 453.1 L468.0 453.7 L469.0 454.1 L470.0 454.6 L471.0 455.1 L472.0 455.6 L473.0 456.0 L474.0 456.4 L475.0 456.8 L476.0 457.2 L477.0 457.5 L478.0 457.7 L479.0 457.9 L480.0 458.1 L481.0 458.2 L482.0 458.4 L483.0 458.5 L484.0 458.6 L485.0 458.7 L486.0 458.8 L487.0 458.9 L488.0 459.0 L489.0 459.1 L490.0 459.2 L491.0 459.3 L492.0 459.4 L493.0 459.5 L494.0 459.6 L495.0 459.7 L496.0 459.8 L497.0 459.8 L498.0 459.9 L499.0 460.0 L500.0 460.0 L501.0 460.1 L502.0 460.1 L503.0 460.2 L504.0 460.2 L505.0 460.3 L506.0 460.3 L507.0 460.4 L508.0 460.4 L509.0 460.4 L510.0 460.4 L511.0 460.5 L512.0 460.5 L513.0 460.5 L514.0 460.5 L515.0 460.5 L516.0 460.5 L517.0 460.5 L518.0 460.4 L519.0 460.4 L520.0 460.3 L521.0 460.2 L522.0 460.2 L523.0 460.1 L524.0 460.0 L525.0 459.9 L526.0 459.8 L527.0 459.6 L528.0 459.5 L529.0 459.4 L530.0 459.3 L531.0 459.2 L532.0 459.1 L533.0 459.0 L534.0 458.9 L535.0 458.8 L536.0 458.7 L537.0 458.6 L538.0 458.5 L539.0 458.4 L540.0 458.3 L541.0 458.2 L542.0 458.1 L543.0 458.0 L544.0 457.9 L545.0 457.8 L546.0 457.7 L547.0 457.6 L548.0 457.4 L549.0 457.3 L550.0 457.2 L551.0 457.1 L552.0 457.0 L553.0 456.9 L554.0 456.8 L555.0 456.7 L556.0 456.5 L557.0 456.4 L558.0 456.3 L559.0 456.2 L560.0 456.1 L561.0 455.9 L562.0 455.8 L563.0 455.7 L564.0 455.6 L565.0 455.5 L566.0 455.3 L567.0 455.2 L568.0 455.1 L569.0 455.0 L570.0 454.8 L571.0 454.7 L572.0 454.6 L573.0 454.4 L574.0 454.3 L575.0 454.2 L576.0 454.1 L577.0 453.9 L578.0 453.8 L579.0 453.7 L580.0 453.5 L581.0 453.4 L582.0 453.3 L583.0 453.1 L584.0 453.0 L585.0 452.9 L586.0 452.8 L587.0 452.6 L588.0 452.5 L589.0 452.4 L590.0 452.2 L591.0 452.1 L592.0 452.0 L593.0 451.8 L594.0 451.7 L595.0 451.5 L596.0 451.4 L597.0 451.3 L598.0 451.1 L599.0 451.0 L600.0 450.9 L601.0 450.7 L602.0 450.6 L603.0 450.5 L604.0 450.3 L605.0 450.2 L606.0 450.1 L607.0 449.9 L608.0 449.8 L609.0 449.7 L610.0 449.5 L611.0 449.4 L612.0 449.3 L613.0 449.1 L614.0 449.0 L615.0 448.9 L616.0 448.7 L617.0 448.6 L618.0 448.5 L619.0 448.3 L620.0 448.2 L621.0 448.1 L622.0 447.9 L623.0 447.8 L624.0 447.7 L625.0 447.5 L626.0 447.4 L627.0 447.3 L628.0 447.1 L629.0 447.0 L630.0 446.9 L631.0 446.8 L632.0 446.6 L633.0 446.5 L634.0 446.4 L635.0 446.3 L636.0 446.1 L637.0 446.0" stroke="#3c53a4"/>
</g>
<line x1="493.60" y1="38.20" x2="531.00" y2="38.20" stroke="#111111" stroke-width="4.50" stroke-linecap="butt"/>
<text x="543.71" y="46.60" font-size="30.00" font-weight="normal" font-style="normal">1</text>
<line x1="493.60" y1="71.20" x2="531.00" y2="71.20" stroke="#b551a4" stroke-width="4.50" stroke-linecap="butt"/>
<text x="543.70" y="79.60" font-size="30" textLength="32.03" lengthAdjust="spacingAndGlyphs">10</text>
<line x1="493.60" y1="104.20" x2="531.00" y2="104.20" stroke="#62c5db" stroke-width="4.50" stroke-linecap="butt"/>
<text x="543.70" y="112.60" font-size="30" textLength="32.03" lengthAdjust="spacingAndGlyphs">50</text>
<line x1="493.60" y1="137.20" x2="531.00" y2="137.20" stroke="#f2e31b" stroke-width="4.50" stroke-linecap="butt"/>
<text x="543.70" y="145.60" font-size="30" textLength="48.05" lengthAdjust="spacingAndGlyphs">100</text>
<line x1="493.60" y1="170.20" x2="531.00" y2="170.20" stroke="#e8222a" stroke-width="4.50" stroke-linecap="butt"/>
<text x="543.70" y="178.60" font-size="30" textLength="48.05" lengthAdjust="spacingAndGlyphs">150</text>
<line x1="493.60" y1="203.20" x2="531.00" y2="203.20" stroke="#63b946" stroke-width="4.50" stroke-linecap="butt"/>
<text x="543.70" y="211.60" font-size="30" textLength="48.05" lengthAdjust="spacingAndGlyphs">300</text>
<line x1="493.60" y1="236.20" x2="531.00" y2="236.20" stroke="#6c2a84" stroke-width="4.50" stroke-linecap="butt"/>
<text x="543.70" y="244.60" font-size="30" textLength="48.05" lengthAdjust="spacingAndGlyphs">500</text>
<line x1="493.60" y1="269.20" x2="531.00" y2="269.20" stroke="#7c7a35" stroke-width="4.50" stroke-linecap="butt"/>
<text x="543.70" y="277.60" font-size="30" textLength="48.05" lengthAdjust="spacingAndGlyphs">700</text>
<line x1="493.60" y1="302.20" x2="531.00" y2="302.20" stroke="#3c53a4" stroke-width="4.50" stroke-linecap="butt"/>
<text x="543.70" y="310.60" font-size="30" textLength="48.05" lengthAdjust="spacingAndGlyphs">900</text>
<text x="678.30" y="30.70" font-size="42.50" font-weight="bold" font-style="normal">b</text>
<line x1="782.00" y1="441.60" x2="791.30" y2="441.60" stroke="#000" stroke-width="2.20" stroke-linecap="butt"/>
<text x="751.46" y="452.60" font-size="34.50" font-weight="normal" font-style="normal">0</text>
<line x1="782.00" y1="370.78" x2="791.30" y2="370.78" stroke="#000" stroke-width="2.20" stroke-linecap="butt"/>
<text x="751.85" y="381.78" font-size="34.50" font-weight="normal" font-style="normal">2</text>
<line x1="782.00" y1="299.96" x2="791.30" y2="299.96" stroke="#000" stroke-width="2.20" stroke-linecap="butt"/>
<text x="751.12" y="310.96" font-size="34.50" font-weight="normal" font-style="normal">4</text>
<line x1="782.00" y1="229.14" x2="791.30" y2="229.14" stroke="#000" stroke-width="2.20" stroke-linecap="butt"/>
<text x="751.63" y="240.14" font-size="34.50" font-weight="normal" font-style="normal">6</text>
<line x1="782.00" y1="158.32" x2="791.30" y2="158.32" stroke="#000" stroke-width="2.20" stroke-linecap="butt"/>
<text x="751.61" y="169.32" font-size="34.50" font-weight="normal" font-style="normal">8</text>
<line x1="782.00" y1="87.50" x2="791.30" y2="87.50" stroke="#000" stroke-width="2.20" stroke-linecap="butt"/>
<text x="733.89" y="98.50" font-size="34.50" font-weight="normal" font-style="normal" textLength="36.70" lengthAdjust="spacingAndGlyphs">10</text>
<line x1="786.50" y1="406.19" x2="791.30" y2="406.19" stroke="#000" stroke-width="2.20" stroke-linecap="butt"/>
<line x1="786.50" y1="335.37" x2="791.30" y2="335.37" stroke="#000" stroke-width="2.20" stroke-linecap="butt"/>
<line x1="786.50" y1="264.55" x2="791.30" y2="264.55" stroke="#000" stroke-width="2.20" stroke-linecap="butt"/>
<line x1="786.50" y1="193.73" x2="791.30" y2="193.73" stroke="#000" stroke-width="2.20" stroke-linecap="butt"/>
<line x1="786.50" y1="122.91" x2="791.30" y2="122.91" stroke="#000" stroke-width="2.20" stroke-linecap="butt"/>
<line x1="786.50" y1="52.09" x2="791.30" y2="52.09" stroke="#000" stroke-width="2.20" stroke-linecap="butt"/>
<line x1="791.30" y1="52.09" x2="791.30" y2="478.40" stroke="#000" stroke-width="2.20" stroke-linecap="butt"/>
<line x1="786.50" y1="477.30" x2="1323.70" y2="477.30" stroke="#000" stroke-width="2.20" stroke-linecap="butt"/>
<line x1="839.20" y1="477.30" x2="839.20" y2="486.80" stroke="#000" stroke-width="2.20" stroke-linecap="butt"/>
<text x="829.61" y="523.20" font-size="34.50" font-weight="normal" font-style="normal">0</text>
<line x1="935.90" y1="477.30" x2="935.90" y2="486.80" stroke="#000" stroke-width="2.20" stroke-linecap="butt"/>
<text x="906.93" y="523.20" font-size="34.50" font-weight="normal" font-style="normal">200</text>
<line x1="1032.60" y1="477.30" x2="1032.60" y2="486.80" stroke="#000" stroke-width="2.20" stroke-linecap="butt"/>
<text x="1004.10" y="523.20" font-size="34.50" font-weight="normal" font-style="normal">400</text>
<line x1="1129.30" y1="477.30" x2="1129.30" y2="486.80" stroke="#000" stroke-width="2.20" stroke-linecap="butt"/>
<text x="1100.32" y="523.20" font-size="34.50" font-weight="normal" font-style="normal">600</text>
<line x1="1226.00" y1="477.30" x2="1226.00" y2="486.80" stroke="#000" stroke-width="2.20" stroke-linecap="butt"/>
<text x="1197.14" y="523.20" font-size="34.50" font-weight="normal" font-style="normal">800</text>
<line x1="1322.70" y1="477.30" x2="1322.70" y2="486.80" stroke="#000" stroke-width="2.20" stroke-linecap="butt"/>
<text x="1283.69" y="523.20" font-size="34.50" font-weight="normal" font-style="normal">1000</text>
<line x1="790.85" y1="477.30" x2="790.85" y2="482.30" stroke="#000" stroke-width="2.20" stroke-linecap="butt"/>
<line x1="887.55" y1="477.30" x2="887.55" y2="482.30" stroke="#000" stroke-width="2.20" stroke-linecap="butt"/>
<line x1="984.25" y1="477.30" x2="984.25" y2="482.30" stroke="#000" stroke-width="2.20" stroke-linecap="butt"/>
<line x1="1080.95" y1="477.30" x2="1080.95" y2="482.30" stroke="#000" stroke-width="2.20" stroke-linecap="butt"/>
<line x1="1177.65" y1="477.30" x2="1177.65" y2="482.30" stroke="#000" stroke-width="2.20" stroke-linecap="butt"/>
<line x1="1274.35" y1="477.30" x2="1274.35" y2="482.30" stroke="#000" stroke-width="2.20" stroke-linecap="butt"/>
<text x="896.01" y="571.30" font-size="34.00" font-weight="normal" font-style="normal" textLength="275.10" lengthAdjust="spacingAndGlyphs">E-cadherin (ng mL</text>
<text x="1169.92" y="559.50" font-size="21.00" font-weight="normal" font-style="normal" textLength="24.95" lengthAdjust="spacingAndGlyphs">−1</text>
<text x="1195.30" y="571.30" font-size="34.00" font-weight="normal" font-style="normal">)</text>
<text transform="translate(707.90 356.20) rotate(-90)" x="-1.69" y="0" font-size="34" textLength="183.75" lengthAdjust="spacingAndGlyphs">Current (μA)</text>
<line x1="837.70" y1="394.60" x2="1269.00" y2="102.90" stroke="#e8262a" stroke-width="2.20" stroke-linecap="butt"/>
<g stroke="#111" stroke-width="1.9" fill="#111">
<line x1="833.70" y1="433.20" x2="844.70" y2="433.20"/>
<line x1="833.70" y1="434.80" x2="844.70" y2="434.80"/>
<rect x="836.40" y="431.20" width="5.6" height="5.6" stroke="none"/>
<line x1="838.54" y1="397.60" x2="849.54" y2="397.60"/>
<line x1="838.54" y1="399.60" x2="849.54" y2="399.60"/>
<rect x="841.24" y="395.80" width="5.6" height="5.6" stroke="none"/>
<line x1="857.88" y1="370.00" x2="868.88" y2="370.00"/>
<line x1="857.88" y1="373.00" x2="868.88" y2="373.00"/>
<rect x="860.58" y="368.70" width="5.6" height="5.6" stroke="none"/>
<line x1="887.55" y1="344.10" x2="887.55" y2="349.10"/>
<line x1="882.05" y1="344.10" x2="893.05" y2="344.10"/>
<line x1="882.05" y1="349.10" x2="893.05" y2="349.10"/>
<rect x="884.75" y="343.80" width="5.6" height="5.6" stroke="none"/>
<line x1="911.73" y1="312.00" x2="911.73" y2="319.60"/>
<line x1="906.23" y1="312.00" x2="917.23" y2="312.00"/>
<line x1="906.23" y1="319.60" x2="917.23" y2="319.60"/>
<rect x="908.93" y="313.00" width="5.6" height="5.6" stroke="none"/>
<line x1="984.25" y1="256.20" x2="984.25" y2="267.80"/>
<line x1="978.75" y1="256.20" x2="989.75" y2="256.20"/>
<line x1="978.75" y1="267.80" x2="989.75" y2="267.80"/>
<rect x="981.45" y="259.20" width="5.6" height="5.6" stroke="none"/>
<line x1="1080.95" y1="212.20" x2="1080.95" y2="226.00"/>
<line x1="1075.45" y1="212.20" x2="1086.45" y2="212.20"/>
<line x1="1075.45" y1="226.00" x2="1086.45" y2="226.00"/>
<rect x="1078.15" y="216.30" width="5.6" height="5.6" stroke="none"/>
<line x1="1177.65" y1="156.00" x2="1177.65" y2="176.80"/>
<line x1="1172.15" y1="156.00" x2="1183.15" y2="156.00"/>
<line x1="1172.15" y1="176.80" x2="1183.15" y2="176.80"/>
<rect x="1174.85" y="163.60" width="5.6" height="5.6" stroke="none"/>
<line x1="1274.35" y1="109.90" x2="1274.35" y2="134.50"/>
<line x1="1268.85" y1="109.90" x2="1279.85" y2="109.90"/>
<line x1="1268.85" y1="134.50" x2="1279.85" y2="134.50"/>
<rect x="1271.55" y="119.40" width="5.6" height="5.6" stroke="none"/>
</g>
<text x="1027.54" y="353.90" font-size="29.00" font-weight="normal" font-style="italic">y</text>
<text x="1046.93" y="353.90" font-size="29.00" font-weight="normal" font-style="normal" textLength="18.75" lengthAdjust="spacingAndGlyphs">=</text>
<text x="1072.21" y="353.90" font-size="29.00" font-weight="normal" font-style="normal" textLength="54.25" lengthAdjust="spacingAndGlyphs">0.01</text>
<text x="1131.46" y="353.90" font-size="29.00" font-weight="normal" font-style="italic">x</text>
<text x="1151.16" y="353.90" font-size="29.00" font-weight="normal" font-style="normal" textLength="18.39" lengthAdjust="spacingAndGlyphs">+</text>
<text x="1177.64" y="353.90" font-size="29.00" font-weight="normal" font-style="normal" textLength="57.87" lengthAdjust="spacingAndGlyphs">1.83</text>
<text x="1025.00" y="393.40" font-size="29.00" font-weight="normal" font-style="normal" textLength="129.85" lengthAdjust="spacingAndGlyphs">Pearson’s</text>
<text x="1164.72" y="393.40" font-size="29.00" font-weight="normal" font-style="italic">r</text>
<text x="1180.23" y="393.40" font-size="29.00" font-weight="normal" font-style="normal" textLength="18.75" lengthAdjust="spacingAndGlyphs">=</text>
<text x="1205.45" y="393.40" font-size="29.00" font-weight="normal" font-style="normal" textLength="57.14" lengthAdjust="spacingAndGlyphs">0.99</text>
<text x="-1.39" y="661.30" font-size="42.50" font-weight="bold" font-style="normal">c</text>
<line x1="100.00" y1="1080.40" x2="109.35" y2="1080.40" stroke="#000" stroke-width="2.20" stroke-linecap="butt"/>
<text x="71.36" y="1091.40" font-size="34.50" font-weight="normal" font-style="normal">0</text>
<line x1="100.00" y1="984.58" x2="109.35" y2="984.58" stroke="#000" stroke-width="2.20" stroke-linecap="butt"/>
<text x="71.46" y="995.83" font-size="34.50" font-weight="normal" font-style="normal">5</text>
<line x1="100.00" y1="888.75" x2="109.35" y2="888.75" stroke="#000" stroke-width="2.20" stroke-linecap="butt"/>
<text x="53.46" y="900.25" font-size="34.50" font-weight="normal" font-style="normal" textLength="37.04" lengthAdjust="spacingAndGlyphs">10</text>
<line x1="100.00" y1="792.93" x2="109.35" y2="792.93" stroke="#000" stroke-width="2.20" stroke-linecap="butt"/>
<text x="53.46" y="804.68" font-size="34.50" font-weight="normal" font-style="normal" textLength="37.15" lengthAdjust="spacingAndGlyphs">15</text>
<line x1="100.00" y1="697.10" x2="109.35" y2="697.10" stroke="#000" stroke-width="2.20" stroke-linecap="butt"/>
<text x="52.37" y="709.10" font-size="34.50" font-weight="normal" font-style="normal" textLength="38.17" lengthAdjust="spacingAndGlyphs">20</text>
<line x1="104.80" y1="1032.49" x2="109.35" y2="1032.49" stroke="#000" stroke-width="2.20" stroke-linecap="butt"/>
<line x1="104.80" y1="936.66" x2="109.35" y2="936.66" stroke="#000" stroke-width="2.20" stroke-linecap="butt"/>
<line x1="104.80" y1="840.84" x2="109.35" y2="840.84" stroke="#000" stroke-width="2.20" stroke-linecap="butt"/>
<line x1="104.80" y1="745.01" x2="109.35" y2="745.01" stroke="#000" stroke-width="2.20" stroke-linecap="butt"/>
<line x1="109.35" y1="696.00" x2="109.35" y2="1119.70" stroke="#000" stroke-width="2.20" stroke-linecap="butt"/>
<line x1="108.25" y1="1118.60" x2="632.30" y2="1118.60" stroke="#000" stroke-width="2.20" stroke-linecap="butt"/>
<line x1="238.50" y1="1118.60" x2="238.50" y2="1128.70" stroke="#000" stroke-width="2.20" stroke-linecap="butt"/>
<text x="196.75" y="1163.60" font-size="34.50" font-weight="normal" font-style="normal">−0.8</text>
<line x1="413.20" y1="1118.60" x2="413.20" y2="1128.70" stroke="#000" stroke-width="2.20" stroke-linecap="butt"/>
<text x="371.45" y="1163.60" font-size="34.50" font-weight="normal" font-style="normal">−0.6</text>
<line x1="587.90" y1="1118.60" x2="587.90" y2="1128.70" stroke="#000" stroke-width="2.20" stroke-linecap="butt"/>
<text x="545.90" y="1163.60" font-size="34.50" font-weight="normal" font-style="normal">−0.4</text>
<line x1="151.15" y1="1118.60" x2="151.15" y2="1123.80" stroke="#000" stroke-width="2.20" stroke-linecap="butt"/>
<line x1="325.85" y1="1118.60" x2="325.85" y2="1123.80" stroke="#000" stroke-width="2.20" stroke-linecap="butt"/>
<line x1="500.55" y1="1118.60" x2="500.55" y2="1123.80" stroke="#000" stroke-width="2.20" stroke-linecap="butt"/>
<text x="274.86" y="1208.50" font-size="34.00" font-weight="normal" font-style="normal" textLength="183.71" lengthAdjust="spacingAndGlyphs">Potential (V)</text>
<text transform="translate(27.80 990.80) rotate(-90)" x="-1.71" y="0" font-size="34" textLength="185.69" lengthAdjust="spacingAndGlyphs">Current (μA)</text>
<g fill="none" stroke-width="2.3" stroke-linejoin="round">
<path d="M141.6 697.0 L142.1 700.2 L142.6 703.3 L143.1 706.6 L143.6 709.8 L144.1 713.0 L144.6 716.2 L145.1 719.4 L145.6 722.5 L146.1 725.6 L146.6 728.6 L147.1 731.4 L147.6 734.2 L148.1 736.9 L148.6 739.5 L149.1 742.0 L149.6 744.5 L150.1 746.9 L150.6 749.3 L151.1 751.7 L151.6 754.0 L152.1 756.4 L152.6 758.8 L153.1 761.2 L153.6 763.6 L154.1 766.1 L154.6 768.6 L155.1 771.2 L155.6 773.9 L156.1 776.7 L156.6 779.5 L157.1 782.3 L157.6 785.2 L158.1 788.1 L158.6 791.1 L159.1 794.1 L159.6 797.2 L160.1 800.2 L160.6 803.3 L161.1 806.4 L161.6 809.6 L162.1 812.7 L162.6 815.9 L163.1 819.1 L163.6 822.5 L164.1 826.0 L164.6 829.5 L165.1 833.0 L165.6 836.4 L166.1 839.9 L166.6 843.2 L167.1 846.4 L167.6 849.4 L168.1 852.3 L168.6 855.1 L169.1 857.8 L169.6 860.5 L170.1 863.1 L170.6 865.6 L171.1 868.1 L171.6 870.6 L172.1 873.0 L172.6 875.4 L173.1 877.8 L173.6 880.1 L174.1 882.4 L174.6 884.7 L175.1 887.0 L175.6 889.3 L176.1 891.5 L176.6 893.6 L177.1 895.8 L177.6 897.9 L178.1 900.0 L178.6 902.0 L179.1 904.1 L179.6 906.1 L180.1 908.1 L180.6 910.2 L181.1 912.2 L181.6 914.2 L182.1 916.2 L182.6 918.2 L183.1 920.3 L183.6 922.3 L184.1 924.4 L184.6 926.5 L185.1 928.7 L185.6 930.9 L186.1 933.1 L186.6 935.3 L187.1 937.5 L187.6 939.7 L188.1 941.9 L188.6 944.1 L189.1 946.3 L189.6 948.4 L190.1 950.6 L190.6 952.6 L191.1 954.6 L191.6 956.6 L192.1 958.5 L192.6 960.3 L193.1 962.0 L193.6 963.7 L194.1 965.4 L194.6 967.0 L195.1 968.6 L195.6 970.1 L196.1 971.6 L196.6 973.1 L197.1 974.5 L197.6 976.0 L198.1 977.4 L198.6 978.8 L199.1 980.2 L199.6 981.6 L200.1 983.0 L200.6 984.4 L201.1 985.9 L201.6 987.3 L202.1 988.8 L202.6 990.2 L203.1 991.7 L203.6 993.2 L204.1 994.7 L204.6 996.2 L205.1 997.7 L205.6 999.2 L206.1 1000.7 L206.6 1002.2 L207.1 1003.7 L207.6 1005.1 L208.1 1006.6 L208.6 1008.0 L209.1 1009.5 L209.6 1010.9 L210.1 1012.2 L210.6 1013.6 L211.1 1014.9 L211.6 1016.2 L212.1 1017.4 L212.6 1018.6 L213.1 1019.8 L213.6 1020.9 L214.1 1022.0 L214.6 1023.1 L215.1 1024.2 L215.6 1025.3 L216.1 1026.3 L216.6 1027.3 L217.1 1028.4 L217.6 1029.4 L218.1 1030.4 L218.6 1031.3 L219.1 1032.3 L219.6 1033.2 L220.1 1034.2 L220.6 1035.1 L221.1 1036.0 L221.6 1036.9 L222.1 1037.8 L222.6 1038.7 L223.1 1039.5 L223.6 1040.4 L224.1 1041.2 L224.6 1042.0 L225.1 1042.9 L225.6 1043.7 L226.1 1044.5 L226.6 1045.3 L227.1 1046.0 L227.6 1046.8 L228.1 1047.6 L228.6 1048.4 L229.1 1049.1 L229.6 1049.9 L230.1 1050.6 L230.6 1051.3 L231.1 1052.1 L231.6 1052.8 L232.1 1053.5 L232.6 1054.2 L233.1 1054.9 L233.6 1055.5 L234.1 1056.2 L234.6 1056.9 L235.1 1057.5 L235.6 1058.2 L236.1 1058.8 L236.6 1059.4 L237.1 1060.0 L237.6 1060.6 L238.1 1061.2 L238.6 1061.8 L239.1 1062.3 L239.6 1062.9 L240.1 1063.4 L240.6 1064.0 L241.1 1064.5 L241.6 1065.0 L242.1 1065.6 L242.6 1066.1 L243.1 1066.6 L243.6 1067.1 L244.1 1067.6 L244.6 1068.1 L245.1 1068.6 L245.6 1069.1 L246.1 1069.5 L246.6 1070.0 L247.1 1070.5 L247.6 1070.9 L248.1 1071.3 L248.6 1071.8 L249.1 1072.2 L249.6 1072.6 L250.1 1073.0 L250.6 1073.3 L251.1 1073.7 L251.6 1074.1 L252.1 1074.4 L252.6 1074.7 L253.1 1075.0 L253.6 1075.3 L254.1 1075.6 L254.6 1076.0 L255.1 1076.3 L255.6 1076.6 L256.1 1076.9 L256.6 1077.2 L257.1 1077.4 L257.6 1077.7 L258.1 1078.0 L258.6 1078.2 L259.1 1078.5 L259.6 1078.7 L260.1 1078.9 L260.6 1079.1 L261.1 1079.2 L261.6 1079.4 L262.1 1079.5 L262.6 1079.6 L263.1 1079.6 L263.6 1079.7 L264.1 1079.7 L264.6 1079.8 L265.1 1079.8 L265.6 1079.9 L266.1 1079.9 L266.6 1079.9 L267.1 1080.0 L267.6 1080.0 L268.1 1080.1 L268.6 1080.1 L269.1 1080.1 L269.6 1080.2 L270.1 1080.2 L270.6 1080.2 L271.1 1080.2 L271.6 1080.3 L272.1 1080.3 L272.6 1080.3 L273.1 1080.3 L273.6 1080.4 L274.1 1080.4 L274.6 1080.4 L275.1 1080.4 L275.6 1080.4 L276.1 1080.5 L276.6 1080.5 L277.1 1080.5 L277.6 1080.5 L278.1 1080.5 L278.6 1080.5 L279.1 1080.5 L279.6 1080.5 L280.1 1080.5 L280.6 1080.5 L281.1 1080.5 L281.6 1080.5 L282.1 1080.5 L282.6 1080.4 L283.1 1080.4 L283.6 1080.4 L284.1 1080.3 L284.6 1080.3 L285.1 1080.2 L285.6 1080.2 L286.1 1080.1 L286.6 1080.1 L287.1 1080.0 L287.6 1079.9 L288.1 1079.9 L288.6 1079.8 L289.1 1079.7 L289.6 1079.7 L290.1 1079.6 L290.6 1079.5 L291.1 1079.4 L291.6 1079.3 L292.1 1079.2 L292.6 1079.2 L293.1 1079.1 L293.6 1079.0 L294.1 1078.9 L294.6 1078.8 L295.1 1078.7 L295.6 1078.6 L296.1 1078.5 L296.6 1078.4 L297.1 1078.3 L297.6 1078.3 L298.1 1078.2 L298.6 1078.1 L299.1 1078.0 L299.6 1077.8 L300.1 1077.7 L300.6 1077.6 L301.1 1077.4 L301.6 1077.3 L302.1 1077.1 L302.6 1077.0 L303.1 1076.8 L303.6 1076.6 L304.1 1076.5 L304.6 1076.3 L305.1 1076.1 L305.6 1075.9 L306.1 1075.7 L306.6 1075.5 L307.1 1075.3 L307.6 1075.2 L308.1 1075.0 L308.6 1074.8 L309.1 1074.6 L309.6 1074.4 L310.1 1074.2 L310.6 1074.0 L311.1 1073.8 L311.6 1073.6 L312.1 1073.4 L312.6 1073.3 L313.1 1073.1 L313.6 1072.9 L314.1 1072.7 L314.6 1072.6 L315.1 1072.4 L315.6 1072.3 L316.1 1072.1 L316.6 1072.0 L317.1 1071.9 L317.6 1071.8 L318.1 1071.7 L318.6 1071.6 L319.1 1071.5 L319.6 1071.4 L320.1 1071.3 L320.6 1071.3 L321.1 1071.2 L321.6 1071.1 L322.1 1071.0 L322.6 1071.0 L323.1 1070.9 L323.6 1070.8 L324.1 1070.8 L324.6 1070.7 L325.1 1070.6 L325.6 1070.6 L326.1 1070.5 L326.6 1070.4 L327.1 1070.4 L327.6 1070.3 L328.1 1070.2 L328.6 1070.2 L329.1 1070.1 L329.6 1070.1 L330.1 1070.0 L330.6 1069.9 L331.1 1069.9 L331.6 1069.8 L332.1 1069.8 L332.6 1069.7 L333.1 1069.7 L333.6 1069.6 L334.1 1069.6 L334.6 1069.5 L335.1 1069.5 L335.6 1069.4 L336.1 1069.4 L336.6 1069.3 L337.1 1069.3 L337.6 1069.2 L338.1 1069.2 L338.6 1069.2 L339.1 1069.1 L339.6 1069.1 L340.1 1069.0 L340.6 1069.0 L341.1 1069.0 L341.6 1068.9 L342.1 1068.9 L342.6 1068.9 L343.1 1068.9 L343.6 1068.8 L344.1 1068.8 L344.6 1068.8 L345.1 1068.8 L345.6 1068.8 L346.1 1068.7 L346.6 1068.7 L347.1 1068.7 L347.6 1068.7 L348.1 1068.7 L348.6 1068.7 L349.1 1068.7 L349.6 1068.7 L350.1 1068.7 L350.6 1068.7 L351.1 1068.7 L351.6 1068.7 L352.1 1068.7 L352.6 1068.7 L353.1 1068.8 L353.6 1068.8 L354.1 1068.8 L354.6 1068.8 L355.1 1068.8 L355.6 1068.9 L356.1 1068.9 L356.6 1068.9 L357.1 1068.9 L357.6 1069.0 L358.1 1069.0 L358.6 1069.0 L359.1 1069.1 L359.6 1069.1 L360.1 1069.2 L360.6 1069.2 L361.1 1069.2 L361.6 1069.3 L362.1 1069.3 L362.6 1069.4 L363.1 1069.4 L363.6 1069.5 L364.1 1069.5 L364.6 1069.6 L365.1 1069.6 L365.6 1069.7 L366.1 1069.7 L366.6 1069.8 L367.1 1069.8 L367.6 1069.9 L368.1 1070.0 L368.6 1070.0 L369.1 1070.1 L369.6 1070.1 L370.1 1070.2 L370.6 1070.3 L371.1 1070.3 L371.6 1070.4 L372.1 1070.4 L372.6 1070.5 L373.1 1070.6 L373.6 1070.6 L374.1 1070.7 L374.6 1070.8 L375.1 1070.8 L375.6 1070.9 L376.1 1071.0 L376.6 1071.0 L377.1 1071.1 L377.6 1071.2 L378.1 1071.2 L378.6 1071.3 L379.1 1071.4 L379.6 1071.4 L380.1 1071.5 L380.6 1071.6 L381.1 1071.7 L381.6 1071.8 L382.1 1071.9 L382.6 1072.0 L383.1 1072.1 L383.6 1072.2 L384.1 1072.3 L384.6 1072.4 L385.1 1072.5 L385.6 1072.6 L386.1 1072.8 L386.6 1072.9 L387.1 1073.0 L387.6 1073.2 L388.1 1073.3 L388.6 1073.4 L389.1 1073.6 L389.6 1073.7 L390.1 1073.9 L390.6 1074.0 L391.1 1074.2 L391.6 1074.3 L392.1 1074.5 L392.6 1074.6 L393.1 1074.8 L393.6 1074.9 L394.1 1075.1 L394.6 1075.2 L395.1 1075.4 L395.6 1075.5 L396.1 1075.7 L396.6 1075.8 L397.1 1076.0 L397.6 1076.1 L398.1 1076.2 L398.6 1076.4 L399.1 1076.5 L399.6 1076.7 L400.1 1076.8 L400.6 1076.9 L401.1 1077.0 L401.6 1077.2 L402.1 1077.3 L402.6 1077.4 L403.1 1077.5 L403.6 1077.6 L404.1 1077.7 L404.6 1077.9 L405.1 1078.0 L405.6 1078.0 L406.1 1078.1 L406.6 1078.2 L407.1 1078.3 L407.6 1078.4 L408.1 1078.5 L408.6 1078.5 L409.1 1078.6 L409.6 1078.7 L410.1 1078.8 L410.6 1078.9 L411.1 1079.0 L411.6 1079.1 L412.1 1079.1 L412.6 1079.2 L413.1 1079.3 L413.6 1079.4 L414.1 1079.5 L414.6 1079.6 L415.1 1079.6 L415.6 1079.7 L416.1 1079.8 L416.6 1079.9 L417.1 1080.0 L417.6 1080.0 L418.1 1080.1 L418.6 1080.2 L419.1 1080.3 L419.6 1080.3 L420.1 1080.4 L420.6 1080.5 L421.1 1080.6 L421.6 1080.6 L422.1 1080.7 L422.6 1080.8 L423.1 1080.8 L423.6 1080.9 L424.1 1081.0 L424.6 1081.0 L425.1 1081.1 L425.6 1081.1 L426.1 1081.2 L426.6 1081.2 L427.1 1081.3 L427.6 1081.3 L428.1 1081.4 L428.6 1081.4 L429.1 1081.4 L429.6 1081.5 L430.1 1081.5 L430.6 1081.6 L431.1 1081.6 L431.6 1081.6 L432.1 1081.6 L432.6 1081.6 L433.1 1081.7 L433.6 1081.7 L434.1 1081.7 L434.6 1081.7 L435.1 1081.7 L435.6 1081.7 L436.1 1081.7 L436.6 1081.7 L437.1 1081.7 L437.6 1081.6 L438.1 1081.6 L438.6 1081.5 L439.1 1081.5 L439.6 1081.4 L440.1 1081.4 L440.6 1081.3 L441.1 1081.2 L441.6 1081.1 L442.1 1081.0 L442.6 1080.9 L443.1 1080.8 L443.6 1080.7 L444.1 1080.6 L444.6 1080.5 L445.1 1080.4 L445.6 1080.3 L446.1 1080.1 L446.6 1080.0 L447.1 1079.9 L447.6 1079.7 L448.1 1079.6 L448.6 1079.5 L449.1 1079.3 L449.6 1079.2 L450.1 1079.1 L450.6 1078.9 L451.1 1078.8 L451.6 1078.6 L452.1 1078.5 L452.6 1078.3 L453.1 1078.2 L453.6 1078.1 L454.1 1077.9 L454.6 1077.8 L455.1 1077.6 L455.6 1077.5 L456.1 1077.4 L456.6 1077.2 L457.1 1077.1 L457.6 1077.0 L458.1 1076.8 L458.6 1076.7 L459.1 1076.6 L459.6 1076.4 L460.1 1076.3 L460.6 1076.2 L461.1 1076.0 L461.6 1075.9 L462.1 1075.7 L462.6 1075.6 L463.1 1075.4 L463.6 1075.3 L464.1 1075.1 L464.6 1075.0 L465.1 1074.8 L465.6 1074.7 L466.1 1074.5 L466.6 1074.4 L467.1 1074.2 L467.6 1074.1 L468.1 1073.9 L468.6 1073.7 L469.1 1073.6 L469.6 1073.4 L470.1 1073.2 L470.6 1073.1 L471.1 1072.9 L471.6 1072.7 L472.1 1072.6 L472.6 1072.4 L473.1 1072.2 L473.6 1072.0 L474.1 1071.9 L474.6 1071.7 L475.1 1071.5 L475.6 1071.3 L476.1 1071.2 L476.6 1071.0 L477.1 1070.8 L477.6 1070.6 L478.1 1070.4 L478.6 1070.3 L479.1 1070.1 L479.6 1069.9 L480.1 1069.7 L480.6 1069.5 L481.1 1069.3 L481.6 1069.1 L482.1 1068.9 L482.6 1068.8 L483.1 1068.6 L483.6 1068.4 L484.1 1068.2 L484.6 1068.0 L485.1 1067.8 L485.6 1067.6 L486.1 1067.4 L486.6 1067.2 L487.1 1067.0 L487.6 1066.8 L488.1 1066.6 L488.6 1066.4 L489.1 1066.2 L489.6 1066.0 L490.1 1065.8 L490.6 1065.6 L491.1 1065.3 L491.6 1065.1 L492.1 1064.9 L492.6 1064.7 L493.1 1064.5 L493.6 1064.3 L494.1 1064.0 L494.6 1063.8 L495.1 1063.6 L495.6 1063.4 L496.1 1063.1 L496.6 1062.9 L497.1 1062.7 L497.6 1062.4 L498.1 1062.2 L498.6 1062.0 L499.1 1061.7 L499.6 1061.5 L500.1 1061.2 L500.6 1061.0 L501.1 1060.7 L501.6 1060.5 L502.1 1060.2 L502.6 1060.0 L503.1 1059.7 L503.6 1059.5 L504.1 1059.2 L504.6 1058.9 L505.1 1058.7 L505.6 1058.4 L506.1 1058.1 L506.6 1057.9 L507.1 1057.6 L507.6 1057.3 L508.1 1057.0 L508.6 1056.8 L509.1 1056.5 L509.6 1056.2 L510.1 1055.9 L510.6 1055.6 L511.1 1055.3 L511.6 1055.0 L512.1 1054.7 L512.6 1054.4 L513.1 1054.1 L513.6 1053.8 L514.1 1053.5 L514.6 1053.2 L515.1 1052.8 L515.6 1052.5 L516.1 1052.2 L516.6 1051.9 L517.1 1051.5 L517.6 1051.2 L518.1 1050.9 L518.6 1050.5 L519.1 1050.2 L519.6 1049.9 L520.1 1049.5 L520.6 1049.2 L521.1 1048.8 L521.6 1048.5 L522.1 1048.1 L522.6 1047.8 L523.1 1047.4 L523.6 1047.1 L524.1 1046.7 L524.6 1046.4 L525.1 1046.0 L525.6 1045.7 L526.1 1045.3 L526.6 1044.9 L527.1 1044.6 L527.6 1044.2 L528.1 1043.8 L528.6 1043.5 L529.1 1043.1 L529.6 1042.7 L530.1 1042.4 L530.6 1042.0 L531.1 1041.6 L531.6 1041.2 L532.1 1040.8 L532.6 1040.4 L533.1 1040.0 L533.6 1039.6 L534.1 1039.2 L534.6 1038.8 L535.1 1038.4 L535.6 1038.0 L536.1 1037.6 L536.6 1037.2 L537.1 1036.8 L537.6 1036.4 L538.1 1036.0 L538.6 1035.5 L539.1 1035.1 L539.6 1034.7 L540.1 1034.3 L540.6 1033.8 L541.1 1033.4 L541.6 1033.0 L542.1 1032.5 L542.6 1032.1 L543.1 1031.6 L543.6 1031.2 L544.1 1030.8 L544.6 1030.3 L545.1 1029.9 L545.6 1029.4 L546.1 1029.0 L546.6 1028.5 L547.1 1028.1 L547.6 1027.6 L548.1 1027.1 L548.6 1026.7 L549.1 1026.2 L549.6 1025.8 L550.1 1025.3 L550.6 1024.9 L551.1 1024.4 L551.6 1023.9 L552.1 1023.5 L552.6 1023.0 L553.1 1022.6 L553.6 1022.1 L554.1 1021.6 L554.6 1021.2 L555.1 1020.7 L555.6 1020.2 L556.1 1019.8 L556.6 1019.3 L557.1 1018.8 L557.6 1018.4 L558.1 1017.9 L558.6 1017.4 L559.1 1017.0 L559.6 1016.5 L560.1 1016.0 L560.6 1015.5 L561.1 1015.0 L561.6 1014.6 L562.1 1014.1 L562.6 1013.6 L563.1 1013.1 L563.6 1012.6 L564.1 1012.1 L564.6 1011.7 L565.1 1011.2 L565.6 1010.7 L566.1 1010.2 L566.6 1009.7 L567.1 1009.2 L567.6 1008.7 L568.1 1008.2 L568.6 1007.7 L569.1 1007.2 L569.6 1006.7 L570.1 1006.2 L570.6 1005.7 L571.1 1005.2 L571.6 1004.7 L572.1 1004.2 L572.6 1003.7 L573.1 1003.2 L573.6 1002.6 L574.1 1002.1 L574.6 1001.6 L575.1 1001.1 L575.6 1000.6 L576.1 1000.1 L576.6 999.6 L577.1 999.0 L577.6 998.5 L578.1 998.0 L578.6 997.5 L579.1 997.0 L579.6 996.4 L580.1 995.9 L580.6 995.4 L581.1 994.9 L581.6 994.3 L582.1 993.8 L582.6 993.3 L583.1 992.7 L583.6 992.2 L584.1 991.7 L584.6 991.1 L585.1 990.6 L585.6 990.1 L586.1 989.5 L586.6 989.0 L587.1 988.5 L587.6 987.9 L588.1 987.4 L588.6 986.8 L589.1 986.3 L589.6 985.7 L590.1 985.2 L590.6 984.6 L591.1 984.1 L591.6 983.5 L592.1 983.0 L592.6 982.4 L593.1 981.8 L593.6 981.3 L594.1 980.7 L594.6 980.2 L595.1 979.6 L595.6 979.0 L596.1 978.5 L596.6 977.9 L597.1 977.3 L597.6 976.8 L598.1 976.2 L598.6 975.6 L599.1 975.1 L599.6 974.5 L600.1 973.9 L600.6 973.3 L601.1 972.8 L601.6 972.2 L602.1 971.6 L602.6 971.0 L603.1 970.5 L603.6 969.9 L604.1 969.3 L604.6 968.7 L605.1 968.2 L605.6 967.6 L606.1 967.0 L606.6 966.4 L607.1 965.8 L607.6 965.3 L608.1 964.7 L608.6 964.1 L609.1 963.5 L609.6 962.9 L610.1 962.3 L610.6 961.8 L611.1 961.2 L611.6 960.6 L612.1 960.0 L612.6 959.4 L613.1 958.8 L613.6 958.2 L614.1 957.6 L614.6 957.0 L615.1 956.4 L615.6 955.8 L616.1 955.2 L616.6 954.6 L617.1 954.0 L617.6 953.4 L618.1 952.8 L618.6 952.2 L619.1 951.6 L619.6 951.0 L620.1 950.4 L620.6 949.8 L621.1 949.2 L621.6 948.6 L622.1 947.9 L622.6 947.3 L623.1 946.7 L623.6 946.1 L624.1 945.5 L624.6 944.9 L625.1 944.3 L625.6 943.7 L626.1 943.1 L626.6 942.4 L627.1 941.8 L627.6 941.2 L628.1 940.6 L628.6 940.0 L629.1 939.4 L629.6 938.8 L630.1 938.2 L630.6 937.6 L631.1 937.0 L631.6 936.3 L632.1 935.7" stroke="#111111"/>
<path d="M126.2 804.7 L126.7 812.4 L127.2 820.1 L127.7 827.9 L128.2 835.6 L128.7 843.0 L129.2 850.0 L129.7 856.8 L130.2 863.4 L130.7 869.8 L131.2 875.9 L131.7 881.7 L132.2 887.0 L132.7 891.9 L133.2 896.4 L133.7 900.8 L134.2 904.9 L134.7 908.9 L135.2 912.8 L135.7 916.7 L136.2 920.7 L136.7 924.8 L137.2 929.1 L137.7 933.5 L138.2 937.9 L138.7 942.4 L139.2 946.7 L139.7 950.8 L140.2 954.8 L140.7 958.4 L141.2 961.6 L141.7 964.6 L142.2 967.3 L142.7 969.9 L143.2 972.4 L143.7 974.8 L144.2 977.1 L144.7 979.4 L145.2 981.7 L145.7 984.0 L146.2 986.3 L146.7 988.6 L147.2 990.8 L147.7 993.0 L148.2 995.2 L148.7 997.3 L149.2 999.5 L149.7 1001.6 L150.2 1003.7 L150.7 1005.9 L151.2 1008.1 L151.7 1010.3 L152.2 1012.6 L152.7 1014.7 L153.2 1016.8 L153.7 1018.7 L154.2 1020.3 L154.7 1021.8 L155.2 1023.2 L155.7 1024.5 L156.2 1025.8 L156.7 1027.0 L157.2 1028.2 L157.7 1029.3 L158.2 1030.4 L158.7 1031.4 L159.2 1032.5 L159.7 1033.6 L160.2 1034.7 L160.7 1035.8 L161.2 1036.9 L161.7 1038.1 L162.2 1039.3 L162.7 1040.6 L163.2 1041.9 L163.7 1043.3 L164.2 1044.6 L164.7 1045.9 L165.2 1047.2 L165.7 1048.4 L166.2 1049.6 L166.7 1050.7 L167.2 1051.6 L167.7 1052.5 L168.2 1053.2 L168.7 1053.9 L169.2 1054.5 L169.7 1055.0 L170.2 1055.5 L170.7 1056.0 L171.2 1056.4 L171.7 1056.9 L172.2 1057.3 L172.7 1057.7 L173.2 1058.0 L173.7 1058.4 L174.2 1058.7 L174.7 1059.0 L175.2 1059.3 L175.7 1059.6 L176.2 1059.8 L176.7 1060.1 L177.2 1060.4 L177.7 1060.7 L178.2 1061.1 L178.7 1061.4 L179.2 1061.8 L179.7 1062.2 L180.2 1062.5 L180.7 1062.9 L181.2 1063.4 L181.7 1063.8 L182.2 1064.2 L182.7 1064.6 L183.2 1065.0 L183.7 1065.5 L184.2 1065.9 L184.7 1066.3 L185.2 1066.7 L185.7 1067.1 L186.2 1067.4 L186.7 1067.8 L187.2 1068.1 L187.7 1068.4 L188.2 1068.7 L188.7 1068.9 L189.2 1069.2 L189.7 1069.4 L190.2 1069.6 L190.7 1069.8 L191.2 1070.0 L191.7 1070.2 L192.2 1070.4 L192.7 1070.6 L193.2 1070.8 L193.7 1071.1 L194.2 1071.3 L194.7 1071.6 L195.2 1071.9 L195.7 1072.2 L196.2 1072.6 L196.7 1072.9 L197.2 1073.3 L197.7 1073.7 L198.2 1074.1 L198.7 1074.4 L199.2 1074.7 L199.7 1074.9 L200.2 1075.1 L200.7 1075.1 L201.2 1075.2 L201.7 1075.3 L202.2 1075.3 L202.7 1075.4 L203.2 1075.4 L203.7 1075.5 L204.2 1075.5 L204.7 1075.5 L205.2 1075.6 L205.7 1075.6 L206.2 1075.6 L206.7 1075.7 L207.2 1075.7 L207.7 1075.7 L208.2 1075.8 L208.7 1075.8 L209.2 1075.8 L209.7 1075.9 L210.2 1075.9 L210.7 1076.0 L211.2 1076.0 L211.7 1076.1 L212.2 1076.1 L212.7 1076.2 L213.2 1076.2 L213.7 1076.3 L214.2 1076.3 L214.7 1076.4 L215.2 1076.4 L215.7 1076.5 L216.2 1076.6 L216.7 1076.6 L217.2 1076.7 L217.7 1076.7 L218.2 1076.8 L218.7 1076.8 L219.2 1076.9 L219.7 1077.0 L220.2 1077.0 L220.7 1077.1 L221.2 1077.1 L221.7 1077.2 L222.2 1077.2 L222.7 1077.3 L223.2 1077.3 L223.7 1077.4 L224.2 1077.4 L224.7 1077.5 L225.2 1077.5 L225.7 1077.5 L226.2 1077.6 L226.7 1077.6 L227.2 1077.6 L227.7 1077.7 L228.2 1077.7 L228.7 1077.7 L229.2 1077.8 L229.7 1077.8 L230.2 1077.8 L230.7 1077.8 L231.2 1077.9 L231.7 1077.9 L232.2 1077.9 L232.7 1077.9 L233.2 1078.0 L233.7 1078.0 L234.2 1078.0 L234.7 1078.0 L235.2 1078.0 L235.7 1078.1 L236.2 1078.1 L236.7 1078.1 L237.2 1078.1 L237.7 1078.1 L238.2 1078.1 L238.7 1078.2 L239.2 1078.2 L239.7 1078.2 L240.2 1078.2 L240.7 1078.2 L241.2 1078.3 L241.7 1078.3 L242.2 1078.3 L242.7 1078.3 L243.2 1078.3 L243.7 1078.4 L244.2 1078.4 L244.7 1078.4 L245.2 1078.4 L245.7 1078.4 L246.2 1078.5 L246.7 1078.5 L247.2 1078.5 L247.7 1078.5 L248.2 1078.6 L248.7 1078.6 L249.2 1078.6 L249.7 1078.7 L250.2 1078.7 L250.7 1078.7 L251.2 1078.8 L251.7 1078.8 L252.2 1078.8 L252.7 1078.9 L253.2 1078.9 L253.7 1079.0 L254.2 1079.1 L254.7 1079.1 L255.2 1079.2 L255.7 1079.3 L256.2 1079.5 L256.7 1079.6 L257.2 1079.7 L257.7 1079.8 L258.2 1080.0 L258.7 1080.1 L259.2 1080.2 L259.7 1080.4 L260.2 1080.5 L260.7 1080.6 L261.2 1080.8 L261.7 1080.9 L262.2 1081.0 L262.7 1081.1 L263.2 1081.2 L263.7 1081.3 L264.2 1081.4 L264.7 1081.4 L265.2 1081.5 L265.7 1081.5 L266.2 1081.5 L266.7 1081.5 L267.2 1081.4 L267.7 1081.4 L268.2 1081.3 L268.7 1081.1 L269.2 1081.0 L269.7 1080.8 L270.2 1080.7 L270.7 1080.5 L271.2 1080.3 L271.7 1080.1 L272.2 1079.8 L272.7 1079.6 L273.2 1079.4 L273.7 1079.2 L274.2 1079.0 L274.7 1078.7 L275.2 1078.5 L275.7 1078.3 L276.2 1078.2 L276.7 1078.0 L277.2 1077.8 L277.7 1077.6 L278.2 1077.4 L278.7 1077.3 L279.2 1077.1 L279.7 1076.9 L280.2 1076.7 L280.7 1076.5 L281.2 1076.3 L281.7 1076.2 L282.2 1076.0 L282.7 1075.8 L283.2 1075.6 L283.7 1075.4 L284.2 1075.2 L284.7 1075.0 L285.2 1074.8 L285.7 1074.6 L286.2 1074.4 L286.7 1074.2 L287.2 1074.0 L287.7 1073.8 L288.2 1073.6 L288.7 1073.4 L289.2 1073.2 L289.7 1073.0 L290.2 1072.8 L290.7 1072.6 L291.2 1072.4 L291.7 1072.2 L292.2 1071.9 L292.7 1071.7 L293.2 1071.5 L293.7 1071.2 L294.2 1071.0 L294.7 1070.8 L295.2 1070.5 L295.7 1070.3 L296.2 1070.0 L296.7 1069.8 L297.2 1069.5 L297.7 1069.3 L298.2 1069.0 L298.7 1068.8 L299.2 1068.5 L299.7 1068.3 L300.2 1068.0 L300.7 1067.8 L301.2 1067.5 L301.7 1067.3 L302.2 1067.0 L302.7 1066.8 L303.2 1066.5 L303.7 1066.3 L304.2 1066.0 L304.7 1065.8 L305.2 1065.6 L305.7 1065.4 L306.2 1065.1 L306.7 1064.9 L307.2 1064.7 L307.7 1064.5 L308.2 1064.3 L308.7 1064.1 L309.2 1064.0 L309.7 1063.8 L310.2 1063.6 L310.7 1063.4 L311.2 1063.3 L311.7 1063.1 L312.2 1063.0 L312.7 1062.9 L313.2 1062.7 L313.7 1062.6 L314.2 1062.4 L314.7 1062.3 L315.2 1062.1 L315.7 1062.0 L316.2 1061.8 L316.7 1061.7 L317.2 1061.5 L317.7 1061.4 L318.2 1061.2 L318.7 1061.1 L319.2 1060.9 L319.7 1060.8 L320.2 1060.7 L320.7 1060.5 L321.2 1060.4 L321.7 1060.2 L322.2 1060.1 L322.7 1060.0 L323.2 1059.8 L323.7 1059.7 L324.2 1059.6 L324.7 1059.4 L325.2 1059.3 L325.7 1059.2 L326.2 1059.0 L326.7 1058.9 L327.2 1058.8 L327.7 1058.7 L328.2 1058.6 L328.7 1058.4 L329.2 1058.3 L329.7 1058.2 L330.2 1058.1 L330.7 1058.0 L331.2 1057.9 L331.7 1057.8 L332.2 1057.7 L332.7 1057.6 L333.2 1057.5 L333.7 1057.4 L334.2 1057.4 L334.7 1057.3 L335.2 1057.2 L335.7 1057.1 L336.2 1057.1 L336.7 1057.0 L337.2 1056.9 L337.7 1056.9 L338.2 1056.8 L338.7 1056.8 L339.2 1056.7 L339.7 1056.7 L340.2 1056.6 L340.7 1056.6 L341.2 1056.6 L341.7 1056.6 L342.2 1056.5 L342.7 1056.5 L343.2 1056.5 L343.7 1056.5 L344.2 1056.5 L344.7 1056.5 L345.2 1056.5 L345.7 1056.5 L346.2 1056.5 L346.7 1056.6 L347.2 1056.6 L347.7 1056.6 L348.2 1056.6 L348.7 1056.7 L349.2 1056.7 L349.7 1056.8 L350.2 1056.8 L350.7 1056.9 L351.2 1056.9 L351.7 1057.0 L352.2 1057.0 L352.7 1057.1 L353.2 1057.2 L353.7 1057.2 L354.2 1057.3 L354.7 1057.4 L355.2 1057.4 L355.7 1057.5 L356.2 1057.6 L356.7 1057.7 L357.2 1057.8 L357.7 1057.8 L358.2 1057.9 L358.7 1058.0 L359.2 1058.1 L359.7 1058.2 L360.2 1058.3 L360.7 1058.4 L361.2 1058.5 L361.7 1058.6 L362.2 1058.7 L362.7 1058.8 L363.2 1058.9 L363.7 1059.0 L364.2 1059.1 L364.7 1059.2 L365.2 1059.3 L365.7 1059.4 L366.2 1059.5 L366.7 1059.6 L367.2 1059.7 L367.7 1059.8 L368.2 1059.9 L368.7 1060.0 L369.2 1060.1 L369.7 1060.2 L370.2 1060.3 L370.7 1060.4 L371.2 1060.5 L371.7 1060.6 L372.2 1060.7 L372.7 1060.8 L373.2 1060.9 L373.7 1061.0 L374.2 1061.2 L374.7 1061.3 L375.2 1061.4 L375.7 1061.6 L376.2 1061.7 L376.7 1061.8 L377.2 1062.0 L377.7 1062.1 L378.2 1062.3 L378.7 1062.4 L379.2 1062.6 L379.7 1062.7 L380.2 1062.9 L380.7 1063.0 L381.2 1063.2 L381.7 1063.3 L382.2 1063.5 L382.7 1063.7 L383.2 1063.8 L383.7 1064.0 L384.2 1064.2 L384.7 1064.3 L385.2 1064.5 L385.7 1064.7 L386.2 1064.8 L386.7 1065.0 L387.2 1065.2 L387.7 1065.3 L388.2 1065.5 L388.7 1065.7 L389.2 1065.8 L389.7 1066.0 L390.2 1066.2 L390.7 1066.4 L391.2 1066.5 L391.7 1066.7 L392.2 1066.8 L392.7 1067.0 L393.2 1067.2 L393.7 1067.3 L394.2 1067.5 L394.7 1067.6 L395.2 1067.8 L395.7 1068.0 L396.2 1068.1 L396.7 1068.2 L397.2 1068.4 L397.7 1068.5 L398.2 1068.7 L398.7 1068.8 L399.2 1069.0 L399.7 1069.1 L400.2 1069.2 L400.7 1069.4 L401.2 1069.5 L401.7 1069.7 L402.2 1069.8 L402.7 1070.0 L403.2 1070.2 L403.7 1070.3 L404.2 1070.5 L404.7 1070.6 L405.2 1070.8 L405.7 1070.9 L406.2 1071.1 L406.7 1071.3 L407.2 1071.4 L407.7 1071.6 L408.2 1071.7 L408.7 1071.9 L409.2 1072.1 L409.7 1072.2 L410.2 1072.4 L410.7 1072.5 L411.2 1072.7 L411.7 1072.8 L412.2 1073.0 L412.7 1073.1 L413.2 1073.3 L413.7 1073.4 L414.2 1073.5 L414.7 1073.7 L415.2 1073.8 L415.7 1073.9 L416.2 1074.1 L416.7 1074.2 L417.2 1074.3 L417.7 1074.4 L418.2 1074.5 L418.7 1074.6 L419.2 1074.7 L419.7 1074.8 L420.2 1074.9 L420.7 1075.0 L421.2 1075.1 L421.7 1075.1 L422.2 1075.2 L422.7 1075.3 L423.2 1075.3 L423.7 1075.4 L424.2 1075.4 L424.7 1075.5 L425.2 1075.5 L425.7 1075.5 L426.2 1075.5 L426.7 1075.5 L427.2 1075.6 L427.7 1075.6 L428.2 1075.6 L428.7 1075.6 L429.2 1075.6 L429.7 1075.7 L430.2 1075.7 L430.7 1075.7 L431.2 1075.7 L431.7 1075.7 L432.2 1075.8 L432.7 1075.8 L433.2 1075.8 L433.7 1075.8 L434.2 1075.8 L434.7 1075.8 L435.2 1075.9 L435.7 1075.9 L436.2 1075.9 L436.7 1075.9 L437.2 1075.9 L437.7 1075.9 L438.2 1075.9 L438.7 1076.0 L439.2 1076.0 L439.7 1076.0 L440.2 1076.0 L440.7 1076.0 L441.2 1076.0 L441.7 1076.0 L442.2 1076.0 L442.7 1076.0 L443.2 1076.1 L443.7 1076.1 L444.2 1076.1 L444.7 1076.1 L445.2 1076.1 L445.7 1076.1 L446.2 1076.1 L446.7 1076.1 L447.2 1076.1 L447.7 1076.1 L448.2 1076.1 L448.7 1076.1 L449.2 1076.2 L449.7 1076.2 L450.2 1076.2 L450.7 1076.2 L451.2 1076.2 L451.7 1076.2 L452.2 1076.2 L452.7 1076.2 L453.2 1076.2 L453.7 1076.2 L454.2 1076.2 L454.7 1076.2 L455.2 1076.2 L455.7 1076.2 L456.2 1076.2 L456.7 1076.2 L457.2 1076.2 L457.7 1076.2 L458.2 1076.2 L458.7 1076.2 L459.2 1076.2 L459.7 1076.1 L460.2 1076.1 L460.7 1076.1 L461.2 1076.1 L461.7 1076.0 L462.2 1076.0 L462.7 1075.9 L463.2 1075.9 L463.7 1075.8 L464.2 1075.8 L464.7 1075.7 L465.2 1075.6 L465.7 1075.6 L466.2 1075.5 L466.7 1075.4 L467.2 1075.4 L467.7 1075.3 L468.2 1075.2 L468.7 1075.1 L469.2 1075.0 L469.7 1075.0 L470.2 1074.9 L470.7 1074.8 L471.2 1074.7 L471.7 1074.6 L472.2 1074.5 L472.7 1074.4 L473.2 1074.3 L473.7 1074.2 L474.2 1074.1 L474.7 1074.0 L475.2 1073.8 L475.7 1073.7 L476.2 1073.6 L476.7 1073.5 L477.2 1073.4 L477.7 1073.3 L478.2 1073.2 L478.7 1073.0 L479.2 1072.9 L479.7 1072.8 L480.2 1072.7 L480.7 1072.6 L481.2 1072.4 L481.7 1072.3 L482.2 1072.2 L482.7 1072.1 L483.2 1072.0 L483.7 1071.8 L484.2 1071.7 L484.7 1071.6 L485.2 1071.5 L485.7 1071.3 L486.2 1071.2 L486.7 1071.1 L487.2 1070.9 L487.7 1070.7 L488.2 1070.6 L488.7 1070.4 L489.2 1070.2 L489.7 1070.1 L490.2 1069.9 L490.7 1069.7 L491.2 1069.5 L491.7 1069.3 L492.2 1069.1 L492.7 1068.9 L493.2 1068.7 L493.7 1068.5 L494.2 1068.3 L494.7 1068.1 L495.2 1067.9 L495.7 1067.6 L496.2 1067.4 L496.7 1067.2 L497.2 1066.9 L497.7 1066.7 L498.2 1066.5 L498.7 1066.2 L499.2 1066.0 L499.7 1065.8 L500.2 1065.5 L500.7 1065.3 L501.2 1065.0 L501.7 1064.8 L502.2 1064.6 L502.7 1064.3 L503.2 1064.1 L503.7 1063.8 L504.2 1063.6 L504.7 1063.3 L505.2 1063.1 L505.7 1062.8 L506.2 1062.6 L506.7 1062.4 L507.2 1062.1 L507.7 1061.9 L508.2 1061.6 L508.7 1061.4 L509.2 1061.1 L509.7 1060.8 L510.2 1060.6 L510.7 1060.3 L511.2 1060.1 L511.7 1059.8 L512.2 1059.5 L512.7 1059.2 L513.2 1059.0 L513.7 1058.7 L514.2 1058.4 L514.7 1058.1 L515.2 1057.9 L515.7 1057.6 L516.2 1057.3 L516.7 1057.0 L517.2 1056.7 L517.7 1056.4 L518.2 1056.1 L518.7 1055.9 L519.2 1055.6 L519.7 1055.3 L520.2 1055.0 L520.7 1054.7 L521.2 1054.4 L521.7 1054.1 L522.2 1053.7 L522.7 1053.4 L523.2 1053.1 L523.7 1052.8 L524.2 1052.5 L524.7 1052.2 L525.2 1051.9 L525.7 1051.6 L526.2 1051.2 L526.7 1050.9 L527.2 1050.6 L527.7 1050.3 L528.2 1049.9 L528.7 1049.6 L529.2 1049.3 L529.7 1048.9 L530.2 1048.6 L530.7 1048.3 L531.2 1047.9 L531.7 1047.6 L532.2 1047.2 L532.7 1046.9 L533.2 1046.6 L533.7 1046.2 L534.2 1045.9 L534.7 1045.5 L535.2 1045.2 L535.7 1044.8 L536.2 1044.5 L536.7 1044.1 L537.2 1043.7 L537.7 1043.4 L538.2 1043.0 L538.7 1042.7 L539.2 1042.3 L539.7 1041.9 L540.2 1041.5 L540.7 1041.2 L541.2 1040.8 L541.7 1040.4 L542.2 1040.0 L542.7 1039.6 L543.2 1039.2 L543.7 1038.8 L544.2 1038.4 L544.7 1038.0 L545.2 1037.6 L545.7 1037.2 L546.2 1036.8 L546.7 1036.4 L547.2 1035.9 L547.7 1035.5 L548.2 1035.1 L548.7 1034.7 L549.2 1034.2 L549.7 1033.8 L550.2 1033.4 L550.7 1032.9 L551.2 1032.5 L551.7 1032.1 L552.2 1031.6 L552.7 1031.2 L553.2 1030.7 L553.7 1030.3 L554.2 1029.8 L554.7 1029.3 L555.2 1028.9 L555.7 1028.4 L556.2 1028.0 L556.7 1027.5 L557.2 1027.0 L557.7 1026.6 L558.2 1026.1 L558.7 1025.6 L559.2 1025.2 L559.7 1024.7 L560.2 1024.2 L560.7 1023.7 L561.2 1023.3 L561.7 1022.8 L562.2 1022.3 L562.7 1021.8 L563.2 1021.4 L563.7 1020.9 L564.2 1020.4 L564.7 1019.9 L565.2 1019.4 L565.7 1018.9 L566.2 1018.5 L566.7 1018.0 L567.2 1017.5 L567.7 1017.0 L568.2 1016.5 L568.7 1016.0 L569.2 1015.5 L569.7 1015.1 L570.2 1014.6 L570.7 1014.1 L571.2 1013.6 L571.7 1013.1 L572.2 1012.6 L572.7 1012.1 L573.2 1011.7 L573.7 1011.2 L574.2 1010.7 L574.7 1010.2 L575.2 1009.7 L575.7 1009.2 L576.2 1008.7 L576.7 1008.2 L577.2 1007.7 L577.7 1007.2 L578.2 1006.7 L578.7 1006.2 L579.2 1005.7 L579.7 1005.2 L580.2 1004.7 L580.7 1004.2 L581.2 1003.7 L581.7 1003.2 L582.2 1002.6 L582.7 1002.1 L583.2 1001.6 L583.7 1001.1 L584.2 1000.5 L584.7 1000.0 L585.2 999.5 L585.7 999.0 L586.2 998.4 L586.7 997.9 L587.2 997.4 L587.7 996.8 L588.2 996.3 L588.7 995.7 L589.2 995.2 L589.7 994.7 L590.2 994.1 L590.7 993.6 L591.2 993.0 L591.7 992.5 L592.2 992.0 L592.7 991.4 L593.2 990.9 L593.7 990.3 L594.2 989.8 L594.7 989.3 L595.2 988.7 L595.7 988.2 L596.2 987.6 L596.7 987.1 L597.2 986.6 L597.7 986.0 L598.2 985.5 L598.7 984.9 L599.2 984.4 L599.7 983.9 L600.2 983.3 L600.7 982.8 L601.2 982.3 L601.7 981.7 L602.2 981.2 L602.7 980.7 L603.2 980.1 L603.7 979.6 L604.2 979.1 L604.7 978.5 L605.2 978.0 L605.7 977.5 L606.2 977.0 L606.7 976.5 L607.2 975.9 L607.7 975.4 L608.2 974.9 L608.7 974.4 L609.2 973.9 L609.7 973.4 L610.2 972.9 L610.7 972.4 L611.2 971.9 L611.7 971.4 L612.2 970.9 L612.7 970.4 L613.2 969.9 L613.7 969.4 L614.2 969.0 L614.7 968.5 L615.2 968.0 L615.7 967.5 L616.2 967.0 L616.7 966.5 L617.2 966.1 L617.7 965.6 L618.2 965.1 L618.7 964.6 L619.2 964.2 L619.7 963.7 L620.2 963.2 L620.7 962.7 L621.2 962.3 L621.7 961.8 L622.2 961.3 L622.7 960.9 L623.2 960.4 L623.7 959.9 L624.2 959.4 L624.7 959.0 L625.2 958.5 L625.7 958.0 L626.2 957.6 L626.7 957.1 L627.2 956.6 L627.7 956.2 L628.2 955.7 L628.7 955.2 L629.2 954.7 L629.7 954.3 L630.2 953.8 L630.7 953.3 L631.2 952.8 L631.7 952.4 L632.2 951.9" stroke="#e8222a"/>
<path d="M147.9 697.0 L148.4 703.9 L148.9 711.0 L149.4 718.0 L149.9 724.7 L150.4 730.9 L150.9 736.4 L151.4 741.7 L151.9 746.7 L152.4 751.4 L152.9 756.0 L153.4 760.5 L153.9 765.0 L154.4 769.4 L154.9 773.9 L155.4 778.3 L155.9 782.6 L156.4 786.8 L156.9 790.9 L157.4 795.0 L157.9 799.1 L158.4 803.3 L158.9 807.6 L159.4 812.1 L159.9 816.9 L160.4 821.9 L160.9 827.3 L161.4 832.8 L161.9 838.4 L162.4 843.8 L162.9 849.0 L163.4 854.0 L163.9 859.0 L164.4 864.0 L164.9 868.8 L165.4 873.3 L165.9 877.4 L166.4 881.0 L166.9 884.3 L167.4 887.5 L167.9 890.5 L168.4 893.3 L168.9 896.0 L169.4 898.7 L169.9 901.2 L170.4 903.7 L170.9 906.2 L171.4 908.6 L171.9 911.1 L172.4 913.6 L172.9 916.0 L173.4 918.4 L173.9 920.8 L174.4 923.1 L174.9 925.3 L175.4 927.6 L175.9 929.8 L176.4 932.0 L176.9 934.3 L177.4 936.5 L177.9 938.8 L178.4 941.0 L178.9 943.4 L179.4 945.7 L179.9 948.1 L180.4 950.6 L180.9 953.2 L181.4 955.8 L181.9 958.5 L182.4 961.1 L182.9 963.8 L183.4 966.4 L183.9 969.0 L184.4 971.6 L184.9 974.1 L185.4 976.5 L185.9 978.8 L186.4 981.0 L186.9 983.1 L187.4 985.1 L187.9 987.0 L188.4 988.8 L188.9 990.6 L189.4 992.4 L189.9 994.1 L190.4 995.7 L190.9 997.4 L191.4 999.0 L191.9 1000.5 L192.4 1002.1 L192.9 1003.7 L193.4 1005.2 L193.9 1006.7 L194.4 1008.3 L194.9 1009.9 L195.4 1011.4 L195.9 1013.0 L196.4 1014.6 L196.9 1016.3 L197.4 1017.9 L197.9 1019.6 L198.4 1021.2 L198.9 1022.7 L199.4 1024.2 L199.9 1025.7 L200.4 1027.0 L200.9 1028.2 L201.4 1029.4 L201.9 1030.5 L202.4 1031.6 L202.9 1032.6 L203.4 1033.7 L203.9 1034.7 L204.4 1035.7 L204.9 1036.8 L205.4 1037.9 L205.9 1039.1 L206.4 1040.3 L206.9 1041.6 L207.4 1042.9 L207.9 1044.2 L208.4 1045.5 L208.9 1046.8 L209.4 1048.0 L209.9 1049.2 L210.4 1050.3 L210.9 1051.4 L211.4 1052.6 L211.9 1053.7 L212.4 1054.8 L212.9 1055.9 L213.4 1057.0 L213.9 1058.0 L214.4 1059.0 L214.9 1059.9 L215.4 1060.8 L215.9 1061.6 L216.4 1062.3 L216.9 1062.9 L217.4 1063.5 L217.9 1064.1 L218.4 1064.7 L218.9 1065.3 L219.4 1065.8 L219.9 1066.3 L220.4 1066.9 L220.9 1067.4 L221.4 1067.8 L221.9 1068.3 L222.4 1068.8 L222.9 1069.2 L223.4 1069.6 L223.9 1070.0 L224.4 1070.4 L224.9 1070.8 L225.4 1071.2 L225.9 1071.6 L226.4 1072.0 L226.9 1072.3 L227.4 1072.7 L227.9 1073.0 L228.4 1073.4 L228.9 1073.7 L229.4 1074.0 L229.9 1074.4 L230.4 1074.7 L230.9 1075.0 L231.4 1075.3 L231.9 1075.6 L232.4 1075.9 L232.9 1076.2 L233.4 1076.4 L233.9 1076.7 L234.4 1076.9 L234.9 1077.2 L235.4 1077.4 L235.9 1077.7 L236.4 1077.9 L236.9 1078.1 L237.4 1078.3 L237.9 1078.6 L238.4 1078.8 L238.9 1079.0 L239.4 1079.3 L239.9 1079.5 L240.4 1079.8 L240.9 1080.0 L241.4 1080.2 L241.9 1080.4 L242.4 1080.6 L242.9 1080.8 L243.4 1081.0 L243.9 1081.1 L244.4 1081.3 L244.9 1081.4 L245.4 1081.4 L245.9 1081.5 L246.4 1081.5 L246.9 1081.5 L247.4 1081.5 L247.9 1081.4 L248.4 1081.4 L248.9 1081.3 L249.4 1081.2 L249.9 1081.1 L250.4 1081.0 L250.9 1080.9 L251.4 1080.8 L251.9 1080.7 L252.4 1080.6 L252.9 1080.5 L253.4 1080.3 L253.9 1080.2 L254.4 1080.1 L254.9 1080.0 L255.4 1079.8 L255.9 1079.7 L256.4 1079.6 L256.9 1079.4 L257.4 1079.3 L257.9 1079.2 L258.4 1079.1 L258.9 1079.0 L259.4 1078.9 L259.9 1078.9 L260.4 1078.8 L260.9 1078.7 L261.4 1078.7 L261.9 1078.6 L262.4 1078.5 L262.9 1078.5 L263.4 1078.4 L263.9 1078.4 L264.4 1078.4 L264.9 1078.3 L265.4 1078.3 L265.9 1078.2 L266.4 1078.2 L266.9 1078.1 L267.4 1078.1 L267.9 1078.0 L268.4 1078.0 L268.9 1077.9 L269.4 1077.9 L269.9 1077.8 L270.4 1077.7 L270.9 1077.7 L271.4 1077.6 L271.9 1077.5 L272.4 1077.4 L272.9 1077.3 L273.4 1077.2 L273.9 1077.0 L274.4 1076.8 L274.9 1076.4 L275.4 1075.9 L275.9 1075.3 L276.4 1074.5 L276.9 1073.8 L277.4 1073.0 L277.9 1072.2 L278.4 1071.5 L278.9 1070.8 L279.4 1070.3 L279.9 1069.9 L280.4 1069.4 L280.9 1069.1 L281.4 1068.7 L281.9 1068.3 L282.4 1068.0 L282.9 1067.7 L283.4 1067.4 L283.9 1067.1 L284.4 1066.8 L284.9 1066.5 L285.4 1066.2 L285.9 1065.9 L286.4 1065.6 L286.9 1065.3 L287.4 1065.0 L287.9 1064.6 L288.4 1064.3 L288.9 1063.9 L289.4 1063.5 L289.9 1063.1 L290.4 1062.6 L290.9 1062.1 L291.4 1061.5 L291.9 1060.9 L292.4 1060.2 L292.9 1059.6 L293.4 1058.8 L293.9 1058.1 L294.4 1057.4 L294.9 1056.6 L295.4 1055.8 L295.9 1055.1 L296.4 1054.4 L296.9 1053.7 L297.4 1053.0 L297.9 1052.3 L298.4 1051.7 L298.9 1051.2 L299.4 1050.6 L299.9 1050.2 L300.4 1049.8 L300.9 1049.5 L301.4 1049.2 L301.9 1048.9 L302.4 1048.7 L302.9 1048.4 L303.4 1048.1 L303.9 1047.9 L304.4 1047.7 L304.9 1047.4 L305.4 1047.2 L305.9 1047.0 L306.4 1046.8 L306.9 1046.6 L307.4 1046.4 L307.9 1046.2 L308.4 1046.0 L308.9 1045.8 L309.4 1045.7 L309.9 1045.5 L310.4 1045.3 L310.9 1045.2 L311.4 1045.0 L311.9 1044.9 L312.4 1044.7 L312.9 1044.6 L313.4 1044.4 L313.9 1044.3 L314.4 1044.1 L314.9 1044.0 L315.4 1043.8 L315.9 1043.7 L316.4 1043.5 L316.9 1043.4 L317.4 1043.2 L317.9 1043.0 L318.4 1042.9 L318.9 1042.7 L319.4 1042.6 L319.9 1042.4 L320.4 1042.2 L320.9 1042.0 L321.4 1041.8 L321.9 1041.7 L322.4 1041.5 L322.9 1041.3 L323.4 1041.0 L323.9 1040.8 L324.4 1040.6 L324.9 1040.4 L325.4 1040.2 L325.9 1039.9 L326.4 1039.7 L326.9 1039.4 L327.4 1039.2 L327.9 1039.0 L328.4 1038.7 L328.9 1038.5 L329.4 1038.2 L329.9 1038.0 L330.4 1037.8 L330.9 1037.5 L331.4 1037.3 L331.9 1037.1 L332.4 1036.9 L332.9 1036.6 L333.4 1036.4 L333.9 1036.2 L334.4 1036.0 L334.9 1035.8 L335.4 1035.6 L335.9 1035.5 L336.4 1035.3 L336.9 1035.1 L337.4 1035.0 L337.9 1034.9 L338.4 1034.7 L338.9 1034.6 L339.4 1034.5 L339.9 1034.4 L340.4 1034.3 L340.9 1034.2 L341.4 1034.1 L341.9 1034.0 L342.4 1033.9 L342.9 1033.7 L343.4 1033.6 L343.9 1033.5 L344.4 1033.4 L344.9 1033.3 L345.4 1033.2 L345.9 1033.1 L346.4 1033.0 L346.9 1032.9 L347.4 1032.9 L347.9 1032.8 L348.4 1032.7 L348.9 1032.6 L349.4 1032.5 L349.9 1032.5 L350.4 1032.4 L350.9 1032.3 L351.4 1032.3 L351.9 1032.2 L352.4 1032.2 L352.9 1032.1 L353.4 1032.1 L353.9 1032.1 L354.4 1032.0 L354.9 1032.0 L355.4 1032.0 L355.9 1032.0 L356.4 1032.0 L356.9 1032.0 L357.4 1032.0 L357.9 1032.1 L358.4 1032.1 L358.9 1032.1 L359.4 1032.2 L359.9 1032.3 L360.4 1032.3 L360.9 1032.4 L361.4 1032.5 L361.9 1032.6 L362.4 1032.7 L362.9 1032.8 L363.4 1033.0 L363.9 1033.1 L364.4 1033.2 L364.9 1033.4 L365.4 1033.5 L365.9 1033.7 L366.4 1033.8 L366.9 1034.0 L367.4 1034.2 L367.9 1034.3 L368.4 1034.5 L368.9 1034.7 L369.4 1034.9 L369.9 1035.1 L370.4 1035.2 L370.9 1035.4 L371.4 1035.6 L371.9 1035.8 L372.4 1036.0 L372.9 1036.2 L373.4 1036.4 L373.9 1036.6 L374.4 1036.8 L374.9 1037.0 L375.4 1037.2 L375.9 1037.4 L376.4 1037.7 L376.9 1037.9 L377.4 1038.1 L377.9 1038.3 L378.4 1038.5 L378.9 1038.6 L379.4 1038.8 L379.9 1039.0 L380.4 1039.2 L380.9 1039.4 L381.4 1039.7 L381.9 1039.9 L382.4 1040.1 L382.9 1040.3 L383.4 1040.6 L383.9 1040.8 L384.4 1041.1 L384.9 1041.3 L385.4 1041.6 L385.9 1041.8 L386.4 1042.1 L386.9 1042.3 L387.4 1042.6 L387.9 1042.9 L388.4 1043.2 L388.9 1043.4 L389.4 1043.7 L389.9 1044.0 L390.4 1044.3 L390.9 1044.6 L391.4 1044.9 L391.9 1045.2 L392.4 1045.5 L392.9 1045.8 L393.4 1046.1 L393.9 1046.4 L394.4 1046.7 L394.9 1047.0 L395.4 1047.3 L395.9 1047.6 L396.4 1047.9 L396.9 1048.2 L397.4 1048.5 L397.9 1048.8 L398.4 1049.1 L398.9 1049.4 L399.4 1049.7 L399.9 1050.1 L400.4 1050.4 L400.9 1050.7 L401.4 1051.0 L401.9 1051.3 L402.4 1051.6 L402.9 1051.9 L403.4 1052.2 L403.9 1052.5 L404.4 1052.8 L404.9 1053.1 L405.4 1053.4 L405.9 1053.7 L406.4 1054.0 L406.9 1054.3 L407.4 1054.6 L407.9 1054.9 L408.4 1055.2 L408.9 1055.6 L409.4 1055.9 L409.9 1056.2 L410.4 1056.5 L410.9 1056.8 L411.4 1057.2 L411.9 1057.5 L412.4 1057.8 L412.9 1058.2 L413.4 1058.5 L413.9 1058.8 L414.4 1059.1 L414.9 1059.5 L415.4 1059.8 L415.9 1060.1 L416.4 1060.4 L416.9 1060.8 L417.4 1061.1 L417.9 1061.4 L418.4 1061.7 L418.9 1062.0 L419.4 1062.4 L419.9 1062.7 L420.4 1063.0 L420.9 1063.3 L421.4 1063.6 L421.9 1063.9 L422.4 1064.2 L422.9 1064.5 L423.4 1064.8 L423.9 1065.1 L424.4 1065.4 L424.9 1065.7 L425.4 1065.9 L425.9 1066.2 L426.4 1066.5 L426.9 1066.8 L427.4 1067.1 L427.9 1067.4 L428.4 1067.7 L428.9 1067.9 L429.4 1068.2 L429.9 1068.5 L430.4 1068.8 L430.9 1069.1 L431.4 1069.4 L431.9 1069.7 L432.4 1070.0 L432.9 1070.3 L433.4 1070.6 L433.9 1070.9 L434.4 1071.2 L434.9 1071.5 L435.4 1071.8 L435.9 1072.1 L436.4 1072.4 L436.9 1072.7 L437.4 1073.0 L437.9 1073.3 L438.4 1073.5 L438.9 1073.8 L439.4 1074.1 L439.9 1074.3 L440.4 1074.6 L440.9 1074.9 L441.4 1075.1 L441.9 1075.4 L442.4 1075.6 L442.9 1075.9 L443.4 1076.1 L443.9 1076.3 L444.4 1076.5 L444.9 1076.8 L445.4 1077.0 L445.9 1077.2 L446.4 1077.4 L446.9 1077.5 L447.4 1077.7 L447.9 1077.9 L448.4 1078.1 L448.9 1078.2 L449.4 1078.4 L449.9 1078.5 L450.4 1078.6 L450.9 1078.7 L451.4 1078.8 L451.9 1078.9 L452.4 1079.0 L452.9 1079.1 L453.4 1079.2 L453.9 1079.3 L454.4 1079.4 L454.9 1079.5 L455.4 1079.6 L455.9 1079.7 L456.4 1079.8 L456.9 1079.8 L457.4 1079.9 L457.9 1080.0 L458.4 1080.1 L458.9 1080.2 L459.4 1080.3 L459.9 1080.3 L460.4 1080.4 L460.9 1080.5 L461.4 1080.6 L461.9 1080.6 L462.4 1080.7 L462.9 1080.8 L463.4 1080.9 L463.9 1080.9 L464.4 1081.0 L464.9 1081.0 L465.4 1081.1 L465.9 1081.2 L466.4 1081.2 L466.9 1081.3 L467.4 1081.3 L467.9 1081.4 L468.4 1081.4 L468.9 1081.4 L469.4 1081.5 L469.9 1081.5 L470.4 1081.5 L470.9 1081.6 L471.4 1081.6 L471.9 1081.6 L472.4 1081.6 L472.9 1081.7 L473.4 1081.7 L473.9 1081.7 L474.4 1081.7 L474.9 1081.7 L475.4 1081.7 L475.9 1081.7 L476.4 1081.7 L476.9 1081.6 L477.4 1081.6 L477.9 1081.6 L478.4 1081.5 L478.9 1081.5 L479.4 1081.4 L479.9 1081.3 L480.4 1081.2 L480.9 1081.1 L481.4 1081.0 L481.9 1080.9 L482.4 1080.8 L482.9 1080.7 L483.4 1080.6 L483.9 1080.5 L484.4 1080.3 L484.9 1080.2 L485.4 1080.1 L485.9 1079.9 L486.4 1079.8 L486.9 1079.6 L487.4 1079.5 L487.9 1079.3 L488.4 1079.1 L488.9 1079.0 L489.4 1078.8 L489.9 1078.6 L490.4 1078.4 L490.9 1078.2 L491.4 1078.1 L491.9 1077.9 L492.4 1077.7 L492.9 1077.5 L493.4 1077.3 L493.9 1077.1 L494.4 1076.9 L494.9 1076.7 L495.4 1076.6 L495.9 1076.4 L496.4 1076.2 L496.9 1076.0 L497.4 1075.8 L497.9 1075.6 L498.4 1075.4 L498.9 1075.2 L499.4 1075.0 L499.9 1074.8 L500.4 1074.6 L500.9 1074.4 L501.4 1074.2 L501.9 1074.0 L502.4 1073.7 L502.9 1073.5 L503.4 1073.2 L503.9 1073.0 L504.4 1072.7 L504.9 1072.4 L505.4 1072.2 L505.9 1071.9 L506.4 1071.6 L506.9 1071.3 L507.4 1071.0 L507.9 1070.7 L508.4 1070.4 L508.9 1070.1 L509.4 1069.8 L509.9 1069.5 L510.4 1069.2 L510.9 1068.9 L511.4 1068.6 L511.9 1068.3 L512.4 1067.9 L512.9 1067.6 L513.4 1067.3 L513.9 1067.0 L514.4 1066.6 L514.9 1066.3 L515.4 1066.0 L515.9 1065.6 L516.4 1065.3 L516.9 1065.0 L517.4 1064.7 L517.9 1064.3 L518.4 1064.0 L518.9 1063.7 L519.4 1063.3 L519.9 1063.0 L520.4 1062.7 L520.9 1062.4 L521.4 1062.1 L521.9 1061.7 L522.4 1061.4 L522.9 1061.1 L523.4 1060.7 L523.9 1060.4 L524.4 1060.1 L524.9 1059.8 L525.4 1059.4 L525.9 1059.1 L526.4 1058.7 L526.9 1058.4 L527.4 1058.1 L527.9 1057.7 L528.4 1057.4 L528.9 1057.0 L529.4 1056.7 L529.9 1056.3 L530.4 1056.0 L530.9 1055.6 L531.4 1055.3 L531.9 1054.9 L532.4 1054.6 L532.9 1054.2 L533.4 1053.9 L533.9 1053.5 L534.4 1053.1 L534.9 1052.8 L535.4 1052.4 L535.9 1052.0 L536.4 1051.7 L536.9 1051.3 L537.4 1050.9 L537.9 1050.6 L538.4 1050.2 L538.9 1049.8 L539.4 1049.4 L539.9 1049.0 L540.4 1048.6 L540.9 1048.2 L541.4 1047.9 L541.9 1047.5 L542.4 1047.1 L542.9 1046.7 L543.4 1046.3 L543.9 1045.9 L544.4 1045.5 L544.9 1045.0 L545.4 1044.6 L545.9 1044.2 L546.4 1043.8 L546.9 1043.4 L547.4 1043.0 L547.9 1042.5 L548.4 1042.1 L548.9 1041.7 L549.4 1041.2 L549.9 1040.8 L550.4 1040.4 L550.9 1039.9 L551.4 1039.5 L551.9 1039.0 L552.4 1038.5 L552.9 1038.1 L553.4 1037.6 L553.9 1037.1 L554.4 1036.7 L554.9 1036.2 L555.4 1035.7 L555.9 1035.2 L556.4 1034.7 L556.9 1034.2 L557.4 1033.7 L557.9 1033.2 L558.4 1032.7 L558.9 1032.2 L559.4 1031.7 L559.9 1031.2 L560.4 1030.7 L560.9 1030.2 L561.4 1029.7 L561.9 1029.2 L562.4 1028.6 L562.9 1028.1 L563.4 1027.6 L563.9 1027.1 L564.4 1026.6 L564.9 1026.0 L565.4 1025.5 L565.9 1025.0 L566.4 1024.5 L566.9 1023.9 L567.4 1023.4 L567.9 1022.9 L568.4 1022.3 L568.9 1021.8 L569.4 1021.3 L569.9 1020.7 L570.4 1020.2 L570.9 1019.7 L571.4 1019.1 L571.9 1018.6 L572.4 1018.1 L572.9 1017.5 L573.4 1017.0 L573.9 1016.5 L574.4 1015.9 L574.9 1015.4 L575.4 1014.9 L575.9 1014.3 L576.4 1013.8 L576.9 1013.2 L577.4 1012.7 L577.9 1012.2 L578.4 1011.6 L578.9 1011.1 L579.4 1010.5 L579.9 1010.0 L580.4 1009.4 L580.9 1008.9 L581.4 1008.3 L581.9 1007.7 L582.4 1007.2 L582.9 1006.6 L583.4 1006.1 L583.9 1005.5 L584.4 1004.9 L584.9 1004.4 L585.4 1003.8 L585.9 1003.2 L586.4 1002.7 L586.9 1002.1 L587.4 1001.5 L587.9 1001.0 L588.4 1000.4 L588.9 999.8 L589.4 999.2 L589.9 998.7 L590.4 998.1 L590.9 997.5 L591.4 996.9 L591.9 996.4 L592.4 995.8 L592.9 995.2 L593.4 994.6 L593.9 994.0 L594.4 993.5 L594.9 992.9 L595.4 992.3 L595.9 991.7 L596.4 991.1 L596.9 990.6 L597.4 990.0 L597.9 989.4 L598.4 988.8 L598.9 988.3 L599.4 987.7 L599.9 987.1 L600.4 986.5 L600.9 985.9 L601.4 985.4 L601.9 984.8 L602.4 984.2 L602.9 983.6 L603.4 983.0 L603.9 982.5 L604.4 981.9 L604.9 981.3 L605.4 980.7 L605.9 980.1 L606.4 979.6 L606.9 979.0 L607.4 978.4 L607.9 977.8 L608.4 977.2 L608.9 976.6 L609.4 976.1 L609.9 975.5 L610.4 974.9 L610.9 974.3 L611.4 973.7 L611.9 973.1 L612.4 972.5 L612.9 971.9 L613.4 971.3 L613.9 970.8 L614.4 970.2 L614.9 969.6 L615.4 969.0 L615.9 968.4 L616.4 967.8 L616.9 967.2 L617.4 966.6 L617.9 966.0 L618.4 965.4 L618.9 964.8 L619.4 964.3 L619.9 963.7 L620.4 963.1 L620.9 962.5 L621.4 961.9 L621.9 961.3 L622.4 960.7 L622.9 960.1 L623.4 959.5 L623.9 958.9 L624.4 958.3 L624.9 957.7 L625.4 957.1 L625.9 956.6 L626.4 956.0 L626.9 955.4 L627.4 954.8 L627.9 954.2 L628.4 953.6 L628.9 953.0 L629.4 952.4 L629.9 951.8 L630.4 951.2 L630.9 950.6 L631.4 950.1 L631.9 949.5" stroke="#63b946"/>
<path d="M109.6 872.0 L110.1 880.6 L110.6 888.4 L111.1 895.3 L111.6 901.7 L112.1 907.6 L112.6 912.9 L113.1 917.4 L113.6 921.5 L114.1 925.3 L114.6 928.8 L115.1 932.1 L115.6 935.2 L116.1 938.2 L116.6 941.0 L117.1 943.8 L117.6 946.5 L118.1 949.2 L118.6 951.9 L119.1 954.7 L119.6 957.4 L120.1 960.0 L120.6 962.5 L121.1 965.0 L121.6 967.4 L122.1 969.8 L122.6 972.2 L123.1 974.5 L123.6 976.9 L124.1 979.3 L124.6 981.7 L125.1 984.2 L125.6 986.8 L126.1 989.4 L126.6 992.2 L127.1 995.2 L127.6 998.4 L128.1 1001.8 L128.6 1005.1 L129.1 1008.4 L129.6 1011.6 L130.1 1014.5 L130.6 1017.1 L131.1 1019.3 L131.6 1021.0 L132.1 1022.6 L132.6 1024.1 L133.1 1025.4 L133.6 1026.7 L134.1 1027.8 L134.6 1028.9 L135.1 1029.9 L135.6 1030.8 L136.1 1031.6 L136.6 1032.3 L137.1 1032.8 L137.6 1033.3 L138.1 1033.9 L138.6 1034.6 L139.1 1035.5 L139.6 1036.9 L140.1 1040.0 L140.6 1043.7 L141.1 1047.0 L141.6 1050.5 L142.1 1053.2 L142.6 1053.8 L143.1 1053.5 L143.6 1052.9 L144.1 1052.3 L144.6 1051.6 L145.1 1051.0 L145.6 1050.6 L146.1 1050.5 L146.6 1050.6 L147.1 1051.0 L147.6 1051.4 L148.1 1052.0 L148.6 1052.7 L149.1 1053.5 L149.6 1054.3 L150.1 1055.2 L150.6 1056.0 L151.1 1056.9 L151.6 1057.7 L152.1 1058.4 L152.6 1059.0 L153.1 1059.6 L153.6 1060.1 L154.1 1060.6 L154.6 1061.2 L155.1 1061.7 L155.6 1062.2 L156.1 1062.7 L156.6 1063.2 L157.1 1063.6 L157.6 1064.1 L158.1 1064.6 L158.6 1065.0 L159.1 1065.5 L159.6 1065.9 L160.1 1066.4 L160.6 1066.8 L161.1 1067.3 L161.6 1067.7 L162.1 1068.1 L162.6 1068.5 L163.1 1069.0 L163.6 1069.4 L164.1 1069.8 L164.6 1070.2 L165.1 1070.6 L165.6 1070.9 L166.1 1071.3 L166.6 1071.7 L167.1 1072.0 L167.6 1072.3 L168.1 1072.6 L168.6 1072.9 L169.1 1073.2 L169.6 1073.5 L170.1 1073.8 L170.6 1074.0 L171.1 1074.3 L171.6 1074.6 L172.1 1074.8 L172.6 1075.1 L173.1 1075.4 L173.6 1075.7 L174.1 1076.0 L174.6 1076.3 L175.1 1076.7 L175.6 1077.0 L176.1 1077.4 L176.6 1077.8 L177.1 1078.1 L177.6 1078.4 L178.1 1078.7 L178.6 1078.9 L179.1 1079.0 L179.6 1079.2 L180.1 1079.3 L180.6 1079.4 L181.1 1079.5 L181.6 1079.6 L182.1 1079.7 L182.6 1079.8 L183.1 1079.9 L183.6 1080.0 L184.1 1080.1 L184.6 1080.2 L185.1 1080.3 L185.6 1080.5 L186.1 1080.6 L186.6 1080.8 L187.1 1081.0 L187.6 1081.2 L188.1 1081.4 L188.6 1081.6 L189.1 1081.8 L189.6 1082.0 L190.1 1082.2 L190.6 1082.4 L191.1 1082.5 L191.6 1082.7 L192.1 1082.8 L192.6 1083.0 L193.1 1083.1 L193.6 1083.1 L194.1 1083.2 L194.6 1083.2 L195.1 1083.1 L195.6 1082.8 L196.1 1082.4 L196.6 1082.0 L197.1 1081.6 L197.6 1081.2 L198.1 1081.0 L198.6 1080.9 L199.1 1080.8 L199.6 1080.8 L200.1 1080.7 L200.6 1080.6 L201.1 1080.6 L201.6 1080.5 L202.1 1080.5 L202.6 1080.5 L203.1 1080.4 L203.6 1080.4 L204.1 1080.4 L204.6 1080.3 L205.1 1080.3 L205.6 1080.3 L206.1 1080.2 L206.6 1080.2 L207.1 1080.2 L207.6 1080.1 L208.1 1080.1 L208.6 1080.0 L209.1 1080.0 L209.6 1079.9 L210.1 1079.9 L210.6 1079.8 L211.1 1079.8 L211.6 1079.7 L212.1 1079.6 L212.6 1079.5 L213.1 1079.4 L213.6 1079.3 L214.1 1079.2 L214.6 1079.1 L215.1 1079.0 L215.6 1078.9 L216.1 1078.8 L216.6 1078.7 L217.1 1078.6 L217.6 1078.4 L218.1 1078.3 L218.6 1078.2 L219.1 1078.1 L219.6 1078.0 L220.1 1077.9 L220.6 1077.8 L221.1 1077.7 L221.6 1077.6 L222.1 1077.5 L222.6 1077.4 L223.1 1077.3 L223.6 1077.2 L224.1 1077.2 L224.6 1077.1 L225.1 1077.0 L225.6 1077.0 L226.1 1076.9 L226.6 1076.9 L227.1 1076.9 L227.6 1076.8 L228.1 1076.8 L228.6 1076.8 L229.1 1076.8 L229.6 1076.7 L230.1 1076.7 L230.6 1076.7 L231.1 1076.7 L231.6 1076.7 L232.1 1076.6 L232.6 1076.6 L233.1 1076.6 L233.6 1076.6 L234.1 1076.6 L234.6 1076.6 L235.1 1076.5 L235.6 1076.5 L236.1 1076.5 L236.6 1076.5 L237.1 1076.5 L237.6 1076.4 L238.1 1076.4 L238.6 1076.4 L239.1 1076.3 L239.6 1076.3 L240.1 1076.3 L240.6 1076.2 L241.1 1076.1 L241.6 1076.0 L242.1 1075.9 L242.6 1075.7 L243.1 1075.6 L243.6 1075.4 L244.1 1075.2 L244.6 1075.0 L245.1 1074.8 L245.6 1074.6 L246.1 1074.3 L246.6 1074.1 L247.1 1073.8 L247.6 1073.5 L248.1 1073.2 L248.6 1072.9 L249.1 1072.6 L249.6 1072.3 L250.1 1072.0 L250.6 1071.7 L251.1 1071.4 L251.6 1071.0 L252.1 1070.7 L252.6 1070.3 L253.1 1070.0 L253.6 1069.7 L254.1 1069.3 L254.6 1069.0 L255.1 1068.6 L255.6 1068.3 L256.1 1068.0 L256.6 1067.6 L257.1 1067.3 L257.6 1067.0 L258.1 1066.6 L258.6 1066.3 L259.1 1066.0 L259.6 1065.7 L260.1 1065.4 L260.6 1065.1 L261.1 1064.8 L261.6 1064.5 L262.1 1064.2 L262.6 1063.8 L263.1 1063.5 L263.6 1063.2 L264.1 1062.9 L264.6 1062.5 L265.1 1062.2 L265.6 1061.9 L266.1 1061.5 L266.6 1061.2 L267.1 1060.8 L267.6 1060.5 L268.1 1060.2 L268.6 1059.8 L269.1 1059.5 L269.6 1059.1 L270.1 1058.8 L270.6 1058.4 L271.1 1058.0 L271.6 1057.7 L272.1 1057.3 L272.6 1057.0 L273.1 1056.6 L273.6 1056.2 L274.1 1055.9 L274.6 1055.5 L275.1 1055.1 L275.6 1054.8 L276.1 1054.4 L276.6 1054.0 L277.1 1053.7 L277.6 1053.3 L278.1 1052.9 L278.6 1052.6 L279.1 1052.2 L279.6 1051.8 L280.1 1051.5 L280.6 1051.1 L281.1 1050.8 L281.6 1050.4 L282.1 1050.0 L282.6 1049.7 L283.1 1049.3 L283.6 1048.9 L284.1 1048.6 L284.6 1048.2 L285.1 1047.9 L285.6 1047.5 L286.1 1047.2 L286.6 1046.8 L287.1 1046.5 L287.6 1046.1 L288.1 1045.8 L288.6 1045.4 L289.1 1045.1 L289.6 1044.8 L290.1 1044.4 L290.6 1044.1 L291.1 1043.8 L291.6 1043.4 L292.1 1043.1 L292.6 1042.8 L293.1 1042.4 L293.6 1042.1 L294.1 1041.8 L294.6 1041.4 L295.1 1041.1 L295.6 1040.7 L296.1 1040.4 L296.6 1040.1 L297.1 1039.7 L297.6 1039.4 L298.1 1039.1 L298.6 1038.7 L299.1 1038.4 L299.6 1038.1 L300.1 1037.7 L300.6 1037.4 L301.1 1037.1 L301.6 1036.8 L302.1 1036.4 L302.6 1036.1 L303.1 1035.8 L303.6 1035.5 L304.1 1035.2 L304.6 1034.8 L305.1 1034.5 L305.6 1034.2 L306.1 1033.9 L306.6 1033.6 L307.1 1033.3 L307.6 1033.0 L308.1 1032.7 L308.6 1032.4 L309.1 1032.1 L309.6 1031.8 L310.1 1031.5 L310.6 1031.2 L311.1 1030.9 L311.6 1030.6 L312.1 1030.4 L312.6 1030.1 L313.1 1029.8 L313.6 1029.5 L314.1 1029.3 L314.6 1029.0 L315.1 1028.8 L315.6 1028.5 L316.1 1028.2 L316.6 1028.0 L317.1 1027.7 L317.6 1027.5 L318.1 1027.2 L318.6 1027.0 L319.1 1026.7 L319.6 1026.5 L320.1 1026.3 L320.6 1026.0 L321.1 1025.8 L321.6 1025.5 L322.1 1025.3 L322.6 1025.1 L323.1 1024.8 L323.6 1024.6 L324.1 1024.3 L324.6 1024.1 L325.1 1023.9 L325.6 1023.6 L326.1 1023.4 L326.6 1023.1 L327.1 1022.9 L327.6 1022.7 L328.1 1022.4 L328.6 1022.2 L329.1 1021.9 L329.6 1021.7 L330.1 1021.4 L330.6 1021.2 L331.1 1020.9 L331.6 1020.6 L332.1 1020.4 L332.6 1020.1 L333.1 1019.9 L333.6 1019.6 L334.1 1019.3 L334.6 1019.0 L335.1 1018.7 L335.6 1018.3 L336.1 1018.0 L336.6 1017.6 L337.1 1017.3 L337.6 1016.9 L338.1 1016.6 L338.6 1016.2 L339.1 1015.8 L339.6 1015.4 L340.1 1015.0 L340.6 1014.6 L341.1 1014.3 L341.6 1013.9 L342.1 1013.5 L342.6 1013.1 L343.1 1012.8 L343.6 1012.4 L344.1 1012.1 L344.6 1011.8 L345.1 1011.4 L345.6 1011.1 L346.1 1010.8 L346.6 1010.6 L347.1 1010.3 L347.6 1010.1 L348.1 1009.8 L348.6 1009.6 L349.1 1009.4 L349.6 1009.3 L350.1 1009.2 L350.6 1009.1 L351.1 1009.0 L351.6 1008.9 L352.1 1008.9 L352.6 1008.9 L353.1 1008.9 L353.6 1008.9 L354.1 1008.9 L354.6 1009.0 L355.1 1009.0 L355.6 1009.0 L356.1 1009.1 L356.6 1009.1 L357.1 1009.2 L357.6 1009.2 L358.1 1009.3 L358.6 1009.3 L359.1 1009.4 L359.6 1009.5 L360.1 1009.6 L360.6 1009.6 L361.1 1009.7 L361.6 1009.8 L362.1 1009.9 L362.6 1010.0 L363.1 1010.1 L363.6 1010.2 L364.1 1010.3 L364.6 1010.4 L365.1 1010.5 L365.6 1010.6 L366.1 1010.8 L366.6 1010.9 L367.1 1011.0 L367.6 1011.1 L368.1 1011.2 L368.6 1011.4 L369.1 1011.5 L369.6 1011.6 L370.1 1011.8 L370.6 1011.9 L371.1 1012.0 L371.6 1012.2 L372.1 1012.3 L372.6 1012.5 L373.1 1012.6 L373.6 1012.7 L374.1 1012.9 L374.6 1013.0 L375.1 1013.2 L375.6 1013.3 L376.1 1013.5 L376.6 1013.6 L377.1 1013.8 L377.6 1013.9 L378.1 1014.1 L378.6 1014.2 L379.1 1014.3 L379.6 1014.5 L380.1 1014.6 L380.6 1014.8 L381.1 1015.0 L381.6 1015.1 L382.1 1015.3 L382.6 1015.5 L383.1 1015.6 L383.6 1015.8 L384.1 1016.0 L384.6 1016.2 L385.1 1016.4 L385.6 1016.6 L386.1 1016.8 L386.6 1017.0 L387.1 1017.2 L387.6 1017.4 L388.1 1017.7 L388.6 1017.9 L389.1 1018.1 L389.6 1018.3 L390.1 1018.6 L390.6 1018.8 L391.1 1019.1 L391.6 1019.3 L392.1 1019.6 L392.6 1019.8 L393.1 1020.1 L393.6 1020.3 L394.1 1020.6 L394.6 1020.8 L395.1 1021.1 L395.6 1021.4 L396.1 1021.7 L396.6 1021.9 L397.1 1022.2 L397.6 1022.5 L398.1 1022.8 L398.6 1023.1 L399.1 1023.4 L399.6 1023.7 L400.1 1023.9 L400.6 1024.2 L401.1 1024.5 L401.6 1024.8 L402.1 1025.2 L402.6 1025.5 L403.1 1025.8 L403.6 1026.1 L404.1 1026.4 L404.6 1026.7 L405.1 1027.0 L405.6 1027.3 L406.1 1027.6 L406.6 1028.0 L407.1 1028.3 L407.6 1028.6 L408.1 1029.0 L408.6 1029.3 L409.1 1029.7 L409.6 1030.1 L410.1 1030.5 L410.6 1030.9 L411.1 1031.3 L411.6 1031.7 L412.1 1032.2 L412.6 1032.6 L413.1 1033.0 L413.6 1033.5 L414.1 1033.9 L414.6 1034.4 L415.1 1034.8 L415.6 1035.3 L416.1 1035.8 L416.6 1036.2 L417.1 1036.7 L417.6 1037.2 L418.1 1037.6 L418.6 1038.1 L419.1 1038.6 L419.6 1039.0 L420.1 1039.5 L420.6 1039.9 L421.1 1040.4 L421.6 1040.9 L422.1 1041.3 L422.6 1041.7 L423.1 1042.2 L423.6 1042.6 L424.1 1043.0 L424.6 1043.5 L425.1 1043.9 L425.6 1044.3 L426.1 1044.7 L426.6 1045.1 L427.1 1045.5 L427.6 1045.9 L428.1 1046.3 L428.6 1046.7 L429.1 1047.1 L429.6 1047.5 L430.1 1048.0 L430.6 1048.4 L431.1 1048.8 L431.6 1049.2 L432.1 1049.6 L432.6 1050.0 L433.1 1050.4 L433.6 1050.8 L434.1 1051.2 L434.6 1051.6 L435.1 1052.0 L435.6 1052.4 L436.1 1052.8 L436.6 1053.2 L437.1 1053.6 L437.6 1054.0 L438.1 1054.4 L438.6 1054.8 L439.1 1055.1 L439.6 1055.5 L440.1 1055.9 L440.6 1056.2 L441.1 1056.6 L441.6 1057.0 L442.1 1057.3 L442.6 1057.6 L443.1 1058.0 L443.6 1058.3 L444.1 1058.6 L444.6 1059.0 L445.1 1059.3 L445.6 1059.6 L446.1 1059.9 L446.6 1060.2 L447.1 1060.4 L447.6 1060.7 L448.1 1061.0 L448.6 1061.3 L449.1 1061.6 L449.6 1061.9 L450.1 1062.2 L450.6 1062.4 L451.1 1062.7 L451.6 1063.0 L452.1 1063.3 L452.6 1063.6 L453.1 1063.9 L453.6 1064.2 L454.1 1064.5 L454.6 1064.8 L455.1 1065.1 L455.6 1065.4 L456.1 1065.7 L456.6 1066.0 L457.1 1066.3 L457.6 1066.5 L458.1 1066.8 L458.6 1067.1 L459.1 1067.4 L459.6 1067.7 L460.1 1067.9 L460.6 1068.2 L461.1 1068.4 L461.6 1068.7 L462.1 1068.9 L462.6 1069.2 L463.1 1069.4 L463.6 1069.7 L464.1 1069.9 L464.6 1070.1 L465.1 1070.3 L465.6 1070.5 L466.1 1070.7 L466.6 1070.9 L467.1 1071.1 L467.6 1071.2 L468.1 1071.4 L468.6 1071.6 L469.1 1071.7 L469.6 1071.8 L470.1 1072.0 L470.6 1072.1 L471.1 1072.2 L471.6 1072.3 L472.1 1072.4 L472.6 1072.4 L473.1 1072.5 L473.6 1072.5 L474.1 1072.6 L474.6 1072.6 L475.1 1072.6 L475.6 1072.6 L476.1 1072.6 L476.6 1072.6 L477.1 1072.6 L477.6 1072.6 L478.1 1072.6 L478.6 1072.6 L479.1 1072.6 L479.6 1072.6 L480.1 1072.6 L480.6 1072.6 L481.1 1072.6 L481.6 1072.6 L482.1 1072.6 L482.6 1072.6 L483.1 1072.6 L483.6 1072.6 L484.1 1072.6 L484.6 1072.6 L485.1 1072.6 L485.6 1072.6 L486.1 1072.6 L486.6 1072.6 L487.1 1072.6 L487.6 1072.6 L488.1 1072.6 L488.6 1072.6 L489.1 1072.6 L489.6 1072.6 L490.1 1072.6 L490.6 1072.6 L491.1 1072.6 L491.6 1072.6 L492.1 1072.6 L492.6 1072.6 L493.1 1072.6 L493.6 1072.6 L494.1 1072.6 L494.6 1072.5 L495.1 1072.5 L495.6 1072.4 L496.1 1072.3 L496.6 1072.2 L497.1 1072.1 L497.6 1072.0 L498.1 1071.8 L498.6 1071.7 L499.1 1071.5 L499.6 1071.3 L500.1 1071.1 L500.6 1070.9 L501.1 1070.7 L501.6 1070.5 L502.1 1070.2 L502.6 1070.0 L503.1 1069.8 L503.6 1069.5 L504.1 1069.2 L504.6 1069.0 L505.1 1068.7 L505.6 1068.4 L506.1 1068.1 L506.6 1067.8 L507.1 1067.5 L507.6 1067.2 L508.1 1066.9 L508.6 1066.6 L509.1 1066.3 L509.6 1066.0 L510.1 1065.7 L510.6 1065.4 L511.1 1065.0 L511.6 1064.7 L512.1 1064.4 L512.6 1064.1 L513.1 1063.8 L513.6 1063.5 L514.1 1063.2 L514.6 1062.9 L515.1 1062.6 L515.6 1062.4 L516.1 1062.1 L516.6 1061.8 L517.1 1061.5 L517.6 1061.2 L518.1 1060.8 L518.6 1060.5 L519.1 1060.2 L519.6 1059.9 L520.1 1059.6 L520.6 1059.2 L521.1 1058.9 L521.6 1058.5 L522.1 1058.2 L522.6 1057.8 L523.1 1057.5 L523.6 1057.1 L524.1 1056.8 L524.6 1056.4 L525.1 1056.0 L525.6 1055.7 L526.1 1055.3 L526.6 1054.9 L527.1 1054.5 L527.6 1054.1 L528.1 1053.7 L528.6 1053.3 L529.1 1052.9 L529.6 1052.5 L530.1 1052.1 L530.6 1051.7 L531.1 1051.3 L531.6 1050.8 L532.1 1050.4 L532.6 1050.0 L533.1 1049.5 L533.6 1049.1 L534.1 1048.7 L534.6 1048.2 L535.1 1047.8 L535.6 1047.3 L536.1 1046.8 L536.6 1046.4 L537.1 1045.9 L537.6 1045.5 L538.1 1045.0 L538.6 1044.5 L539.1 1044.0 L539.6 1043.5 L540.1 1043.0 L540.6 1042.5 L541.1 1042.0 L541.6 1041.5 L542.1 1040.9 L542.6 1040.4 L543.1 1039.8 L543.6 1039.3 L544.1 1038.7 L544.6 1038.1 L545.1 1037.5 L545.6 1036.9 L546.1 1036.3 L546.6 1035.7 L547.1 1035.1 L547.6 1034.5 L548.1 1033.9 L548.6 1033.2 L549.1 1032.6 L549.6 1032.0 L550.1 1031.3 L550.6 1030.7 L551.1 1030.0 L551.6 1029.4 L552.1 1028.7 L552.6 1028.0 L553.1 1027.4 L553.6 1026.7 L554.1 1026.0 L554.6 1025.4 L555.1 1024.7 L555.6 1024.0 L556.1 1023.3 L556.6 1022.6 L557.1 1021.9 L557.6 1021.2 L558.1 1020.5 L558.6 1019.9 L559.1 1019.2 L559.6 1018.5 L560.1 1017.8 L560.6 1017.1 L561.1 1016.4 L561.6 1015.7 L562.1 1015.0 L562.6 1014.3 L563.1 1013.6 L563.6 1012.9 L564.1 1012.2 L564.6 1011.6 L565.1 1010.9 L565.6 1010.2 L566.1 1009.5 L566.6 1008.8 L567.1 1008.2 L567.6 1007.5 L568.1 1006.8 L568.6 1006.1 L569.1 1005.4 L569.6 1004.7 L570.1 1004.0 L570.6 1003.3 L571.1 1002.6 L571.6 1001.9 L572.1 1001.2 L572.6 1000.5 L573.1 999.8 L573.6 999.1 L574.1 998.4 L574.6 997.7 L575.1 997.0 L575.6 996.3 L576.1 995.5 L576.6 994.8 L577.1 994.1 L577.6 993.4 L578.1 992.6 L578.6 991.9 L579.1 991.2 L579.6 990.5 L580.1 989.7 L580.6 989.0 L581.1 988.3 L581.6 987.5 L582.1 986.8 L582.6 986.0 L583.1 985.3 L583.6 984.5 L584.1 983.8 L584.6 983.0 L585.1 982.3 L585.6 981.5 L586.1 980.8 L586.6 980.0 L587.1 979.3 L587.6 978.5 L588.1 977.7 L588.6 976.9 L589.1 976.2 L589.6 975.4 L590.1 974.6 L590.6 973.9 L591.1 973.1 L591.6 972.3 L592.1 971.5 L592.6 970.7 L593.1 969.9 L593.6 969.1 L594.1 968.3 L594.6 967.5 L595.1 966.7 L595.6 965.8 L596.1 965.0 L596.6 964.2 L597.1 963.3 L597.6 962.5 L598.1 961.6 L598.6 960.7 L599.1 959.9 L599.6 959.0 L600.1 958.1 L600.6 957.3 L601.1 956.4 L601.6 955.5 L602.1 954.6 L602.6 953.7 L603.1 952.9 L603.6 952.0 L604.1 951.1 L604.6 950.3 L605.1 949.4 L605.6 948.5 L606.1 947.7 L606.6 946.8 L607.1 946.0 L607.6 945.1 L608.1 944.3 L608.6 943.4 L609.1 942.6 L609.6 941.8 L610.1 941.0 L610.6 940.2 L611.1 939.4 L611.6 938.6 L612.1 937.8 L612.6 937.0 L613.1 936.3 L613.6 935.5 L614.1 934.7 L614.6 934.0 L615.1 933.2 L615.6 932.4 L616.1 931.7 L616.6 930.9 L617.1 930.2 L617.6 929.4 L618.1 928.7 L618.6 928.0 L619.1 927.2 L619.6 926.5 L620.1 925.8 L620.6 925.0 L621.1 924.3 L621.6 923.6 L622.1 922.8 L622.6 922.1 L623.1 921.4 L623.6 920.7 L624.1 919.9 L624.6 919.2 L625.1 918.5 L625.6 917.8 L626.1 917.1 L626.6 916.3 L627.1 915.6 L627.6 914.9 L628.1 914.2 L628.6 913.4 L629.1 912.7 L629.6 912.0 L630.1 911.2 L630.6 910.5 L631.1 909.8 L631.6 909.0 L632.1 908.3" stroke="#7c7a35"/>
<path d="M140.2 697.0 L140.7 703.3 L141.2 709.8 L141.7 716.2 L142.2 722.5 L142.7 728.6 L143.2 734.2 L143.7 739.6 L144.2 744.7 L144.7 749.7 L145.2 754.5 L145.7 759.3 L146.2 764.1 L146.7 769.0 L147.2 773.9 L147.7 778.9 L148.2 783.8 L148.7 788.7 L149.2 793.6 L149.7 798.5 L150.2 803.5 L150.7 808.6 L151.2 813.8 L151.7 819.2 L152.2 825.1 L152.7 831.3 L153.2 837.4 L153.7 843.1 L154.2 848.2 L154.7 852.5 L155.2 856.4 L155.7 859.9 L156.2 863.2 L156.7 866.3 L157.2 869.4 L157.7 872.4 L158.2 875.6 L158.7 878.9 L159.2 882.5 L159.7 886.2 L160.2 890.0 L160.7 893.9 L161.2 897.8 L161.7 901.5 L162.2 905.1 L162.7 908.5 L163.2 911.5 L163.7 914.3 L164.2 916.9 L164.7 919.4 L165.2 921.8 L165.7 924.0 L166.2 926.2 L166.7 928.4 L167.2 930.5 L167.7 932.6 L168.2 934.6 L168.7 936.7 L169.2 938.8 L169.7 940.9 L170.2 943.0 L170.7 945.0 L171.2 947.0 L171.7 949.1 L172.2 951.0 L172.7 953.0 L173.2 955.0 L173.7 956.9 L174.2 958.9 L174.7 960.8 L175.2 962.8 L175.7 964.7 L176.2 966.7 L176.7 968.7 L177.2 970.7 L177.7 972.6 L178.2 974.6 L178.7 976.6 L179.2 978.5 L179.7 980.4 L180.2 982.4 L180.7 984.4 L181.2 986.3 L181.7 988.3 L182.2 990.4 L182.7 992.4 L183.2 994.5 L183.7 996.6 L184.2 998.8 L184.7 1001.1 L185.2 1003.5 L185.7 1006.0 L186.2 1008.5 L186.7 1011.1 L187.2 1013.7 L187.7 1016.2 L188.2 1018.7 L188.7 1021.1 L189.2 1023.4 L189.7 1025.6 L190.2 1027.6 L190.7 1029.3 L191.2 1031.0 L191.7 1032.6 L192.2 1034.2 L192.7 1035.6 L193.2 1037.1 L193.7 1038.4 L194.2 1039.8 L194.7 1041.1 L195.2 1042.3 L195.7 1043.6 L196.2 1044.8 L196.7 1045.9 L197.2 1047.1 L197.7 1048.3 L198.2 1049.4 L198.7 1050.5 L199.2 1051.6 L199.7 1052.7 L200.2 1053.8 L200.7 1054.8 L201.2 1055.8 L201.7 1056.8 L202.2 1057.8 L202.7 1058.7 L203.2 1059.6 L203.7 1060.5 L204.2 1061.4 L204.7 1062.2 L205.2 1063.0 L205.7 1063.8 L206.2 1064.6 L206.7 1065.3 L207.2 1066.1 L207.7 1066.8 L208.2 1067.5 L208.7 1068.1 L209.2 1068.8 L209.7 1069.4 L210.2 1069.9 L210.7 1070.5 L211.2 1071.1 L211.7 1071.7 L212.2 1072.2 L212.7 1072.8 L213.2 1073.3 L213.7 1073.8 L214.2 1074.3 L214.7 1074.8 L215.2 1075.3 L215.7 1075.7 L216.2 1076.1 L216.7 1076.5 L217.2 1076.8 L217.7 1077.2 L218.2 1077.4 L218.7 1077.7 L219.2 1077.9 L219.7 1078.2 L220.2 1078.4 L220.7 1078.6 L221.2 1078.9 L221.7 1079.1 L222.2 1079.3 L222.7 1079.5 L223.2 1079.6 L223.7 1079.8 L224.2 1079.9 L224.7 1080.0 L225.2 1080.1 L225.7 1080.2 L226.2 1080.2 L226.7 1080.2 L227.2 1080.2 L227.7 1080.2 L228.2 1080.2 L228.7 1080.2 L229.2 1080.2 L229.7 1080.2 L230.2 1080.2 L230.7 1080.2 L231.2 1080.2 L231.7 1080.2 L232.2 1080.2 L232.7 1080.2 L233.2 1080.2 L233.7 1080.2 L234.2 1080.2 L234.7 1080.2 L235.2 1080.2 L235.7 1080.2 L236.2 1080.2 L236.7 1080.2 L237.2 1080.2 L237.7 1080.2 L238.2 1080.1 L238.7 1080.1 L239.2 1080.0 L239.7 1079.8 L240.2 1079.7 L240.7 1079.5 L241.2 1079.4 L241.7 1079.2 L242.2 1079.0 L242.7 1078.7 L243.2 1078.5 L243.7 1078.3 L244.2 1078.0 L244.7 1077.8 L245.2 1077.5 L245.7 1077.2 L246.2 1077.0 L246.7 1076.7 L247.2 1076.3 L247.7 1075.9 L248.2 1075.5 L248.7 1074.9 L249.2 1074.4 L249.7 1073.8 L250.2 1073.2 L250.7 1072.5 L251.2 1071.8 L251.7 1071.1 L252.2 1070.4 L252.7 1069.6 L253.2 1068.9 L253.7 1068.1 L254.2 1067.3 L254.7 1066.6 L255.2 1065.8 L255.7 1065.0 L256.2 1064.3 L256.7 1063.5 L257.2 1062.8 L257.7 1062.1 L258.2 1061.4 L258.7 1060.8 L259.2 1060.2 L259.7 1059.6 L260.2 1059.0 L260.7 1058.5 L261.2 1058.0 L261.7 1057.6 L262.2 1057.1 L262.7 1056.6 L263.2 1056.2 L263.7 1055.7 L264.2 1055.3 L264.7 1054.9 L265.2 1054.4 L265.7 1053.9 L266.2 1053.5 L266.7 1053.0 L267.2 1052.5 L267.7 1051.9 L268.2 1051.4 L268.7 1050.8 L269.2 1050.2 L269.7 1049.5 L270.2 1048.8 L270.7 1048.1 L271.2 1047.3 L271.7 1046.4 L272.2 1045.6 L272.7 1044.7 L273.2 1043.7 L273.7 1042.8 L274.2 1041.8 L274.7 1040.8 L275.2 1039.7 L275.7 1038.7 L276.2 1037.7 L276.7 1036.6 L277.2 1035.6 L277.7 1034.5 L278.2 1033.5 L278.7 1032.4 L279.2 1031.4 L279.7 1030.4 L280.2 1029.4 L280.7 1028.4 L281.2 1027.4 L281.7 1026.3 L282.2 1025.3 L282.7 1024.3 L283.2 1023.2 L283.7 1022.2 L284.2 1021.1 L284.7 1020.0 L285.2 1018.8 L285.7 1017.7 L286.2 1016.5 L286.7 1015.3 L287.2 1014.1 L287.7 1012.8 L288.2 1011.5 L288.7 1010.1 L289.2 1008.8 L289.7 1007.4 L290.2 1006.0 L290.7 1004.6 L291.2 1003.2 L291.7 1001.8 L292.2 1000.4 L292.7 999.1 L293.2 997.7 L293.7 996.4 L294.2 995.1 L294.7 993.8 L295.2 992.6 L295.7 991.4 L296.2 990.2 L296.7 989.0 L297.2 987.9 L297.7 986.7 L298.2 985.5 L298.7 984.4 L299.2 983.3 L299.7 982.1 L300.2 981.0 L300.7 979.9 L301.2 978.8 L301.7 977.7 L302.2 976.6 L302.7 975.5 L303.2 974.4 L303.7 973.3 L304.2 972.3 L304.7 971.2 L305.2 970.2 L305.7 969.1 L306.2 968.1 L306.7 967.0 L307.2 966.0 L307.7 965.0 L308.2 963.9 L308.7 962.9 L309.2 961.9 L309.7 960.9 L310.2 959.9 L310.7 958.9 L311.2 957.9 L311.7 956.9 L312.2 955.9 L312.7 954.9 L313.2 953.9 L313.7 952.9 L314.2 951.9 L314.7 950.9 L315.2 949.9 L315.7 948.9 L316.2 947.9 L316.7 946.9 L317.2 945.9 L317.7 944.9 L318.2 944.0 L318.7 943.0 L319.2 942.0 L319.7 941.1 L320.2 940.1 L320.7 939.2 L321.2 938.3 L321.7 937.3 L322.2 936.4 L322.7 935.6 L323.2 934.7 L323.7 933.8 L324.2 933.0 L324.7 932.1 L325.2 931.3 L325.7 930.5 L326.2 929.7 L326.7 929.0 L327.2 928.2 L327.7 927.5 L328.2 926.8 L328.7 926.1 L329.2 925.4 L329.7 924.7 L330.2 923.9 L330.7 923.2 L331.2 922.6 L331.7 921.9 L332.2 921.2 L332.7 920.5 L333.2 919.8 L333.7 919.2 L334.2 918.5 L334.7 917.9 L335.2 917.2 L335.7 916.6 L336.2 916.0 L336.7 915.4 L337.2 914.8 L337.7 914.2 L338.2 913.7 L338.7 913.1 L339.2 912.6 L339.7 912.1 L340.2 911.6 L340.7 911.1 L341.2 910.7 L341.7 910.2 L342.2 909.8 L342.7 909.4 L343.2 909.0 L343.7 908.7 L344.2 908.4 L344.7 908.0 L345.2 907.7 L345.7 907.4 L346.2 907.1 L346.7 906.7 L347.2 906.4 L347.7 906.1 L348.2 905.8 L348.7 905.5 L349.2 905.2 L349.7 904.9 L350.2 904.6 L350.7 904.3 L351.2 904.0 L351.7 903.8 L352.2 903.5 L352.7 903.3 L353.2 903.1 L353.7 902.9 L354.2 902.7 L354.7 902.5 L355.2 902.3 L355.7 902.2 L356.2 902.0 L356.7 901.9 L357.2 901.8 L357.7 901.8 L358.2 901.7 L358.7 901.7 L359.2 901.7 L359.7 901.7 L360.2 901.7 L360.7 901.8 L361.2 901.9 L361.7 901.9 L362.2 902.0 L362.7 902.1 L363.2 902.2 L363.7 902.4 L364.2 902.5 L364.7 902.7 L365.2 902.8 L365.7 903.0 L366.2 903.2 L366.7 903.4 L367.2 903.6 L367.7 903.8 L368.2 904.0 L368.7 904.3 L369.2 904.5 L369.7 904.8 L370.2 905.0 L370.7 905.3 L371.2 905.5 L371.7 905.8 L372.2 906.1 L372.7 906.3 L373.2 906.6 L373.7 906.9 L374.2 907.2 L374.7 907.4 L375.2 907.7 L375.7 908.0 L376.2 908.3 L376.7 908.6 L377.2 908.9 L377.7 909.2 L378.2 909.5 L378.7 909.8 L379.2 910.2 L379.7 910.6 L380.2 911.0 L380.7 911.4 L381.2 911.8 L381.7 912.3 L382.2 912.7 L382.7 913.2 L383.2 913.7 L383.7 914.2 L384.2 914.7 L384.7 915.2 L385.2 915.7 L385.7 916.3 L386.2 916.8 L386.7 917.4 L387.2 917.9 L387.7 918.5 L388.2 919.1 L388.7 919.7 L389.2 920.3 L389.7 920.9 L390.2 921.5 L390.7 922.1 L391.2 922.7 L391.7 923.3 L392.2 923.9 L392.7 924.6 L393.2 925.2 L393.7 925.8 L394.2 926.5 L394.7 927.2 L395.2 927.9 L395.7 928.6 L396.2 929.3 L396.7 930.1 L397.2 930.9 L397.7 931.6 L398.2 932.4 L398.7 933.2 L399.2 934.1 L399.7 934.9 L400.2 935.7 L400.7 936.6 L401.2 937.5 L401.7 938.3 L402.2 939.2 L402.7 940.1 L403.2 941.0 L403.7 941.9 L404.2 942.8 L404.7 943.7 L405.2 944.6 L405.7 945.5 L406.2 946.4 L406.7 947.3 L407.2 948.3 L407.7 949.2 L408.2 950.1 L408.7 951.0 L409.2 951.9 L409.7 952.8 L410.2 953.7 L410.7 954.7 L411.2 955.6 L411.7 956.6 L412.2 957.6 L412.7 958.6 L413.2 959.5 L413.7 960.5 L414.2 961.5 L414.7 962.6 L415.2 963.6 L415.7 964.6 L416.2 965.6 L416.7 966.7 L417.2 967.7 L417.7 968.7 L418.2 969.8 L418.7 970.8 L419.2 971.8 L419.7 972.9 L420.2 973.9 L420.7 974.9 L421.2 975.9 L421.7 977.0 L422.2 978.0 L422.7 979.0 L423.2 980.0 L423.7 981.0 L424.2 982.0 L424.7 983.0 L425.2 983.9 L425.7 984.9 L426.2 985.8 L426.7 986.8 L427.2 987.8 L427.7 988.7 L428.2 989.7 L428.7 990.6 L429.2 991.6 L429.7 992.6 L430.2 993.5 L430.7 994.5 L431.2 995.4 L431.7 996.4 L432.2 997.3 L432.7 998.3 L433.2 999.2 L433.7 1000.2 L434.2 1001.1 L434.7 1002.0 L435.2 1002.9 L435.7 1003.9 L436.2 1004.8 L436.7 1005.7 L437.2 1006.6 L437.7 1007.5 L438.2 1008.3 L438.7 1009.2 L439.2 1010.1 L439.7 1010.9 L440.2 1011.8 L440.7 1012.6 L441.2 1013.4 L441.7 1014.2 L442.2 1015.0 L442.7 1015.8 L443.2 1016.6 L443.7 1017.4 L444.2 1018.2 L444.7 1019.0 L445.2 1019.8 L445.7 1020.5 L446.2 1021.3 L446.7 1022.1 L447.2 1022.8 L447.7 1023.6 L448.2 1024.3 L448.7 1025.1 L449.2 1025.8 L449.7 1026.5 L450.2 1027.3 L450.7 1028.0 L451.2 1028.7 L451.7 1029.4 L452.2 1030.1 L452.7 1030.8 L453.2 1031.5 L453.7 1032.2 L454.2 1032.9 L454.7 1033.6 L455.2 1034.3 L455.7 1035.0 L456.2 1035.6 L456.7 1036.3 L457.2 1036.9 L457.7 1037.6 L458.2 1038.2 L458.7 1038.9 L459.2 1039.5 L459.7 1040.1 L460.2 1040.8 L460.7 1041.4 L461.2 1042.0 L461.7 1042.6 L462.2 1043.2 L462.7 1043.8 L463.2 1044.4 L463.7 1045.0 L464.2 1045.6 L464.7 1046.2 L465.2 1046.8 L465.7 1047.4 L466.2 1048.0 L466.7 1048.6 L467.2 1049.2 L467.7 1049.8 L468.2 1050.4 L468.7 1050.9 L469.2 1051.5 L469.7 1052.0 L470.2 1052.6 L470.7 1053.1 L471.2 1053.7 L471.7 1054.2 L472.2 1054.7 L472.7 1055.3 L473.2 1055.8 L473.7 1056.3 L474.2 1056.8 L474.7 1057.3 L475.2 1057.7 L475.7 1058.2 L476.2 1058.7 L476.7 1059.1 L477.2 1059.6 L477.7 1060.0 L478.2 1060.4 L478.7 1060.8 L479.2 1061.2 L479.7 1061.6 L480.2 1062.0 L480.7 1062.4 L481.2 1062.9 L481.7 1063.3 L482.2 1063.7 L482.7 1064.1 L483.2 1064.5 L483.7 1064.9 L484.2 1065.3 L484.7 1065.7 L485.2 1066.1 L485.7 1066.5 L486.2 1066.9 L486.7 1067.3 L487.2 1067.7 L487.7 1068.0 L488.2 1068.4 L488.7 1068.8 L489.2 1069.1 L489.7 1069.4 L490.2 1069.8 L490.7 1070.1 L491.2 1070.4 L491.7 1070.7 L492.2 1071.0 L492.7 1071.3 L493.2 1071.6 L493.7 1071.8 L494.2 1072.1 L494.7 1072.3 L495.2 1072.5 L495.7 1072.7 L496.2 1072.9 L496.7 1073.0 L497.2 1073.2 L497.7 1073.3 L498.2 1073.4 L498.7 1073.5 L499.2 1073.6 L499.7 1073.7 L500.2 1073.7 L500.7 1073.8 L501.2 1073.9 L501.7 1074.0 L502.2 1074.0 L502.7 1074.1 L503.2 1074.2 L503.7 1074.3 L504.2 1074.3 L504.7 1074.4 L505.2 1074.5 L505.7 1074.5 L506.2 1074.6 L506.7 1074.7 L507.2 1074.7 L507.7 1074.8 L508.2 1074.9 L508.7 1074.9 L509.2 1075.0 L509.7 1075.0 L510.2 1075.1 L510.7 1075.1 L511.2 1075.2 L511.7 1075.2 L512.2 1075.3 L512.7 1075.3 L513.2 1075.4 L513.7 1075.4 L514.2 1075.5 L514.7 1075.5 L515.2 1075.6 L515.7 1075.6 L516.2 1075.7 L516.7 1075.7 L517.2 1075.7 L517.7 1075.8 L518.2 1075.8 L518.7 1075.8 L519.2 1075.9 L519.7 1075.9 L520.2 1075.9 L520.7 1076.0 L521.2 1076.0 L521.7 1076.0 L522.2 1076.0 L522.7 1076.1 L523.2 1076.1 L523.7 1076.1 L524.2 1076.1 L524.7 1076.1 L525.2 1076.1 L525.7 1076.2 L526.2 1076.2 L526.7 1076.2 L527.2 1076.2 L527.7 1076.2 L528.2 1076.2 L528.7 1076.2 L529.2 1076.2 L529.7 1076.2 L530.2 1076.2 L530.7 1076.1 L531.2 1076.1 L531.7 1076.0 L532.2 1076.0 L532.7 1075.9 L533.2 1075.8 L533.7 1075.6 L534.2 1075.5 L534.7 1075.4 L535.2 1075.2 L535.7 1075.0 L536.2 1074.9 L536.7 1074.7 L537.2 1074.5 L537.7 1074.3 L538.2 1074.1 L538.7 1073.9 L539.2 1073.7 L539.7 1073.4 L540.2 1073.2 L540.7 1073.0 L541.2 1072.8 L541.7 1072.5 L542.2 1072.3 L542.7 1072.1 L543.2 1071.8 L543.7 1071.6 L544.2 1071.4 L544.7 1071.1 L545.2 1070.9 L545.7 1070.7 L546.2 1070.5 L546.7 1070.3 L547.2 1070.1 L547.7 1069.9 L548.2 1069.7 L548.7 1069.5 L549.2 1069.3 L549.7 1069.1 L550.2 1068.9 L550.7 1068.7 L551.2 1068.5 L551.7 1068.3 L552.2 1068.1 L552.7 1067.9 L553.2 1067.6 L553.7 1067.4 L554.2 1067.2 L554.7 1067.0 L555.2 1066.8 L555.7 1066.6 L556.2 1066.4 L556.7 1066.2 L557.2 1066.0 L557.7 1065.7 L558.2 1065.5 L558.7 1065.3 L559.2 1065.1 L559.7 1064.9 L560.2 1064.6 L560.7 1064.4 L561.2 1064.2 L561.7 1063.9 L562.2 1063.7 L562.7 1063.5 L563.2 1063.2 L563.7 1063.0 L564.2 1062.7 L564.7 1062.5 L565.2 1062.2 L565.7 1062.0 L566.2 1061.7 L566.7 1061.4 L567.2 1061.2 L567.7 1060.9 L568.2 1060.6 L568.7 1060.4 L569.2 1060.1 L569.7 1059.8 L570.2 1059.5 L570.7 1059.2 L571.2 1058.9 L571.7 1058.6 L572.2 1058.3 L572.7 1058.0 L573.2 1057.7 L573.7 1057.4 L574.2 1057.1 L574.7 1056.7 L575.2 1056.4 L575.7 1056.0 L576.2 1055.7 L576.7 1055.3 L577.2 1055.0 L577.7 1054.6 L578.2 1054.2 L578.7 1053.9 L579.2 1053.5 L579.7 1053.1 L580.2 1052.7 L580.7 1052.3 L581.2 1051.9 L581.7 1051.5 L582.2 1051.1 L582.7 1050.7 L583.2 1050.3 L583.7 1049.9 L584.2 1049.5 L584.7 1049.1 L585.2 1048.6 L585.7 1048.2 L586.2 1047.8 L586.7 1047.3 L587.2 1046.9 L587.7 1046.5 L588.2 1046.0 L588.7 1045.6 L589.2 1045.2 L589.7 1044.7 L590.2 1044.3 L590.7 1043.8 L591.2 1043.4 L591.7 1042.9 L592.2 1042.5 L592.7 1042.0 L593.2 1041.5 L593.7 1041.1 L594.2 1040.6 L594.7 1040.2 L595.2 1039.7 L595.7 1039.3 L596.2 1038.8 L596.7 1038.3 L597.2 1037.9 L597.7 1037.4 L598.2 1037.0 L598.7 1036.5 L599.2 1036.1 L599.7 1035.6 L600.2 1035.1 L600.7 1034.7 L601.2 1034.2 L601.7 1033.8 L602.2 1033.3 L602.7 1032.9 L603.2 1032.4 L603.7 1032.0 L604.2 1031.5 L604.7 1031.0 L605.2 1030.6 L605.7 1030.1 L606.2 1029.6 L606.7 1029.1 L607.2 1028.7 L607.7 1028.2 L608.2 1027.7 L608.7 1027.2 L609.2 1026.7 L609.7 1026.2 L610.2 1025.7 L610.7 1025.3 L611.2 1024.8 L611.7 1024.3 L612.2 1023.8 L612.7 1023.3 L613.2 1022.8 L613.7 1022.3 L614.2 1021.8 L614.7 1021.2 L615.2 1020.7 L615.7 1020.2 L616.2 1019.7 L616.7 1019.2 L617.2 1018.7 L617.7 1018.2 L618.2 1017.7 L618.7 1017.2 L619.2 1016.7 L619.7 1016.1 L620.2 1015.6 L620.7 1015.1 L621.2 1014.6 L621.7 1014.1 L622.2 1013.6 L622.7 1013.1 L623.2 1012.5 L623.7 1012.0 L624.2 1011.5 L624.7 1011.0 L625.2 1010.5 L625.7 1010.0 L626.2 1009.5 L626.7 1009.0 L627.2 1008.5 L627.7 1007.9 L628.2 1007.4 L628.7 1006.9 L629.2 1006.4 L629.7 1005.9 L630.2 1005.4 L630.7 1004.9 L631.2 1004.4 L631.7 1003.9 L632.2 1003.4" stroke="#b551a4"/>
<path d="M149.3 697.0 L149.8 700.6 L150.3 704.2 L150.8 707.9 L151.3 711.6 L151.8 715.2 L152.3 718.9 L152.8 722.4 L153.3 725.9 L153.8 729.3 L154.3 732.7 L154.8 735.8 L155.3 738.9 L155.8 741.9 L156.3 744.8 L156.8 747.7 L157.3 750.5 L157.8 753.3 L158.3 756.2 L158.8 759.1 L159.3 762.0 L159.8 765.0 L160.3 768.1 L160.8 771.2 L161.3 774.6 L161.8 778.0 L162.3 781.6 L162.8 785.4 L163.3 789.1 L163.8 793.0 L164.3 796.9 L164.8 800.9 L165.3 804.9 L165.8 808.8 L166.3 812.8 L166.8 816.7 L167.3 820.7 L167.8 824.9 L168.3 829.1 L168.8 833.3 L169.3 837.5 L169.8 841.6 L170.3 845.6 L170.8 849.3 L171.3 852.7 L171.8 855.8 L172.3 858.8 L172.8 861.6 L173.3 864.3 L173.8 866.8 L174.3 869.3 L174.8 871.7 L175.3 874.1 L175.8 876.5 L176.3 878.8 L176.8 881.2 L177.3 883.5 L177.8 886.0 L178.3 888.5 L178.8 891.0 L179.3 893.6 L179.8 896.1 L180.3 898.6 L180.8 901.1 L181.3 903.6 L181.8 906.1 L182.3 908.6 L182.8 911.1 L183.3 913.6 L183.8 916.1 L184.3 918.6 L184.8 921.1 L185.3 923.5 L185.8 926.0 L186.3 928.5 L186.8 931.0 L187.3 933.5 L187.8 936.0 L188.3 938.5 L188.8 941.0 L189.3 943.5 L189.8 946.0 L190.3 948.4 L190.8 950.7 L191.3 953.0 L191.8 955.3 L192.3 957.4 L192.8 959.5 L193.3 961.5 L193.8 963.3 L194.3 965.1 L194.8 966.8 L195.3 968.5 L195.8 970.1 L196.3 971.7 L196.8 973.2 L197.3 974.8 L197.8 976.4 L198.3 978.0 L198.8 979.6 L199.3 981.3 L199.8 983.0 L200.3 984.8 L200.8 986.8 L201.3 988.8 L201.8 990.9 L202.3 993.4 L202.8 996.1 L203.3 999.1 L203.8 1002.2 L204.3 1005.4 L204.8 1008.6 L205.3 1011.6 L205.8 1014.5 L206.3 1017.0 L206.8 1019.2 L207.3 1021.1 L207.8 1022.7 L208.3 1024.3 L208.8 1025.7 L209.3 1027.0 L209.8 1028.3 L210.3 1029.5 L210.8 1030.7 L211.3 1031.8 L211.8 1033.0 L212.3 1034.2 L212.8 1035.5 L213.3 1036.8 L213.8 1038.1 L214.3 1039.5 L214.8 1040.9 L215.3 1042.3 L215.8 1043.7 L216.3 1045.1 L216.8 1046.5 L217.3 1048.0 L217.8 1049.4 L218.3 1050.8 L218.8 1052.2 L219.3 1053.5 L219.8 1054.9 L220.3 1056.2 L220.8 1057.5 L221.3 1058.7 L221.8 1059.9 L222.3 1061.1 L222.8 1062.2 L223.3 1063.2 L223.8 1064.2 L224.3 1065.2 L224.8 1066.2 L225.3 1067.1 L225.8 1068.1 L226.3 1069.0 L226.8 1069.8 L227.3 1070.7 L227.8 1071.6 L228.3 1072.4 L228.8 1073.2 L229.3 1074.0 L229.8 1074.7 L230.3 1075.5 L230.8 1076.2 L231.3 1076.9 L231.8 1077.6 L232.3 1078.3 L232.8 1079.1 L233.3 1079.8 L233.8 1080.6 L234.3 1081.4 L234.8 1082.1 L235.3 1082.8 L235.8 1083.4 L236.3 1084.0 L236.8 1084.5 L237.3 1084.8 L237.8 1085.1 L238.3 1085.2 L238.8 1085.2 L239.3 1085.1 L239.8 1085.1 L240.3 1084.9 L240.8 1084.8 L241.3 1084.6 L241.8 1084.5 L242.3 1084.2 L242.8 1084.0 L243.3 1083.8 L243.8 1083.5 L244.3 1083.3 L244.8 1083.0 L245.3 1082.7 L245.8 1082.5 L246.3 1082.2 L246.8 1081.9 L247.3 1081.6 L247.8 1081.3 L248.3 1081.0 L248.8 1080.7 L249.3 1080.3 L249.8 1079.9 L250.3 1079.5 L250.8 1079.1 L251.3 1078.6 L251.8 1078.2 L252.3 1077.7 L252.8 1077.2 L253.3 1076.6 L253.8 1076.1 L254.3 1075.5 L254.8 1074.9 L255.3 1074.2 L255.8 1073.6 L256.3 1072.9 L256.8 1072.1 L257.3 1071.2 L257.8 1070.2 L258.3 1069.1 L258.8 1067.8 L259.3 1066.6 L259.8 1065.2 L260.3 1063.8 L260.8 1062.4 L261.3 1060.9 L261.8 1059.5 L262.3 1058.1 L262.8 1056.7 L263.3 1055.3 L263.8 1053.9 L264.3 1052.4 L264.8 1051.0 L265.3 1049.5 L265.8 1047.9 L266.3 1046.4 L266.8 1044.9 L267.3 1043.3 L267.8 1041.8 L268.3 1040.2 L268.8 1038.7 L269.3 1037.1 L269.8 1035.6 L270.3 1034.0 L270.8 1032.4 L271.3 1030.8 L271.8 1029.2 L272.3 1027.7 L272.8 1026.1 L273.3 1024.5 L273.8 1023.0 L274.3 1021.5 L274.8 1020.0 L275.3 1018.6 L275.8 1017.3 L276.3 1016.0 L276.8 1014.7 L277.3 1013.4 L277.8 1012.1 L278.3 1010.7 L278.8 1009.2 L279.3 1007.6 L279.8 1006.0 L280.3 1004.3 L280.8 1002.6 L281.3 1000.8 L281.8 999.0 L282.3 997.1 L282.8 995.2 L283.3 993.2 L283.8 991.3 L284.3 989.3 L284.8 987.2 L285.3 985.2 L285.8 983.1 L286.3 981.0 L286.8 978.8 L287.3 976.7 L287.8 974.6 L288.3 972.4 L288.8 970.2 L289.3 968.0 L289.8 965.9 L290.3 963.7 L290.8 961.5 L291.3 959.3 L291.8 957.2 L292.3 955.0 L292.8 952.9 L293.3 950.7 L293.8 948.5 L294.3 946.2 L294.8 944.0 L295.3 941.7 L295.8 939.4 L296.3 937.1 L296.8 934.7 L297.3 932.4 L297.8 930.0 L298.3 927.6 L298.8 925.3 L299.3 922.9 L299.8 920.5 L300.3 918.2 L300.8 915.8 L301.3 913.4 L301.8 911.1 L302.3 908.8 L302.8 906.5 L303.3 904.2 L303.8 901.9 L304.3 899.6 L304.8 897.4 L305.3 895.2 L305.8 893.1 L306.3 890.9 L306.8 888.8 L307.3 886.6 L307.8 884.5 L308.3 882.3 L308.8 880.1 L309.3 878.0 L309.8 875.8 L310.3 873.7 L310.8 871.6 L311.3 869.4 L311.8 867.3 L312.3 865.2 L312.8 863.1 L313.3 861.1 L313.8 859.0 L314.3 857.0 L314.8 855.1 L315.3 853.1 L315.8 851.2 L316.3 849.3 L316.8 847.5 L317.3 845.6 L317.8 843.9 L318.3 842.2 L318.8 840.5 L319.3 838.9 L319.8 837.3 L320.3 835.7 L320.8 834.2 L321.3 832.6 L321.8 831.1 L322.3 829.6 L322.8 828.1 L323.3 826.6 L323.8 825.2 L324.3 823.7 L324.8 822.3 L325.3 820.9 L325.8 819.6 L326.3 818.2 L326.8 816.9 L327.3 815.6 L327.8 814.3 L328.3 813.1 L328.8 811.9 L329.3 810.7 L329.8 809.5 L330.3 808.4 L330.8 807.3 L331.3 806.3 L331.8 805.3 L332.3 804.3 L332.8 803.3 L333.3 802.4 L333.8 801.5 L334.3 800.6 L334.8 799.8 L335.3 798.9 L335.8 798.1 L336.3 797.2 L336.8 796.4 L337.3 795.6 L337.8 794.8 L338.3 794.1 L338.8 793.3 L339.3 792.6 L339.8 792.0 L340.3 791.3 L340.8 790.7 L341.3 790.1 L341.8 789.6 L342.3 789.0 L342.8 788.6 L343.3 788.1 L343.8 787.7 L344.3 787.4 L344.8 787.0 L345.3 786.7 L345.8 786.3 L346.3 786.0 L346.8 785.7 L347.3 785.3 L347.8 785.0 L348.3 784.8 L348.8 784.5 L349.3 784.3 L349.8 784.1 L350.3 783.9 L350.8 783.8 L351.3 783.7 L351.8 783.6 L352.3 783.6 L352.8 783.6 L353.3 783.7 L353.8 783.8 L354.3 783.9 L354.8 784.1 L355.3 784.3 L355.8 784.5 L356.3 784.7 L356.8 785.0 L357.3 785.3 L357.8 785.6 L358.3 785.9 L358.8 786.3 L359.3 786.7 L359.8 787.1 L360.3 787.5 L360.8 787.9 L361.3 788.4 L361.8 788.9 L362.3 789.3 L362.8 789.8 L363.3 790.3 L363.8 790.8 L364.3 791.3 L364.8 791.9 L365.3 792.4 L365.8 792.9 L366.3 793.5 L366.8 794.0 L367.3 794.5 L367.8 795.1 L368.3 795.6 L368.8 796.1 L369.3 796.7 L369.8 797.3 L370.3 797.9 L370.8 798.6 L371.3 799.2 L371.8 800.0 L372.3 800.7 L372.8 801.5 L373.3 802.3 L373.8 803.1 L374.3 803.9 L374.8 804.8 L375.3 805.6 L375.8 806.5 L376.3 807.5 L376.8 808.4 L377.3 809.3 L377.8 810.3 L378.3 811.3 L378.8 812.3 L379.3 813.3 L379.8 814.3 L380.3 815.3 L380.8 816.4 L381.3 817.4 L381.8 818.5 L382.3 819.5 L382.8 820.7 L383.3 821.8 L383.8 823.0 L384.3 824.2 L384.8 825.5 L385.3 826.7 L385.8 828.0 L386.3 829.4 L386.8 830.8 L387.3 832.1 L387.8 833.6 L388.3 835.0 L388.8 836.4 L389.3 837.9 L389.8 839.4 L390.3 840.9 L390.8 842.4 L391.3 843.9 L391.8 845.4 L392.3 846.9 L392.8 848.4 L393.3 850.0 L393.8 851.5 L394.3 853.0 L394.8 854.5 L395.3 856.0 L395.8 857.5 L396.3 859.0 L396.8 860.5 L397.3 862.1 L397.8 863.6 L398.3 865.2 L398.8 866.8 L399.3 868.4 L399.8 870.0 L400.3 871.7 L400.8 873.3 L401.3 874.9 L401.8 876.6 L402.3 878.2 L402.8 879.9 L403.3 881.5 L403.8 883.2 L404.3 884.8 L404.8 886.4 L405.3 888.0 L405.8 889.7 L406.3 891.3 L406.8 892.9 L407.3 894.4 L407.8 896.0 L408.3 897.6 L408.8 899.1 L409.3 900.6 L409.8 902.1 L410.3 903.6 L410.8 905.1 L411.3 906.6 L411.8 908.0 L412.3 909.5 L412.8 911.0 L413.3 912.4 L413.8 913.9 L414.3 915.4 L414.8 916.8 L415.3 918.2 L415.8 919.7 L416.3 921.1 L416.8 922.5 L417.3 924.0 L417.8 925.4 L418.3 926.8 L418.8 928.2 L419.3 929.6 L419.8 931.0 L420.3 932.4 L420.8 933.7 L421.3 935.1 L421.8 936.5 L422.3 937.9 L422.8 939.2 L423.3 940.6 L423.8 941.9 L424.3 943.3 L424.8 944.6 L425.3 946.0 L425.8 947.3 L426.3 948.6 L426.8 950.0 L427.3 951.3 L427.8 952.6 L428.3 954.0 L428.8 955.3 L429.3 956.7 L429.8 958.0 L430.3 959.3 L430.8 960.6 L431.3 962.0 L431.8 963.3 L432.3 964.6 L432.8 965.9 L433.3 967.2 L433.8 968.5 L434.3 969.7 L434.8 971.0 L435.3 972.3 L435.8 973.5 L436.3 974.8 L436.8 976.0 L437.3 977.2 L437.8 978.4 L438.3 979.6 L438.8 980.8 L439.3 981.9 L439.8 983.1 L440.3 984.2 L440.8 985.3 L441.3 986.4 L441.8 987.5 L442.3 988.6 L442.8 989.6 L443.3 990.7 L443.8 991.7 L444.3 992.7 L444.8 993.8 L445.3 994.8 L445.8 995.8 L446.3 996.8 L446.8 997.8 L447.3 998.8 L447.8 999.7 L448.3 1000.7 L448.8 1001.7 L449.3 1002.6 L449.8 1003.5 L450.3 1004.5 L450.8 1005.4 L451.3 1006.3 L451.8 1007.2 L452.3 1008.1 L452.8 1009.0 L453.3 1009.9 L453.8 1010.8 L454.3 1011.6 L454.8 1012.5 L455.3 1013.3 L455.8 1014.2 L456.3 1015.0 L456.8 1015.8 L457.3 1016.6 L457.8 1017.4 L458.3 1018.2 L458.8 1019.0 L459.3 1019.7 L459.8 1020.5 L460.3 1021.3 L460.8 1022.0 L461.3 1022.8 L461.8 1023.5 L462.3 1024.2 L462.8 1025.0 L463.3 1025.7 L463.8 1026.4 L464.3 1027.1 L464.8 1027.8 L465.3 1028.5 L465.8 1029.2 L466.3 1029.9 L466.8 1030.5 L467.3 1031.2 L467.8 1031.9 L468.3 1032.5 L468.8 1033.2 L469.3 1033.8 L469.8 1034.5 L470.3 1035.1 L470.8 1035.7 L471.3 1036.4 L471.8 1037.0 L472.3 1037.6 L472.8 1038.2 L473.3 1038.8 L473.8 1039.4 L474.3 1040.0 L474.8 1040.5 L475.3 1041.1 L475.8 1041.7 L476.3 1042.3 L476.8 1042.8 L477.3 1043.4 L477.8 1044.0 L478.3 1044.5 L478.8 1045.1 L479.3 1045.6 L479.8 1046.2 L480.3 1046.7 L480.8 1047.3 L481.3 1047.8 L481.8 1048.3 L482.3 1048.9 L482.8 1049.4 L483.3 1049.9 L483.8 1050.4 L484.3 1050.9 L484.8 1051.5 L485.3 1052.0 L485.8 1052.4 L486.3 1052.9 L486.8 1053.4 L487.3 1053.9 L487.8 1054.4 L488.3 1054.8 L488.8 1055.3 L489.3 1055.7 L489.8 1056.2 L490.3 1056.6 L490.8 1057.0 L491.3 1057.4 L491.8 1057.8 L492.3 1058.2 L492.8 1058.6 L493.3 1059.0 L493.8 1059.4 L494.3 1059.7 L494.8 1060.1 L495.3 1060.5 L495.8 1060.9 L496.3 1061.2 L496.8 1061.6 L497.3 1062.0 L497.8 1062.3 L498.3 1062.7 L498.8 1063.0 L499.3 1063.4 L499.8 1063.7 L500.3 1064.1 L500.8 1064.4 L501.3 1064.8 L501.8 1065.1 L502.3 1065.4 L502.8 1065.7 L503.3 1066.0 L503.8 1066.3 L504.3 1066.6 L504.8 1066.9 L505.3 1067.2 L505.8 1067.5 L506.3 1067.8 L506.8 1068.0 L507.3 1068.3 L507.8 1068.5 L508.3 1068.7 L508.8 1068.9 L509.3 1069.1 L509.8 1069.3 L510.3 1069.5 L510.8 1069.7 L511.3 1069.9 L511.8 1070.0 L512.3 1070.2 L512.8 1070.3 L513.3 1070.5 L513.8 1070.6 L514.3 1070.8 L514.8 1070.9 L515.3 1071.1 L515.8 1071.2 L516.3 1071.4 L516.8 1071.5 L517.3 1071.7 L517.8 1071.8 L518.3 1072.0 L518.8 1072.1 L519.3 1072.2 L519.8 1072.4 L520.3 1072.5 L520.8 1072.6 L521.3 1072.8 L521.8 1072.9 L522.3 1073.0 L522.8 1073.1 L523.3 1073.3 L523.8 1073.4 L524.3 1073.5 L524.8 1073.6 L525.3 1073.7 L525.8 1073.8 L526.3 1073.9 L526.8 1074.0 L527.3 1074.1 L527.8 1074.2 L528.3 1074.3 L528.8 1074.4 L529.3 1074.5 L529.8 1074.6 L530.3 1074.7 L530.8 1074.7 L531.3 1074.8 L531.8 1074.9 L532.3 1074.9 L532.8 1075.0 L533.3 1075.0 L533.8 1075.1 L534.3 1075.1 L534.8 1075.2 L535.3 1075.2 L535.8 1075.2 L536.3 1075.2 L536.8 1075.3 L537.3 1075.3 L537.8 1075.3 L538.3 1075.3 L538.8 1075.3 L539.3 1075.3 L539.8 1075.3 L540.3 1075.3 L540.8 1075.3 L541.3 1075.2 L541.8 1075.2 L542.3 1075.2 L542.8 1075.2 L543.3 1075.1 L543.8 1075.1 L544.3 1075.1 L544.8 1075.0 L545.3 1075.0 L545.8 1074.9 L546.3 1074.9 L546.8 1074.8 L547.3 1074.8 L547.8 1074.7 L548.3 1074.7 L548.8 1074.6 L549.3 1074.5 L549.8 1074.5 L550.3 1074.4 L550.8 1074.3 L551.3 1074.3 L551.8 1074.2 L552.3 1074.1 L552.8 1074.1 L553.3 1074.0 L553.8 1073.9 L554.3 1073.8 L554.8 1073.8 L555.3 1073.7 L555.8 1073.6 L556.3 1073.5 L556.8 1073.5 L557.3 1073.4 L557.8 1073.3 L558.3 1073.2 L558.8 1073.1 L559.3 1073.0 L559.8 1072.8 L560.3 1072.7 L560.8 1072.6 L561.3 1072.4 L561.8 1072.3 L562.3 1072.1 L562.8 1072.0 L563.3 1071.8 L563.8 1071.6 L564.3 1071.4 L564.8 1071.3 L565.3 1071.1 L565.8 1070.9 L566.3 1070.7 L566.8 1070.5 L567.3 1070.3 L567.8 1070.1 L568.3 1069.9 L568.8 1069.6 L569.3 1069.4 L569.8 1069.2 L570.3 1069.0 L570.8 1068.7 L571.3 1068.5 L571.8 1068.3 L572.3 1068.0 L572.8 1067.8 L573.3 1067.6 L573.8 1067.3 L574.3 1067.1 L574.8 1066.9 L575.3 1066.6 L575.8 1066.4 L576.3 1066.1 L576.8 1065.9 L577.3 1065.7 L577.8 1065.4 L578.3 1065.2 L578.8 1064.9 L579.3 1064.7 L579.8 1064.5 L580.3 1064.2 L580.8 1064.0 L581.3 1063.8 L581.8 1063.5 L582.3 1063.3 L582.8 1063.1 L583.3 1062.9 L583.8 1062.7 L584.3 1062.4 L584.8 1062.2 L585.3 1062.0 L585.8 1061.8 L586.3 1061.6 L586.8 1061.4 L587.3 1061.2 L587.8 1061.0 L588.3 1060.7 L588.8 1060.5 L589.3 1060.3 L589.8 1060.1 L590.3 1059.9 L590.8 1059.7 L591.3 1059.5 L591.8 1059.3 L592.3 1059.0 L592.8 1058.8 L593.3 1058.6 L593.8 1058.4 L594.3 1058.2 L594.8 1058.0 L595.3 1057.7 L595.8 1057.5 L596.3 1057.3 L596.8 1057.1 L597.3 1056.9 L597.8 1056.6 L598.3 1056.4 L598.8 1056.2 L599.3 1055.9 L599.8 1055.7 L600.3 1055.5 L600.8 1055.2 L601.3 1055.0 L601.8 1054.8 L602.3 1054.5 L602.8 1054.3 L603.3 1054.0 L603.8 1053.8 L604.3 1053.5 L604.8 1053.3 L605.3 1053.0 L605.8 1052.8 L606.3 1052.5 L606.8 1052.3 L607.3 1052.0 L607.8 1051.7 L608.3 1051.5 L608.8 1051.2 L609.3 1050.9 L609.8 1050.6 L610.3 1050.3 L610.8 1050.1 L611.3 1049.8 L611.8 1049.5 L612.3 1049.2 L612.8 1048.9 L613.3 1048.5 L613.8 1048.2 L614.3 1047.9 L614.8 1047.5 L615.3 1047.2 L615.8 1046.9 L616.3 1046.5 L616.8 1046.1 L617.3 1045.8 L617.8 1045.4 L618.3 1045.0 L618.8 1044.7 L619.3 1044.3 L619.8 1043.9 L620.3 1043.5 L620.8 1043.2 L621.3 1042.8 L621.8 1042.4 L622.3 1042.0 L622.8 1041.6 L623.3 1041.2 L623.8 1040.8 L624.3 1040.4 L624.8 1040.0 L625.3 1039.6 L625.8 1039.2 L626.3 1038.8 L626.8 1038.4 L627.3 1038.0 L627.8 1037.6 L628.3 1037.3 L628.8 1036.9 L629.3 1036.5 L629.8 1036.1 L630.3 1035.7 L630.8 1035.3 L631.3 1034.9 L631.8 1034.6 L632.3 1034.2" stroke="#3c53a4"/>
</g>
<line x1="482.70" y1="670.60" x2="520.30" y2="670.60" stroke="#111111" stroke-width="4.50" stroke-linecap="butt"/>
<text x="530.55" y="678.20" font-size="30.00" font-weight="normal" font-style="normal" textLength="33.62" lengthAdjust="spacingAndGlyphs">75</text>
<line x1="482.70" y1="704.50" x2="520.30" y2="704.50" stroke="#e8222a" stroke-width="4.50" stroke-linecap="butt"/>
<text x="530.87" y="712.75" font-size="30.00" font-weight="normal" font-style="normal" textLength="49.59" lengthAdjust="spacingAndGlyphs">350</text>
<line x1="482.70" y1="738.40" x2="520.30" y2="738.40" stroke="#63b946" stroke-width="4.50" stroke-linecap="butt"/>
<text x="530.46" y="747.30" font-size="30.00" font-weight="normal" font-style="normal">750</text>
<line x1="482.70" y1="772.30" x2="520.30" y2="772.30" stroke="#7c7a35" stroke-width="4.50" stroke-linecap="butt"/>
<text x="531.67" y="781.85" font-size="30.00" font-weight="normal" font-style="normal" textLength="65.18" lengthAdjust="spacingAndGlyphs">1500</text>
<line x1="482.70" y1="806.20" x2="520.30" y2="806.20" stroke="#b551a4" stroke-width="4.50" stroke-linecap="butt"/>
<text x="530.71" y="816.40" font-size="30.00" font-weight="normal" font-style="normal" textLength="66.05" lengthAdjust="spacingAndGlyphs">2500</text>
<line x1="482.70" y1="840.10" x2="520.30" y2="840.10" stroke="#3c53a4" stroke-width="4.50" stroke-linecap="butt"/>
<text x="530.91" y="850.95" font-size="30.00" font-weight="normal" font-style="normal" textLength="65.84" lengthAdjust="spacingAndGlyphs">5500</text>
<text x="678.36" y="659.20" font-size="42.50" font-weight="bold" font-style="normal">d</text>
<defs>
<pattern id="pb" patternUnits="userSpaceOnUse" x="851.29" y="1071.49" width="11.64" height="9.24"><rect x="0" y="0" width="5.82" height="4.62" fill="#5f93d3"/><rect x="5.82" y="4.62" width="5.82" height="4.62" fill="#5f93d3"/></pattern>
<pattern id="pr" patternUnits="userSpaceOnUse" x="1059.09" y="1073.59" width="11.64" height="9.24"><rect x="0" y="0" width="5.82" height="4.62" fill="#f27a7e"/><rect x="5.82" y="4.62" width="5.82" height="4.62" fill="#f27a7e"/></pattern>
</defs>
<line x1="778.40" y1="1119.90" x2="789.60" y2="1119.90" stroke="#000" stroke-width="2.20" stroke-linecap="butt"/>
<text x="752.16" y="1130.10" font-size="34.50" font-weight="normal" font-style="normal">0</text>
<line x1="778.40" y1="1027.44" x2="789.60" y2="1027.44" stroke="#000" stroke-width="2.20" stroke-linecap="butt"/>
<text x="752.55" y="1038.16" font-size="34.50" font-weight="normal" font-style="normal">2</text>
<line x1="778.40" y1="934.98" x2="789.60" y2="934.98" stroke="#000" stroke-width="2.20" stroke-linecap="butt"/>
<text x="751.82" y="946.22" font-size="34.50" font-weight="normal" font-style="normal">4</text>
<line x1="778.40" y1="842.52" x2="789.60" y2="842.52" stroke="#000" stroke-width="2.20" stroke-linecap="butt"/>
<text x="752.33" y="854.28" font-size="34.50" font-weight="normal" font-style="normal">6</text>
<line x1="778.40" y1="750.06" x2="789.60" y2="750.06" stroke="#000" stroke-width="2.20" stroke-linecap="butt"/>
<text x="752.31" y="762.34" font-size="34.50" font-weight="normal" font-style="normal">8</text>
<line x1="778.40" y1="657.60" x2="789.60" y2="657.60" stroke="#000" stroke-width="2.20" stroke-linecap="butt"/>
<text x="734.69" y="670.40" font-size="34.50" font-weight="normal" font-style="normal" textLength="36.59" lengthAdjust="spacingAndGlyphs">10</text>
<line x1="789.60" y1="656.50" x2="789.60" y2="1119.90" stroke="#000" stroke-width="2.20" stroke-linecap="butt"/>
<line x1="778.40" y1="1119.90" x2="1221.20" y2="1119.90" stroke="#000" stroke-width="2.20" stroke-linecap="butt"/>
<rect x="847.0" y="703.2" width="108.0" height="416.7" fill="url(#pb)" stroke="#000" stroke-width="2.4"/>
<rect x="1054.2" y="769.0" width="108.5" height="350.9" fill="url(#pr)" stroke="#000" stroke-width="2.3"/>
<line x1="900.90" y1="684.00" x2="900.90" y2="720.00" stroke="#000" stroke-width="5.30" stroke-linecap="butt"/>
<line x1="872.80" y1="684.00" x2="928.20" y2="684.00" stroke="#000" stroke-width="4.00" stroke-linecap="butt"/>
<line x1="872.80" y1="720.00" x2="928.20" y2="720.00" stroke="#000" stroke-width="4.00" stroke-linecap="butt"/>
<line x1="1108.50" y1="756.90" x2="1108.50" y2="780.40" stroke="#000" stroke-width="5.30" stroke-linecap="butt"/>
<line x1="1080.90" y1="756.90" x2="1135.90" y2="756.90" stroke="#000" stroke-width="3.90" stroke-linecap="butt"/>
<line x1="1080.90" y1="780.40" x2="1135.90" y2="780.40" stroke="#000" stroke-width="3.90" stroke-linecap="butt"/>
<ellipse cx="883.2" cy="687.4" rx="9.4" ry="7.4" fill="#3b52a8"/>
<ellipse cx="918.3" cy="696.0" rx="9.4" ry="7.4" fill="#3b52a8"/>
<ellipse cx="900.9" cy="722.2" rx="9.4" ry="7.4" fill="#3b52a8"/>
<ellipse cx="1090.9" cy="761.1" rx="9.1" ry="7.3" fill="#e82126"/>
<ellipse cx="1126.0" cy="762.5" rx="9.1" ry="7.3" fill="#e82126"/>
<ellipse cx="1108.5" cy="781.9" rx="9.1" ry="7.3" fill="#e82126"/>
<text transform="translate(707.90 978.80) rotate(-90)" x="-1.70" y="0" font-size="34" textLength="184.47" lengthAdjust="spacingAndGlyphs">Current (μA)</text>
<text x="860.56" y="1157.70" font-size="34.00" font-weight="normal" font-style="normal">Initial</text>
<text x="832.19" y="1196.90" font-size="34.00" font-weight="normal" font-style="normal" textLength="136.19" lengthAdjust="spacingAndGlyphs">detection</text>
<text x="1004.14" y="1157.70" font-size="34.00" font-weight="normal" font-style="normal" textLength="218.92" lengthAdjust="spacingAndGlyphs">Detection after</text>
<text x="1035.10" y="1196.90" font-size="34.00" font-weight="normal" font-style="normal" textLength="157.26" lengthAdjust="spacingAndGlyphs">one month</text>
</svg></body></html>
